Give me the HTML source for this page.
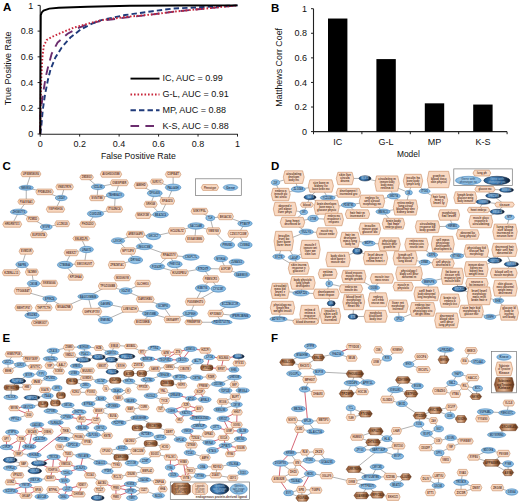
<!DOCTYPE html>
<html><head><meta charset="utf-8"><style>
*{margin:0;padding:0}
html,body{width:520px;height:503px;overflow:hidden;background:#fff}
svg{display:block;font-family:"Liberation Sans",sans-serif}
.lab{font-weight:bold;font-size:11.5px;fill:#000}
.tl{font-size:9px;fill:#111}
.tl2{font-size:8.9px;fill:#111}
.axis{fill:none;stroke:#222;stroke-width:1.1}
.tick{stroke:#222;stroke-width:1}
.ic{fill:none;stroke:#000;stroke-width:1.9}
.gl{fill:none;stroke:#c8263a;stroke-width:1.9;stroke-dasharray:1.6 1.9}
.mp{fill:none;stroke:#1f3a7a;stroke-width:1.9;stroke-dasharray:5.4 3.1}
.ks{fill:none;stroke:#6b2d6e;stroke-width:1.9;stroke-dasharray:8.6 6.3}
.o{fill:#f9d9c2;stroke:#c7895f;stroke-width:0.6}
.b{fill:url(#gb);stroke:#4a86ba;stroke-width:0.55}
.k{fill:url(#gk);stroke:#142b45;stroke-width:0.55}
.r{fill:url(#gr);stroke:#6a3a1c;stroke-width:0.5}
.box{fill:none;stroke:#777;stroke-width:0.7}
.e{stroke:#7d7d7d;stroke-width:0.6}
.er{stroke:#c8344a;stroke-width:0.75}
text.to,text.tb,text.tk,text.tr,text.td{font-size:3.1px;font-weight:bold;text-anchor:middle}
.to{fill:#64382a}
.tb{fill:#1a3c60}
.tk{fill:#9fc0de}
.tr{fill:#4a2812}
.td{fill:#5a3628;font-size:2.7px;font-weight:normal}
</style></head>
<body><svg width="520" height="503" viewBox="0 0 520 503">
<rect width="520" height="503" fill="#fff"/>

<defs>
<radialGradient id="gb" cx="50%" cy="45%" r="60%"><stop offset="0" stop-color="#acd1ec"/><stop offset="0.6" stop-color="#92c1e5"/><stop offset="1" stop-color="#6ca7d7"/></radialGradient>
<linearGradient id="gk" x1="0" y1="0" x2="1" y2="0"><stop offset="0" stop-color="#275a8d"/><stop offset="0.35" stop-color="#4683ba"/><stop offset="0.7" stop-color="#245283"/><stop offset="1" stop-color="#0a1729"/></linearGradient>
<linearGradient id="gr" x1="0" y1="0" x2="1" y2="0"><stop offset="0" stop-color="#7e4829"/><stop offset="0.25" stop-color="#c99670"/><stop offset="0.5" stop-color="#deb393"/><stop offset="0.8" stop-color="#a0653c"/><stop offset="1" stop-color="#4c2612"/></linearGradient>
</defs>

<text x="3" y="11.4" class="lab">A</text>
<path d="M40.2 5.4V134.3H237.8" class="axis"/>
<line x1="37.6" y1="134" x2="40.2" y2="134" class="tick"/>
<text x="33.2" y="137.1" class="tl" text-anchor="end">0</text>
<line x1="40.2" y1="134" x2="40.2" y2="136.6" class="tick"/>
<text x="40.2" y="147.2" class="tl" text-anchor="middle">0</text>
<line x1="37.6" y1="108.28" x2="40.2" y2="108.28" class="tick"/>
<text x="33.2" y="111.38" class="tl" text-anchor="end">0.2</text>
<line x1="79.66" y1="134" x2="79.66" y2="136.6" class="tick"/>
<text x="79.66" y="147.2" class="tl" text-anchor="middle">0.2</text>
<line x1="37.6" y1="82.56" x2="40.2" y2="82.56" class="tick"/>
<text x="33.2" y="85.66" class="tl" text-anchor="end">0.4</text>
<line x1="119.12" y1="134" x2="119.12" y2="136.6" class="tick"/>
<text x="119.12" y="147.2" class="tl" text-anchor="middle">0.4</text>
<line x1="37.6" y1="56.84" x2="40.2" y2="56.84" class="tick"/>
<text x="33.2" y="59.94" class="tl" text-anchor="end">0.6</text>
<line x1="158.58" y1="134" x2="158.58" y2="136.6" class="tick"/>
<text x="158.58" y="147.2" class="tl" text-anchor="middle">0.6</text>
<line x1="37.6" y1="31.12" x2="40.2" y2="31.12" class="tick"/>
<text x="33.2" y="34.22" class="tl" text-anchor="end">0.8</text>
<line x1="198.04" y1="134" x2="198.04" y2="136.6" class="tick"/>
<text x="198.04" y="147.2" class="tl" text-anchor="middle">0.8</text>
<line x1="37.6" y1="5.4" x2="40.2" y2="5.4" class="tick"/>
<text x="33.2" y="8.5" class="tl" text-anchor="end">1</text>
<line x1="237.5" y1="134" x2="237.5" y2="136.6" class="tick"/>
<text x="237.5" y="147.2" class="tl" text-anchor="middle">1</text>
<text x="138.3" y="158.9" class="tl" style="font-size:8.7px" text-anchor="middle">False Positive Rate</text>
<text transform="translate(11 68.4) rotate(-90)" class="tl" text-anchor="middle">True Positive Rate</text>
<polyline points="40.2,134 40.4,114.71 42.76,95.42 45.72,77.03 47.7,68.41 51.64,53.75 57.56,42.57 67.62,33.69 76.5,28.81 88.93,23.79 101.36,20.83 125.04,17.62 152.66,14.4 172.39,11.83 198.04,9.26 217.77,7.33 237.5,5.4" class="ks"/>
<polyline points="40.2,134 41.19,127.57 42.76,109.95 44.94,95.03 47.89,79.99 50.46,69.7 55.39,57.48 61.71,47.45 70.39,37.55 80.25,29.83 91.5,23.79 101.36,20.06 125.04,15.05 152.66,11.19 172.39,8.62 198.04,7.33 227.63,5.79 237.5,5.4" class="mp"/>
<polyline points="40.2,134 40.79,95.42 41.38,76.13 41.78,68.8 42.37,57.48 43.75,46.04 46.71,39.99 51.64,37.04 61.71,32.53 74.14,27.52 86.57,24.05 101.36,20.19 125.04,16.97 152.66,14.4 172.39,11.83 198.04,9.26 217.77,7.33 237.5,5.4" class="gl"/>
<polyline points="40.2,134 40.79,15.05 41.78,12.47 43.55,10.54 49.28,8.62 58.75,7.71 87.55,6.69 129.97,5.79 178.31,5.53 237.5,5.4" class="ic"/>
<line x1="130.5" y1="78.6" x2="159.5" y2="78.6" class="ic"/>
<text x="162.4" y="81.1" class="tl">IC, AUC = 0.99</text>
<line x1="130.5" y1="94.5" x2="159.5" y2="94.5" class="gl"/>
<text x="162.4" y="97" class="tl">G-L, AUC = 0.91</text>
<line x1="130.5" y1="110.3" x2="159.5" y2="110.3" class="mp"/>
<text x="162.4" y="112.8" class="tl">MP, AUC = 0.88</text>
<line x1="130.5" y1="126" x2="159.5" y2="126" class="ks"/>
<text x="162.4" y="128.5" class="tl">K-S, AUC = 0.88</text>
<text x="271" y="11.6" class="lab">B</text>
<path d="M313.5 8.7V131.6H507" class="axis"/>
<line x1="311" y1="131.6" x2="313.5" y2="131.6" class="tick"/>
<text x="307" y="134.7" class="tl" text-anchor="end">0</text>
<line x1="311" y1="107.02" x2="313.5" y2="107.02" class="tick"/>
<text x="307" y="110.12" class="tl" text-anchor="end">0.2</text>
<line x1="311" y1="82.44" x2="313.5" y2="82.44" class="tick"/>
<text x="307" y="85.54" class="tl" text-anchor="end">0.4</text>
<line x1="311" y1="57.86" x2="313.5" y2="57.86" class="tick"/>
<text x="307" y="60.96" class="tl" text-anchor="end">0.6</text>
<line x1="311" y1="33.28" x2="313.5" y2="33.28" class="tick"/>
<text x="307" y="36.38" class="tl" text-anchor="end">0.8</text>
<line x1="311" y1="8.7" x2="313.5" y2="8.7" class="tick"/>
<text x="307" y="11.8" class="tl" text-anchor="end">1</text>
<line x1="313.5" y1="131.6" x2="313.5" y2="134.2" class="tick"/>
<line x1="361.9" y1="131.6" x2="361.9" y2="134.2" class="tick"/>
<line x1="410.3" y1="131.6" x2="410.3" y2="134.2" class="tick"/>
<line x1="458.7" y1="131.6" x2="458.7" y2="134.2" class="tick"/>
<line x1="507.1" y1="131.6" x2="507.1" y2="134.2" class="tick"/>
<rect x="328" y="18.53" width="19.4" height="113.07" fill="#000"/>
<text x="337.7" y="145" class="tl" text-anchor="middle">IC</text>
<rect x="376.4" y="59.09" width="19.4" height="72.51" fill="#000"/>
<text x="386.1" y="145" class="tl" text-anchor="middle">G-L</text>
<rect x="424.8" y="103.33" width="19.4" height="28.27" fill="#000"/>
<text x="434.5" y="145" class="tl" text-anchor="middle">MP</text>
<rect x="473.2" y="104.56" width="19.4" height="27.04" fill="#000"/>
<text x="482.9" y="145" class="tl" text-anchor="middle">K-S</text>
<text x="408.4" y="157.4" class="tl" style="font-size:8.4px" text-anchor="middle">Model</text>
<text transform="translate(282 67.4) rotate(-90)" class="tl2" text-anchor="middle">Matthews Corr Coef</text>
<text x="2.6" y="170.2" class="lab">C</text>
<line x1="30.88" y1="174" x2="26.25" y2="187.75" class="e"/>
<line x1="26.25" y1="187.75" x2="44.62" y2="191.88" class="e"/>
<line x1="26.25" y1="187.75" x2="26.25" y2="201.62" class="e"/>
<line x1="44.62" y1="191.88" x2="61.25" y2="198" class="e"/>
<line x1="64.62" y1="186.88" x2="61.25" y2="198" class="e"/>
<line x1="61.25" y1="198" x2="55.5" y2="209.25" class="e"/>
<line x1="26.25" y1="201.62" x2="18.75" y2="211.88" class="e"/>
<line x1="18.75" y1="211.88" x2="32.75" y2="219" class="e"/>
<line x1="18.75" y1="211.88" x2="12.25" y2="224.25" class="e"/>
<line x1="32.75" y1="219" x2="46.25" y2="227" class="e"/>
<line x1="46.25" y1="227" x2="62.25" y2="223.75" class="e"/>
<line x1="46.25" y1="227" x2="38.75" y2="234.88" class="e"/>
<line x1="86.62" y1="177.25" x2="98" y2="186.88" class="e"/>
<line x1="119.38" y1="182.75" x2="98" y2="186.88" class="e"/>
<line x1="119.38" y1="182.75" x2="115.25" y2="195" class="e"/>
<line x1="98" y1="186.88" x2="97" y2="198" class="e"/>
<line x1="115.25" y1="195" x2="97" y2="198" class="e"/>
<line x1="115.25" y1="195" x2="114.5" y2="209.25" class="e"/>
<line x1="114.5" y1="209.25" x2="95.5" y2="213.75" class="e"/>
<line x1="95.5" y1="213.75" x2="87.75" y2="224.25" class="e"/>
<line x1="81.25" y1="238.5" x2="86.62" y2="249.5" class="e"/>
<line x1="118" y1="240.75" x2="135.5" y2="234.25" class="e"/>
<line x1="118" y1="240.75" x2="128" y2="251" class="e"/>
<line x1="173.12" y1="174.38" x2="173.12" y2="187.5" class="e"/>
<line x1="156.88" y1="181.62" x2="173.12" y2="187.5" class="e"/>
<line x1="140.88" y1="185.38" x2="154.75" y2="193.25" class="e"/>
<line x1="173.12" y1="187.5" x2="167.25" y2="201" class="e"/>
<line x1="154.75" y1="193.25" x2="167.25" y2="201" class="e"/>
<line x1="154.75" y1="193.25" x2="150.62" y2="204.25" class="e"/>
<line x1="167.25" y1="201" x2="160.62" y2="214.5" class="e"/>
<line x1="150.62" y1="204.25" x2="160.62" y2="214.5" class="e"/>
<line x1="143.12" y1="215.38" x2="160.62" y2="214.5" class="e"/>
<line x1="199.5" y1="211.25" x2="210.25" y2="218" class="e"/>
<line x1="210.25" y1="218" x2="225.62" y2="216.5" class="e"/>
<line x1="210.25" y1="218" x2="213.5" y2="231" class="e"/>
<line x1="225.62" y1="216.5" x2="245" y2="223.5" class="e"/>
<line x1="196" y1="226" x2="177" y2="231" class="e"/>
<line x1="196" y1="226" x2="213.5" y2="231" class="e"/>
<line x1="196" y1="226" x2="194.75" y2="239" class="e"/>
<line x1="177" y1="231" x2="153.5" y2="236.25" class="e"/>
<line x1="213.5" y1="231" x2="227.5" y2="245" class="e"/>
<line x1="245" y1="223.5" x2="238.12" y2="233.75" class="e"/>
<line x1="238.12" y1="233.75" x2="227.5" y2="245" class="e"/>
<line x1="238.12" y1="233.75" x2="245" y2="245" class="e"/>
<line x1="135.5" y1="234.25" x2="153.5" y2="236.25" class="e"/>
<line x1="135.5" y1="234.25" x2="144.5" y2="246.5" class="e"/>
<line x1="144.5" y1="246.5" x2="128" y2="251" class="e"/>
<line x1="144.5" y1="246.5" x2="169.25" y2="255.38" class="e"/>
<line x1="26.25" y1="251.25" x2="22.12" y2="264.5" class="e"/>
<line x1="22.12" y1="264.5" x2="11.25" y2="272.75" class="e"/>
<line x1="22.12" y1="264.5" x2="31.88" y2="272.12" class="e"/>
<line x1="31.88" y1="272.12" x2="33.5" y2="283.5" class="e"/>
<line x1="33.5" y1="283.5" x2="49.25" y2="283.38" class="e"/>
<line x1="33.5" y1="283.5" x2="22.88" y2="291" class="e"/>
<line x1="22.88" y1="291" x2="49.75" y2="298.75" class="e"/>
<line x1="49.75" y1="298.75" x2="43.75" y2="307.75" class="e"/>
<line x1="49.75" y1="298.75" x2="64" y2="307.12" class="e"/>
<line x1="23.5" y1="307.75" x2="32" y2="315.38" class="e"/>
<line x1="43.75" y1="307.75" x2="32" y2="315.38" class="e"/>
<line x1="64" y1="307.12" x2="88.12" y2="296.5" class="e"/>
<line x1="32" y1="315.38" x2="40" y2="323" class="e"/>
<line x1="86.62" y1="249.5" x2="71.25" y2="252.75" class="e"/>
<line x1="86.62" y1="249.5" x2="84.5" y2="263.5" class="e"/>
<line x1="71.25" y1="252.75" x2="65" y2="264.88" class="e"/>
<line x1="65" y1="264.88" x2="84.5" y2="263.5" class="e"/>
<line x1="65" y1="264.88" x2="75.62" y2="277.12" class="e"/>
<line x1="88.12" y1="296.5" x2="92" y2="311.5" class="e"/>
<line x1="88.12" y1="296.5" x2="107.75" y2="286" class="e"/>
<line x1="105.5" y1="303.75" x2="92" y2="311.5" class="e"/>
<line x1="105.5" y1="303.75" x2="130" y2="309" class="e"/>
<line x1="92" y1="311.5" x2="105.5" y2="320" class="e"/>
<line x1="105.5" y1="320" x2="130" y2="309" class="e"/>
<line x1="128" y1="251" x2="135.5" y2="260" class="e"/>
<line x1="117" y1="264.88" x2="135.5" y2="260" class="e"/>
<line x1="107.75" y1="286" x2="125.75" y2="291" class="e"/>
<line x1="125.75" y1="291" x2="142.75" y2="283.5" class="e"/>
<line x1="125.75" y1="291" x2="145.25" y2="299.25" class="e"/>
<line x1="130" y1="309" x2="150.38" y2="313.5" class="e"/>
<line x1="169.25" y1="255.38" x2="191" y2="257.12" class="e"/>
<line x1="169.25" y1="255.38" x2="157.25" y2="266.5" class="e"/>
<line x1="169.25" y1="255.38" x2="174.75" y2="264.25" class="e"/>
<line x1="157.25" y1="266.5" x2="179.38" y2="272.75" class="e"/>
<line x1="174.75" y1="264.25" x2="179.38" y2="272.75" class="e"/>
<line x1="179.38" y1="272.75" x2="203.25" y2="268.5" class="e"/>
<line x1="145.25" y1="299.25" x2="163" y2="306" class="e"/>
<line x1="163" y1="306" x2="172.38" y2="319.5" class="e"/>
<line x1="150.38" y1="313.5" x2="142.88" y2="322" class="e"/>
<line x1="150.38" y1="313.5" x2="172.38" y2="319.5" class="e"/>
<line x1="203.25" y1="268.5" x2="225.88" y2="269" class="e"/>
<line x1="203.25" y1="268.5" x2="211" y2="279" class="e"/>
<line x1="220.88" y1="258.5" x2="225.88" y2="269" class="e"/>
<line x1="236.62" y1="262.12" x2="225.88" y2="269" class="e"/>
<line x1="225.88" y1="269" x2="241.88" y2="274.5" class="e"/>
<line x1="211" y1="279" x2="202.5" y2="288.25" class="e"/>
<line x1="211" y1="279" x2="218.25" y2="288.75" class="e"/>
<line x1="202.5" y1="288.25" x2="195.25" y2="301.75" class="e"/>
<line x1="218.25" y1="288.75" x2="195.25" y2="301.75" class="e"/>
<line x1="195.25" y1="301.75" x2="190.25" y2="313.5" class="e"/>
<line x1="190.25" y1="313.5" x2="172.38" y2="319.5" class="e"/>
<line x1="190.25" y1="313.5" x2="193.5" y2="322.25" class="e"/>
<line x1="193.5" y1="322.25" x2="221.75" y2="322.25" class="e"/>
<line x1="230" y1="304.25" x2="215.62" y2="313.5" class="e"/>
<line x1="215.62" y1="313.5" x2="240.25" y2="316" class="e"/>
<line x1="215.62" y1="313.5" x2="221.75" y2="322.25" class="e"/>
<path d="M22.3 171.3H39.45L40.95 174L39.45 176.7H22.3L20.8 174Z" class="o"/>
<text x="30.88" y="175.05" class="to" lengthAdjust="spacingAndGlyphs" textLength="16.15">UFIEM580X6</text>
<ellipse cx="26.25" cy="187.75" rx="7.2" ry="2.45" class="b"/>
<text x="26.25" y="188.8" class="tb" lengthAdjust="spacingAndGlyphs" textLength="9.9">NNNWGG</text>
<path d="M37.3 189.05H51.95L53.45 191.88L51.95 194.7H37.3L35.8 191.88Z" class="o"/>
<text x="44.62" y="192.93" class="to" lengthAdjust="spacingAndGlyphs" textLength="13.65">PFDBUD9G</text>
<path d="M57.3 184.05H71.95L73.45 186.88L71.95 189.7H57.3L55.8 186.88Z" class="o"/>
<text x="64.62" y="187.93" class="to" lengthAdjust="spacingAndGlyphs" textLength="13.65">VNE57R7K</text>
<ellipse cx="61.25" cy="198" rx="5.95" ry="2.7" class="b"/>
<text x="61.25" y="199.05" class="tb" lengthAdjust="spacingAndGlyphs" textLength="7.4">CED4Y</text>
<path d="M19.3 199.05H33.2L34.7 201.62L33.2 204.2H19.3L17.8 201.62Z" class="o"/>
<text x="26.25" y="202.68" class="to" lengthAdjust="spacingAndGlyphs" textLength="12.9">FSASYA41</text>
<path d="M47.8 206.3H63.2L64.7 209.25L63.2 212.2H47.8L46.3 209.25Z" class="o"/>
<text x="55.5" y="210.3" class="to" lengthAdjust="spacingAndGlyphs" textLength="14.4">YISFHSH36</text>
<ellipse cx="18.75" cy="211.88" rx="8.45" ry="2.82" class="b"/>
<text x="18.75" y="212.93" class="tb" lengthAdjust="spacingAndGlyphs" textLength="12.4">ZHGM07Y5</text>
<path d="M27.8 216.3H37.7L39.2 219L37.7 221.7H27.8L26.3 219Z" class="o"/>
<text x="32.75" y="220.05" class="to" lengthAdjust="spacingAndGlyphs" textLength="8.9">PZM5D</text>
<path d="M4.3 221.3H20.2L21.7 224.25L20.2 227.2H4.3L2.8 224.25Z" class="o"/>
<text x="12.25" y="225.3" class="to" lengthAdjust="spacingAndGlyphs" textLength="14.9">HRGR97511</text>
<ellipse cx="46.25" cy="227" rx="5.95" ry="2.7" class="b"/>
<text x="46.25" y="228.05" class="tb" lengthAdjust="spacingAndGlyphs" textLength="7.4">NYGFW</text>
<path d="M56.3 220.8H68.2L69.7 223.75L68.2 226.7H56.3L54.8 223.75Z" class="o"/>
<text x="62.25" y="224.8" class="to" lengthAdjust="spacingAndGlyphs" textLength="10.9">LCZN120</text>
<path d="M31.8 232.05H45.7L47.2 234.88L45.7 237.7H31.8L30.3 234.88Z" class="o"/>
<text x="38.75" y="235.93" class="to" lengthAdjust="spacingAndGlyphs" textLength="12.9">EUP295TA</text>
<path d="M81.3 174.8H91.95L93.45 177.25L91.95 179.7H81.3L79.8 177.25Z" class="o"/>
<text x="86.62" y="178.3" class="to" lengthAdjust="spacingAndGlyphs" textLength="9.65">ZWDEG3</text>
<path d="M101.8 171.3H120.2L121.7 174.25L120.2 177.2H101.8L100.3 174.25Z" class="o"/>
<text x="111" y="175.3" class="to" lengthAdjust="spacingAndGlyphs" textLength="17.4">AIGH5O0598</text>
<path d="M111.8 179.8H126.95L128.45 182.75L126.95 185.7H111.8L110.3 182.75Z" class="o"/>
<text x="119.38" y="183.8" class="to" lengthAdjust="spacingAndGlyphs" textLength="14.15">OSESP9ER</text>
<ellipse cx="98" cy="186.88" rx="6.7" ry="2.82" class="b"/>
<text x="98" y="187.93" class="tb" lengthAdjust="spacingAndGlyphs" textLength="8.9">VZDL8D</text>
<ellipse cx="115.25" cy="195" rx="8.95" ry="3.7" class="b"/>
<text x="115.25" y="196.05" class="tb" lengthAdjust="spacingAndGlyphs" textLength="13.4">TBHB8A1V</text>
<path d="M90.8 195.3H103.2L104.7 198L103.2 200.7H90.8L89.3 198Z" class="o"/>
<text x="97" y="199.05" class="to" lengthAdjust="spacingAndGlyphs" textLength="11.4">SVSIT88</text>
<path d="M107.8 206.3H121.2L122.7 209.25L121.2 212.2H107.8L106.3 209.25Z" class="o"/>
<text x="114.5" y="210.3" class="to" lengthAdjust="spacingAndGlyphs" textLength="12.4">ITG2NC6</text>
<ellipse cx="95.5" cy="213.75" rx="8.2" ry="3.45" class="b"/>
<text x="95.5" y="214.8" class="tb" lengthAdjust="spacingAndGlyphs" textLength="11.9">CGXD25E</text>
<path d="M81.3 221.3H94.2L95.7 224.25L94.2 227.2H81.3L79.8 224.25Z" class="o"/>
<text x="87.75" y="225.3" class="to" lengthAdjust="spacingAndGlyphs" textLength="11.9">PHZ623O</text>
<path d="M74.3 236.3H88.2L89.7 238.5L88.2 240.7H74.3L72.8 238.5Z" class="o"/>
<text x="81.25" y="239.55" class="to" lengthAdjust="spacingAndGlyphs" textLength="12.9">SNLMZLP6</text>
<ellipse cx="118" cy="240.75" rx="6.7" ry="2.95" class="b"/>
<text x="118" y="241.8" class="tb" lengthAdjust="spacingAndGlyphs" textLength="8.9">LSVCH1</text>
<path d="M166.8 171.55H179.45L180.95 174.38L179.45 177.2H166.8L165.3 174.38Z" class="o"/>
<text x="173.12" y="175.43" class="to" lengthAdjust="spacingAndGlyphs" textLength="11.65">CIIFE4T</text>
<path d="M151.8 179.05H161.95L163.45 181.62L161.95 184.2H151.8L150.3 181.62Z" class="o"/>
<text x="156.88" y="182.68" class="to" lengthAdjust="spacingAndGlyphs" textLength="9.15">SUR1YC</text>
<path d="M135.55 182.3H146.2L147.7 185.38L146.2 188.45H135.55L134.05 185.38Z" class="o"/>
<text x="140.88" y="186.43" class="to" lengthAdjust="spacingAndGlyphs" textLength="9.65">IAWIHD</text>
<ellipse cx="173.12" cy="187.5" rx="7.82" ry="3.45" class="b"/>
<text x="173.12" y="188.55" class="tb" lengthAdjust="spacingAndGlyphs" textLength="11.15">PAL640H</text>
<ellipse cx="154.75" cy="193.25" rx="7.45" ry="3.45" class="b"/>
<text x="154.75" y="194.3" class="tb" lengthAdjust="spacingAndGlyphs" textLength="10.4">DFIG4GS</text>
<path d="M161.3 197.8H173.2L174.7 201L173.2 204.2H161.3L159.8 201Z" class="o"/>
<text x="167.25" y="202.05" class="to" lengthAdjust="spacingAndGlyphs" textLength="10.9">XFIA0ZG</text>
<path d="M145.55 201.3H155.7L157.2 204.25L155.7 207.2H145.55L144.05 204.25Z" class="o"/>
<text x="150.62" y="205.3" class="to" lengthAdjust="spacingAndGlyphs" textLength="9.15">SRH168</text>
<path d="M136.8 212.3H149.45L150.95 215.38L149.45 218.45H136.8L135.3 215.38Z" class="o"/>
<text x="143.12" y="216.43" class="to" lengthAdjust="spacingAndGlyphs" textLength="11.65">NSK3Y2M</text>
<ellipse cx="160.62" cy="214.5" rx="7.82" ry="3.2" class="b"/>
<text x="160.62" y="215.55" class="tb" lengthAdjust="spacingAndGlyphs" textLength="11.15">BEAZ6C6</text>
<path d="M192.55 208.3H206.45L207.95 211.25L206.45 214.2H192.55L191.05 211.25Z" class="o"/>
<text x="199.5" y="212.3" class="to" lengthAdjust="spacingAndGlyphs" textLength="12.9">SXKYPIIL</text>
<ellipse cx="210.25" cy="218" rx="4.45" ry="2.7" class="b"/>
<text x="210.25" y="219.05" class="tb" lengthAdjust="spacingAndGlyphs" textLength="4.4">TLH</text>
<path d="M219.3 213.3H231.95L233.45 216.5L231.95 219.7H219.3L217.8 216.5Z" class="o"/>
<text x="225.62" y="217.55" class="to" lengthAdjust="spacingAndGlyphs" textLength="11.65">BKGACS3</text>
<ellipse cx="196" cy="226" rx="8.2" ry="3.2" class="b"/>
<text x="196" y="227.05" class="tb" lengthAdjust="spacingAndGlyphs" textLength="11.9">SACCUAW</text>
<path d="M169.8 227.8H184.2L185.7 231L184.2 234.2H169.8L168.3 231Z" class="o"/>
<text x="177" y="232.05" class="to" lengthAdjust="spacingAndGlyphs" textLength="13.4">HCU29L7Z</text>
<path d="M207.8 227.8H219.2L220.7 231L219.2 234.2H207.8L206.3 231Z" class="o"/>
<text x="213.5" y="232.05" class="to" lengthAdjust="spacingAndGlyphs" textLength="10.4">VWEY68</text>
<path d="M186.8 235.8H202.7L204.2 239L202.7 242.2H186.8L185.3 239Z" class="o"/>
<text x="194.75" y="240.05" class="to" lengthAdjust="spacingAndGlyphs" textLength="14.9">ESSA93BM6</text>
<ellipse cx="245" cy="223.5" rx="7.2" ry="3.2" class="b"/>
<text x="245" y="224.55" class="tb" lengthAdjust="spacingAndGlyphs" textLength="9.9">PTB87P</text>
<path d="M229.3 230.3H246.95L248.45 233.75L246.95 237.2H229.3L227.8 233.75Z" class="o"/>
<text x="238.12" y="234.8" class="to" lengthAdjust="spacingAndGlyphs" textLength="16.65">CZS117C33W</text>
<ellipse cx="227.5" cy="245" rx="7.2" ry="3.7" class="b"/>
<text x="227.5" y="246.05" class="tb" lengthAdjust="spacingAndGlyphs" textLength="9.9">PRNXB3</text>
<ellipse cx="245" cy="245" rx="7.2" ry="3.7" class="b"/>
<text x="245" y="246.05" class="tb" lengthAdjust="spacingAndGlyphs" textLength="9.9">CVEW42</text>
<path d="M127.8 231.3H143.2L144.7 234.25L143.2 237.2H127.8L126.3 234.25Z" class="o"/>
<text x="135.5" y="235.3" class="to" lengthAdjust="spacingAndGlyphs" textLength="14.4">ARBXG44P8</text>
<ellipse cx="153.5" cy="236.25" rx="7.2" ry="3.45" class="b"/>
<text x="153.5" y="237.3" class="tb" lengthAdjust="spacingAndGlyphs" textLength="9.9">GKC0C7</text>
<ellipse cx="144.5" cy="246.5" rx="8.2" ry="3.2" class="b"/>
<text x="144.5" y="247.55" class="tb" lengthAdjust="spacingAndGlyphs" textLength="11.9">ING3CSM</text>
<path d="M20.55 248.3H31.95L33.45 251.25L31.95 254.2H20.55L19.05 251.25Z" class="o"/>
<text x="26.25" y="252.3" class="to" lengthAdjust="spacingAndGlyphs" textLength="10.4">EVWD3R</text>
<ellipse cx="22.12" cy="264.5" rx="6.32" ry="3.2" class="b"/>
<text x="22.12" y="265.55" class="tb" lengthAdjust="spacingAndGlyphs" textLength="8.15">NAFR6</text>
<path d="M3.8 269.8H18.7L20.2 272.75L18.7 275.7H3.8L2.3 272.75Z" class="o"/>
<text x="11.25" y="273.8" class="to" lengthAdjust="spacingAndGlyphs" textLength="13.9">KZENLL13</text>
<path d="M26.8 269.05H36.95L38.45 272.12L36.95 275.2H26.8L25.3 272.12Z" class="o"/>
<text x="31.88" y="273.18" class="to" lengthAdjust="spacingAndGlyphs" textLength="9.15">YAZMN9</text>
<ellipse cx="33.5" cy="283.5" rx="6.2" ry="3.2" class="b"/>
<text x="33.5" y="284.55" class="tb" lengthAdjust="spacingAndGlyphs" textLength="7.9">CMO0B</text>
<path d="M42.3 280.3H56.2L57.7 283.38L56.2 286.45H42.3L40.8 283.38Z" class="o"/>
<text x="49.25" y="284.43" class="to" lengthAdjust="spacingAndGlyphs" textLength="12.9">XKW36G66</text>
<path d="M15.55 287.8H30.2L31.7 291L30.2 294.2H15.55L14.05 291Z" class="o"/>
<text x="22.88" y="292.05" class="to" lengthAdjust="spacingAndGlyphs" textLength="13.65">TTG06E4T</text>
<ellipse cx="49.75" cy="298.75" rx="6.95" ry="2.95" class="b"/>
<text x="49.75" y="299.8" class="tb" lengthAdjust="spacingAndGlyphs" textLength="9.4">EFRKZ4</text>
<path d="M16.3 304.8H30.7L32.2 307.75L30.7 310.7H16.3L14.8 307.75Z" class="o"/>
<text x="23.5" y="308.8" class="to" lengthAdjust="spacingAndGlyphs" textLength="13.4">NWHT1FS7</text>
<path d="M36.8 304.8H50.7L52.2 307.75L50.7 310.7H36.8L35.3 307.75Z" class="o"/>
<text x="43.75" y="308.8" class="to" lengthAdjust="spacingAndGlyphs" textLength="12.9">THP7TCTH</text>
<path d="M56.8 304.05H71.2L72.7 307.12L71.2 310.2H56.8L55.3 307.12Z" class="o"/>
<text x="64" y="308.18" class="to" lengthAdjust="spacingAndGlyphs" textLength="13.4">MIUA6ZNB</text>
<ellipse cx="32" cy="315.38" rx="7.2" ry="3.07" class="b"/>
<text x="32" y="316.43" class="tb" lengthAdjust="spacingAndGlyphs" textLength="9.9">RIU283</text>
<path d="M32.8 320.3H47.2L48.7 323L47.2 325.7H32.8L31.3 323Z" class="o"/>
<text x="40" y="324.05" class="to" lengthAdjust="spacingAndGlyphs" textLength="13.4">CIHWK0O7</text>
<ellipse cx="86.62" cy="249.5" rx="6.83" ry="3.2" class="b"/>
<text x="86.62" y="250.55" class="tb" lengthAdjust="spacingAndGlyphs" textLength="9.15">URAS7D</text>
<path d="M65.55 249.8H76.95L78.45 252.75L76.95 255.7H65.55L64.05 252.75Z" class="o"/>
<text x="71.25" y="253.8" class="to" lengthAdjust="spacingAndGlyphs" textLength="10.4">HEEXZ7</text>
<ellipse cx="65" cy="264.88" rx="7.7" ry="3.57" class="b"/>
<text x="65" y="265.93" class="tb" lengthAdjust="spacingAndGlyphs" textLength="10.9">CTBEB44</text>
<path d="M76.3 260.3H92.7L94.2 263.5L92.7 266.7H76.3L74.8 263.5Z" class="o"/>
<text x="84.5" y="264.55" class="to" lengthAdjust="spacingAndGlyphs" textLength="15.4">SWO1KUIVT</text>
<path d="M69.3 274.05H81.95L83.45 277.12L81.95 280.2H69.3L67.8 277.12Z" class="o"/>
<text x="75.62" y="278.18" class="to" lengthAdjust="spacingAndGlyphs" textLength="11.65">KPI3HA4</text>
<ellipse cx="88.12" cy="296.5" rx="10.33" ry="3.2" class="b"/>
<text x="88.12" y="297.55" class="tb" lengthAdjust="spacingAndGlyphs" textLength="16.15">BAGX1XMB6N</text>
<ellipse cx="105.5" cy="303.75" rx="7.2" ry="3.45" class="b"/>
<text x="105.5" y="304.8" class="tb" lengthAdjust="spacingAndGlyphs" textLength="9.9">GAK8R4</text>
<path d="M83.8 308.3H100.2L101.7 311.5L100.2 314.7H83.8L82.3 311.5Z" class="o"/>
<text x="92" y="312.55" class="to" lengthAdjust="spacingAndGlyphs" textLength="15.4">GHPKVF7XV</text>
<ellipse cx="105.5" cy="320" rx="7.2" ry="3.7" class="b"/>
<text x="105.5" y="321.05" class="tb" lengthAdjust="spacingAndGlyphs" textLength="9.9">ENBVB2</text>
<path d="M121.8 247.8H134.2L135.7 251L134.2 254.2H121.8L120.3 251Z" class="o"/>
<text x="128" y="252.05" class="to" lengthAdjust="spacingAndGlyphs" textLength="11.4">NPY12F8</text>
<path d="M109.8 261.3H124.2L125.7 264.88L124.2 268.45H109.8L108.3 264.88Z" class="o"/>
<text x="117" y="265.93" class="to" lengthAdjust="spacingAndGlyphs" textLength="13.4">ZPBZM7AC</text>
<path d="M115.55 274.8H129.2L130.7 277.75L129.2 280.7H115.55L114.05 277.75Z" class="o"/>
<text x="122.38" y="278.8" class="to" lengthAdjust="spacingAndGlyphs" textLength="12.65">MODGK6YM</text>
<path d="M99.8 282.8H115.7L117.2 286L115.7 289.2H99.8L98.3 286Z" class="o"/>
<text x="107.75" y="287.05" class="to" lengthAdjust="spacingAndGlyphs" textLength="14.9">TPGZ036BB</text>
<ellipse cx="125.75" cy="291" rx="6.45" ry="3.2" class="b"/>
<text x="125.75" y="292.05" class="tb" lengthAdjust="spacingAndGlyphs" textLength="8.4">IGZVI</text>
<path d="M122.8 305.8H137.2L138.7 309L137.2 312.2H122.8L121.3 309Z" class="o"/>
<text x="130" y="310.05" class="to" lengthAdjust="spacingAndGlyphs" textLength="13.4">LVBY4Z1H</text>
<ellipse cx="135.5" cy="260" rx="7.2" ry="3.7" class="b"/>
<text x="135.5" y="261.05" class="tb" lengthAdjust="spacingAndGlyphs" textLength="9.9">DRY662</text>
<path d="M162.3 252.3H176.2L177.7 255.38L176.2 258.45H162.3L160.8 255.38Z" class="o"/>
<text x="169.25" y="256.43" class="to" lengthAdjust="spacingAndGlyphs" textLength="12.9">RFA4257V</text>
<ellipse cx="191" cy="257.12" rx="8.2" ry="3.07" class="b"/>
<text x="191" y="258.18" class="tb" lengthAdjust="spacingAndGlyphs" textLength="11.9">CSGFC7L</text>
<ellipse cx="157.25" cy="266.5" rx="7.45" ry="3.2" class="b"/>
<text x="157.25" y="267.55" class="tb" lengthAdjust="spacingAndGlyphs" textLength="10.4">FOD43R7</text>
<ellipse cx="174.75" cy="264.25" rx="7.45" ry="3.45" class="b"/>
<text x="174.75" y="265.3" class="tb" lengthAdjust="spacingAndGlyphs" textLength="10.4">FHEV314</text>
<path d="M171.8 269.8H186.95L188.45 272.75L186.95 275.7H171.8L170.3 272.75Z" class="o"/>
<text x="179.38" y="273.8" class="to" lengthAdjust="spacingAndGlyphs" textLength="14.15">KIUI3FEU</text>
<path d="M136.3 280.3H149.2L150.7 283.5L149.2 286.7H136.3L134.8 283.5Z" class="o"/>
<text x="142.75" y="284.55" class="to" lengthAdjust="spacingAndGlyphs" textLength="11.9">GLCHH10</text>
<path d="M137.8 296.3H152.7L154.2 299.25L152.7 302.2H137.8L136.3 299.25Z" class="o"/>
<text x="145.25" y="300.3" class="to" lengthAdjust="spacingAndGlyphs" textLength="13.9">DAR35KBU</text>
<ellipse cx="163" cy="306" rx="7.2" ry="3.2" class="b"/>
<text x="163" y="307.05" class="tb" lengthAdjust="spacingAndGlyphs" textLength="9.9">GCMFI0</text>
<ellipse cx="150.38" cy="313.5" rx="8.07" ry="3.2" class="b"/>
<text x="150.38" y="314.55" class="tb" lengthAdjust="spacingAndGlyphs" textLength="11.65">DWV5MBI</text>
<path d="M135.55 319.3H150.2L151.7 322L150.2 324.7H135.55L134.05 322Z" class="o"/>
<text x="142.88" y="323.05" class="to" lengthAdjust="spacingAndGlyphs" textLength="13.65">BVZ35MKB</text>
<ellipse cx="203.25" cy="268.5" rx="7.45" ry="3.2" class="b"/>
<text x="203.25" y="269.55" class="tb" lengthAdjust="spacingAndGlyphs" textLength="10.4">RTRD8TF</text>
<ellipse cx="220.88" cy="258.5" rx="6.82" ry="3.2" class="b"/>
<text x="220.88" y="259.55" class="tb" lengthAdjust="spacingAndGlyphs" textLength="9.15">NYIK64</text>
<ellipse cx="236.62" cy="262.12" rx="7.57" ry="3.07" class="b"/>
<text x="236.62" y="263.18" class="tb" lengthAdjust="spacingAndGlyphs" textLength="10.65">ZUMA563</text>
<path d="M220.55 265.8H231.2L232.7 269L231.2 272.2H220.55L219.05 269Z" class="o"/>
<text x="225.88" y="270.05" class="to" lengthAdjust="spacingAndGlyphs" textLength="9.65">AOFCMF</text>
<ellipse cx="241.88" cy="274.5" rx="7.82" ry="3.2" class="b"/>
<text x="241.88" y="275.55" class="tb" lengthAdjust="spacingAndGlyphs" textLength="11.15">EABW6V8</text>
<path d="M204.3 275.8H217.7L219.2 279L217.7 282.2H204.3L202.8 279Z" class="o"/>
<text x="211" y="280.05" class="to" lengthAdjust="spacingAndGlyphs" textLength="12.4">FEMSCR3</text>
<ellipse cx="202.5" cy="288.25" rx="7.2" ry="3.45" class="b"/>
<text x="202.5" y="289.3" class="tb" lengthAdjust="spacingAndGlyphs" textLength="9.9">KEB7V6</text>
<ellipse cx="218.25" cy="288.75" rx="7.45" ry="3.45" class="b"/>
<text x="218.25" y="289.8" class="tb" lengthAdjust="spacingAndGlyphs" textLength="10.4">CYV2397</text>
<path d="M186.8 298.3H203.7L205.2 301.75L203.7 305.2H186.8L185.3 301.75Z" class="o"/>
<text x="195.25" y="302.8" class="to" lengthAdjust="spacingAndGlyphs" textLength="15.9">FUGSMH3T0</text>
<ellipse cx="190.25" cy="313.5" rx="7.45" ry="3.2" class="b"/>
<text x="190.25" y="314.55" class="tb" lengthAdjust="spacingAndGlyphs" textLength="10.4">XLDPW6H</text>
<path d="M165.55 316.3H179.2L180.7 319.5L179.2 322.7H165.55L164.05 319.5Z" class="o"/>
<text x="172.38" y="320.55" class="to" lengthAdjust="spacingAndGlyphs" textLength="12.65">ONXSARP7</text>
<path d="M186.3 319.8H200.7L202.2 322.25L200.7 324.7H186.3L184.8 322.25Z" class="o"/>
<text x="193.5" y="323.3" class="to" lengthAdjust="spacingAndGlyphs" textLength="13.4">FRNEMPXW</text>
<ellipse cx="230" cy="304.25" rx="10.2" ry="3.45" class="b"/>
<text x="230" y="305.3" class="tb" lengthAdjust="spacingAndGlyphs" textLength="15.9">ECZZB62C1R</text>
<path d="M209.3 310.3H221.95L223.45 313.5L221.95 316.7H209.3L207.8 313.5Z" class="o"/>
<text x="215.62" y="314.55" class="to" lengthAdjust="spacingAndGlyphs" textLength="11.65">KFX3M4V</text>
<ellipse cx="240.25" cy="316" rx="10.45" ry="3.2" class="b"/>
<text x="240.25" y="317.05" class="tb" lengthAdjust="spacingAndGlyphs" textLength="16.4">IPERI3BNI6</text>
<ellipse cx="221.75" cy="322.25" rx="10.45" ry="2.45" class="b"/>
<text x="221.75" y="323.3" class="tb" lengthAdjust="spacingAndGlyphs" textLength="16.4">FID057U1T6</text>
<rect x="195.5" y="178.8" width="45.8" height="16.7" class="box"/>
<path d="M202.8 184.6H217.1L218.6 187.5L217.1 190.4H202.8L201.3 187.5Z" class="o"/>
<text x="209.95" y="188.55" class="to" lengthAdjust="spacingAndGlyphs" textLength="12">Phenotype</text>
<ellipse cx="230.5" cy="187.5" rx="7.3" ry="2.9" class="b"/>
<text x="230.5" y="188.55" class="tb" lengthAdjust="spacingAndGlyphs" textLength="9">Gene</text>
<text x="271" y="170.2" class="lab">D</text>
<line x1="293.75" y1="177.12" x2="275.5" y2="182.5" class="e"/>
<line x1="293.75" y1="177.12" x2="298.25" y2="189.25" class="e"/>
<line x1="275.5" y1="182.5" x2="280.75" y2="194.5" class="e"/>
<line x1="298.25" y1="189.25" x2="280.75" y2="194.5" class="e"/>
<line x1="298.25" y1="189.25" x2="320.88" y2="186" class="e"/>
<line x1="320.88" y1="186" x2="310" y2="197.25" class="e"/>
<line x1="320.88" y1="186" x2="327.75" y2="197.75" class="e"/>
<line x1="310" y1="197.25" x2="306.88" y2="204.75" class="e"/>
<line x1="310" y1="197.25" x2="326.62" y2="207.25" class="e"/>
<line x1="327.75" y1="197.75" x2="348.5" y2="192.75" class="e"/>
<line x1="327.75" y1="197.75" x2="326.62" y2="207.25" class="e"/>
<line x1="345" y1="178.5" x2="365" y2="178.38" class="e"/>
<line x1="365" y1="178.38" x2="387.1" y2="183.55" class="e"/>
<line x1="387.1" y1="183.55" x2="408.85" y2="192.7" class="e"/>
<line x1="387.1" y1="183.55" x2="393.8" y2="196.05" class="e"/>
<line x1="372" y1="201.25" x2="348.5" y2="205" class="e"/>
<line x1="372" y1="201.25" x2="393.8" y2="196.05" class="e"/>
<line x1="372" y1="201.25" x2="383" y2="211.7" class="e"/>
<line x1="285" y1="209" x2="303.75" y2="212.25" class="e"/>
<line x1="306.88" y1="204.75" x2="303.75" y2="212.25" class="e"/>
<line x1="326.62" y1="207.25" x2="348.5" y2="205" class="e"/>
<line x1="326.62" y1="207.25" x2="313.12" y2="218.5" class="e"/>
<line x1="348.5" y1="205" x2="357.5" y2="214.12" class="e"/>
<line x1="303.75" y1="212.25" x2="292.5" y2="222.25" class="e"/>
<line x1="313.12" y1="218.5" x2="292.5" y2="222.25" class="e"/>
<line x1="313.12" y1="218.5" x2="333.75" y2="219.5" class="e"/>
<line x1="292.5" y1="222.25" x2="306.25" y2="231.88" class="e"/>
<line x1="306.25" y1="231.88" x2="326.75" y2="232.75" class="e"/>
<line x1="306.25" y1="231.88" x2="283.75" y2="241" class="e"/>
<line x1="283.75" y1="241" x2="278.75" y2="256.62" class="e"/>
<line x1="283.75" y1="241" x2="294.25" y2="257.5" class="e"/>
<line x1="310.25" y1="249.38" x2="294.25" y2="257.5" class="e"/>
<line x1="350" y1="239.75" x2="368.75" y2="243.38" class="e"/>
<line x1="350" y1="239.75" x2="357.5" y2="251.25" class="e"/>
<line x1="368.75" y1="243.38" x2="389.3" y2="244.25" class="e"/>
<line x1="413" y1="180.85" x2="408.85" y2="192.7" class="e"/>
<line x1="413" y1="180.85" x2="424.6" y2="191.15" class="e"/>
<line x1="438.75" y1="179.5" x2="424.6" y2="191.15" class="e"/>
<line x1="408.85" y1="192.7" x2="405.5" y2="207.5" class="e"/>
<line x1="424.6" y1="191.15" x2="439" y2="200.38" class="e"/>
<line x1="393.8" y1="196.05" x2="405.5" y2="207.5" class="e"/>
<line x1="405.5" y1="207.5" x2="383" y2="211.7" class="e"/>
<line x1="383" y1="211.7" x2="393.5" y2="223.7" class="e"/>
<line x1="485" y1="189.25" x2="506.5" y2="190" class="e"/>
<line x1="485" y1="189.25" x2="493.45" y2="195.75" class="e"/>
<line x1="465.25" y1="197.65" x2="483.4" y2="201.9" class="e"/>
<line x1="493.45" y1="195.75" x2="504.6" y2="204.6" class="e"/>
<line x1="483.4" y1="201.9" x2="504.6" y2="204.6" class="e"/>
<line x1="483.4" y1="201.9" x2="478.5" y2="210" class="e"/>
<line x1="504.6" y1="204.6" x2="497.3" y2="211.8" class="e"/>
<line x1="478.5" y1="210" x2="497.3" y2="211.8" class="e"/>
<line x1="497.3" y1="211.8" x2="480.88" y2="221.5" class="e"/>
<line x1="509.6" y1="217.3" x2="505" y2="231.62" class="e"/>
<line x1="449" y1="215" x2="452.5" y2="226.25" class="e"/>
<line x1="427.5" y1="226.75" x2="452.5" y2="226.25" class="e"/>
<line x1="452.5" y1="226.25" x2="467.75" y2="234.5" class="e"/>
<line x1="416.55" y1="244.5" x2="432.25" y2="254.9" class="e"/>
<line x1="442.8" y1="244.15" x2="432.25" y2="254.9" class="e"/>
<line x1="442.8" y1="244.15" x2="457" y2="255.9" class="e"/>
<line x1="476.5" y1="251" x2="457" y2="255.9" class="e"/>
<line x1="476.5" y1="251" x2="494.8" y2="260.45" class="e"/>
<line x1="504.5" y1="249.85" x2="494.8" y2="260.45" class="e"/>
<line x1="504.5" y1="249.85" x2="511.4" y2="264.2" class="e"/>
<line x1="405.15" y1="258.15" x2="424.65" y2="262.4" class="e"/>
<line x1="432.25" y1="254.9" x2="443.2" y2="263.35" class="e"/>
<line x1="424.65" y1="262.4" x2="443.2" y2="263.35" class="e"/>
<line x1="424.65" y1="262.4" x2="409.05" y2="273.7" class="e"/>
<line x1="457" y1="255.9" x2="443.2" y2="263.35" class="e"/>
<line x1="494.8" y1="260.45" x2="476.2" y2="269.2" class="e"/>
<line x1="511.4" y1="264.2" x2="503.75" y2="273.05" class="e"/>
<line x1="409.05" y1="273.7" x2="429.2" y2="281.75" class="e"/>
<line x1="452.4" y1="276.3" x2="429.2" y2="281.75" class="e"/>
<line x1="452.4" y1="276.3" x2="459.4" y2="289" class="e"/>
<line x1="429.2" y1="281.75" x2="426.55" y2="293.85" class="e"/>
<line x1="476.95" y1="283.4" x2="459.4" y2="289" class="e"/>
<line x1="505.15" y1="288.2" x2="498.4" y2="300.7" class="e"/>
<line x1="459.4" y1="289" x2="479.15" y2="295.85" class="e"/>
<line x1="479.15" y1="295.85" x2="498.4" y2="300.7" class="e"/>
<line x1="498.4" y1="300.7" x2="509.05" y2="312.7" class="e"/>
<line x1="398" y1="306.2" x2="399.25" y2="318.9" class="e"/>
<line x1="422.65" y1="309.4" x2="399.25" y2="318.9" class="e"/>
<line x1="471.35" y1="311.4" x2="489.95" y2="316.85" class="e"/>
<line x1="489.95" y1="316.85" x2="509.05" y2="312.7" class="e"/>
<line x1="278.75" y1="256.62" x2="298.75" y2="268.25" class="e"/>
<line x1="294.25" y1="257.5" x2="298.75" y2="268.25" class="e"/>
<line x1="357.5" y1="251.25" x2="338" y2="259.5" class="e"/>
<line x1="357.5" y1="251.25" x2="375.5" y2="258.12" class="e"/>
<line x1="327.75" y1="273.75" x2="329.25" y2="283.75" class="e"/>
<line x1="353.75" y1="276.5" x2="374" y2="287.75" class="e"/>
<line x1="382" y1="278.5" x2="374" y2="287.75" class="e"/>
<line x1="302.75" y1="282.88" x2="301" y2="293.12" class="e"/>
<line x1="329.25" y1="283.75" x2="326.25" y2="293.75" class="e"/>
<line x1="329.25" y1="283.75" x2="351" y2="288.75" class="e"/>
<line x1="280" y1="290.88" x2="301" y2="293.12" class="e"/>
<line x1="301" y1="293.12" x2="326.25" y2="293.75" class="e"/>
<line x1="326.25" y1="293.75" x2="331.25" y2="303.38" class="e"/>
<line x1="374" y1="287.75" x2="378" y2="299.75" class="e"/>
<line x1="353.75" y1="302" x2="353" y2="316.62" class="e"/>
<line x1="331.25" y1="303.38" x2="330.5" y2="315.88" class="e"/>
<line x1="282.5" y1="307.75" x2="278.5" y2="319.12" class="e"/>
<line x1="353" y1="316.62" x2="375.62" y2="316.25" class="e"/>
<line x1="278.5" y1="319.12" x2="305.62" y2="321.62" class="e"/>
<path d="M284.9 170.8H302.6L304.2 177.12L302.6 183.45H284.9L283.3 177.12Z" class="o"/>
<text x="293.75" y="175.07" class="td" lengthAdjust="spacingAndGlyphs" textLength="15.19">circulating</text>
<text x="293.75" y="178.07" class="td" lengthAdjust="spacingAndGlyphs" textLength="10.91">developm</text>
<text x="293.75" y="181.07" class="td" lengthAdjust="spacingAndGlyphs" textLength="10.56">body ins</text>
<ellipse cx="275.5" cy="182.5" rx="4.2" ry="2.7" class="b"/>
<text x="275.5" y="183.55" class="tb" lengthAdjust="spacingAndGlyphs" textLength="3.9">ZGF</text>
<ellipse cx="298.25" cy="189.25" rx="6.95" ry="2.95" class="b"/>
<text x="298.25" y="190.3" class="tb" lengthAdjust="spacingAndGlyphs" textLength="9.4">ZLG568</text>
<path d="M272.9 188.3H288.6L290.2 194.5L288.6 200.7H272.9L271.3 194.5Z" class="o"/>
<text x="280.75" y="192.45" class="td" lengthAdjust="spacingAndGlyphs" textLength="11.34">embryo a</text>
<text x="280.75" y="195.45" class="td" lengthAdjust="spacingAndGlyphs" textLength="13.07">immune glu</text>
<text x="280.75" y="198.45" class="td" lengthAdjust="spacingAndGlyphs" textLength="11.79">fat circu</text>
<path d="M309.9 179.8H331.85L333.45 186L331.85 192.2H309.9L308.3 186Z" class="o"/>
<text x="320.88" y="183.95" class="td" lengthAdjust="spacingAndGlyphs" textLength="15.6">size bone m</text>
<text x="320.88" y="186.95" class="td" lengthAdjust="spacingAndGlyphs" textLength="13.32">kidney liv</text>
<text x="320.88" y="189.95" class="td" lengthAdjust="spacingAndGlyphs" textLength="17.06">bone brain mu</text>
<ellipse cx="310" cy="197.25" rx="5.95" ry="2.45" class="k"/>
<text x="310" y="198.3" class="tk" lengthAdjust="spacingAndGlyphs" textLength="7.4">YAAY0</text>
<ellipse cx="327.75" cy="197.75" rx="7.45" ry="2.45" class="b"/>
<text x="327.75" y="198.8" class="tb" lengthAdjust="spacingAndGlyphs" textLength="10.4">YCZU381</text>
<path d="M337.9 172.3H352.1L353.7 178.5L352.1 184.7H337.9L336.3 178.5Z" class="o"/>
<text x="345" y="176.45" class="td" lengthAdjust="spacingAndGlyphs" textLength="11.84">skin live</text>
<text x="345" y="179.45" class="td" lengthAdjust="spacingAndGlyphs" textLength="9.3">circula</text>
<text x="345" y="182.45" class="td" lengthAdjust="spacingAndGlyphs" textLength="8.76">decrea</text>
<ellipse cx="365" cy="178.38" rx="5.95" ry="2.57" class="k"/>
<text x="365" y="179.43" class="tk" lengthAdjust="spacingAndGlyphs" textLength="7.4">WCW7D</text>
<path d="M376.5 175.9H397.7L399.3 183.55L397.7 191.2H376.5L374.9 183.55Z" class="o"/>
<text x="387.1" y="180" class="td" lengthAdjust="spacingAndGlyphs" textLength="17.49">circulating m</text>
<text x="387.1" y="183" class="td" lengthAdjust="spacingAndGlyphs" textLength="14.6">immune body</text>
<text x="387.1" y="186" class="td" lengthAdjust="spacingAndGlyphs" textLength="12.78">body mass</text>
<text x="387.1" y="189" class="td" lengthAdjust="spacingAndGlyphs" textLength="12.94">retina ti</text>
<path d="M337.9 188.3H359.1L360.7 192.75L359.1 197.2H337.9L336.3 192.75Z" class="o"/>
<text x="348.5" y="192.2" class="td" lengthAdjust="spacingAndGlyphs" textLength="17.36">development l</text>
<text x="348.5" y="195.2" class="td" lengthAdjust="spacingAndGlyphs" textLength="17.86">increased gro</text>
<path d="M360.9 195.1H383.1L384.7 201.25L383.1 207.4H360.9L359.3 201.25Z" class="o"/>
<text x="372" y="199.2" class="td" lengthAdjust="spacingAndGlyphs" textLength="13.47">embryo liv</text>
<text x="372" y="202.2" class="td" lengthAdjust="spacingAndGlyphs" textLength="15.49">cell circul</text>
<text x="372" y="205.2" class="td" lengthAdjust="spacingAndGlyphs" textLength="17.85">morphology ma</text>
<path d="M274.9 202.3H295.1L296.7 209L295.1 215.7H274.9L273.3 209Z" class="o"/>
<text x="285" y="206.95" class="td" lengthAdjust="spacingAndGlyphs" textLength="13.02">abnormal e</text>
<text x="285" y="209.95" class="td" lengthAdjust="spacingAndGlyphs" textLength="13.2">cell abnor</text>
<text x="285" y="212.95" class="td" lengthAdjust="spacingAndGlyphs" textLength="14.05">liver phys</text>
<path d="M301.9 202.3H311.85L313.45 204.75L311.85 207.2H301.9L300.3 204.75Z" class="o"/>
<text x="306.88" y="205.7" class="td" lengthAdjust="spacingAndGlyphs" textLength="7.58">blood</text>
<path d="M315.65 200.3H337.6L339.2 207.25L337.6 214.2H315.65L314.05 207.25Z" class="o"/>
<text x="326.62" y="205.2" class="td" lengthAdjust="spacingAndGlyphs" textLength="19.25">brain developm</text>
<text x="326.62" y="208.2" class="td" lengthAdjust="spacingAndGlyphs" textLength="14.77">bone mass c</text>
<text x="326.62" y="211.2" class="td" lengthAdjust="spacingAndGlyphs" textLength="19.07">glucose physio</text>
<ellipse cx="348.5" cy="205" rx="7.2" ry="2.7" class="b"/>
<text x="348.5" y="206.05" class="tb" lengthAdjust="spacingAndGlyphs" textLength="9.9">FDW785</text>
<path d="M346.9 209.8H368.1L369.7 214.12L368.1 218.45H346.9L345.3 214.12Z" class="o"/>
<text x="357.5" y="213.57" class="td" lengthAdjust="spacingAndGlyphs" textLength="14.82">hair hair m</text>
<text x="357.5" y="216.57" class="td" lengthAdjust="spacingAndGlyphs" textLength="15.23">increased r</text>
<ellipse cx="303.75" cy="212.25" rx="3.95" ry="2.45" class="b"/>
<text x="303.75" y="213.3" class="tb" lengthAdjust="spacingAndGlyphs" textLength="3.4">GKI</text>
<ellipse cx="313.12" cy="218.5" rx="5.32" ry="3.2" class="b"/>
<text x="313.12" y="219.55" class="tb" lengthAdjust="spacingAndGlyphs" textLength="6.15">OTSW</text>
<path d="M281.9 217.3H303.1L304.7 222.25L303.1 227.2H281.9L280.3 222.25Z" class="o"/>
<text x="292.5" y="221.7" class="td" lengthAdjust="spacingAndGlyphs" textLength="14.08">lung heart</text>
<text x="292.5" y="224.7" class="td" lengthAdjust="spacingAndGlyphs" textLength="15.9">decreased br</text>
<path d="M325.65 213.3H341.85L343.45 219.5L341.85 225.7H325.65L324.05 219.5Z" class="o"/>
<text x="333.75" y="217.45" class="td" lengthAdjust="spacingAndGlyphs" textLength="12.23">embryo mu</text>
<text x="333.75" y="220.45" class="td" lengthAdjust="spacingAndGlyphs" textLength="13.56">response t</text>
<text x="333.75" y="223.45" class="td" lengthAdjust="spacingAndGlyphs" textLength="10.33">respons</text>
<ellipse cx="306.25" cy="231.88" rx="7.2" ry="2.82" class="b"/>
<text x="306.25" y="232.93" class="tb" lengthAdjust="spacingAndGlyphs" textLength="9.9">YIULYG</text>
<path d="M317.9 227.8H335.6L337.2 232.75L335.6 237.7H317.9L316.3 232.75Z" class="o"/>
<text x="326.75" y="232.2" class="td" lengthAdjust="spacingAndGlyphs" textLength="11.83">muscle mu</text>
<text x="326.75" y="235.2" class="td" lengthAdjust="spacingAndGlyphs" textLength="15.42">tissue embr</text>
<path d="M275.65 231.3H291.85L293.45 241L291.85 250.7H275.65L274.05 241Z" class="o"/>
<text x="283.75" y="237.45" class="td" lengthAdjust="spacingAndGlyphs" textLength="11.16">insulin</text>
<text x="283.75" y="240.45" class="td" lengthAdjust="spacingAndGlyphs" textLength="11.06">level bo</text>
<text x="283.75" y="243.45" class="td" lengthAdjust="spacingAndGlyphs" textLength="14.05">liver bone</text>
<text x="283.75" y="246.45" class="td" lengthAdjust="spacingAndGlyphs" textLength="13.99">liver leve</text>
<path d="M301.9 240.3H318.6L320.2 249.38L318.6 258.45H301.9L300.3 249.38Z" class="o"/>
<text x="310.25" y="245.82" class="td" lengthAdjust="spacingAndGlyphs" textLength="11.69">muscle f</text>
<text x="310.25" y="248.82" class="td" lengthAdjust="spacingAndGlyphs" textLength="13.36">immune wei</text>
<text x="310.25" y="251.82" class="td" lengthAdjust="spacingAndGlyphs" textLength="10.79">liver we</text>
<text x="310.25" y="254.82" class="td" lengthAdjust="spacingAndGlyphs" textLength="10.84">skin lun</text>
<path d="M341.9 232.3H358.1L359.7 239.75L358.1 247.2H341.9L340.3 239.75Z" class="o"/>
<text x="350" y="236.2" class="td" lengthAdjust="spacingAndGlyphs" textLength="9.7">hair im</text>
<text x="350" y="239.2" class="td" lengthAdjust="spacingAndGlyphs" textLength="12.75">developme</text>
<text x="350" y="242.2" class="td" lengthAdjust="spacingAndGlyphs" textLength="14.08">mass lung</text>
<text x="350" y="245.2" class="td" lengthAdjust="spacingAndGlyphs" textLength="9.65">body ha</text>
<path d="M360.65 223H379.1L380.7 228.85L379.1 234.7H360.65L359.05 228.85Z" class="o"/>
<text x="369.88" y="226.8" class="td" lengthAdjust="spacingAndGlyphs" textLength="10.97">insulin</text>
<text x="369.88" y="229.8" class="td" lengthAdjust="spacingAndGlyphs" textLength="15.75">immune growt</text>
<text x="369.88" y="232.8" class="td" lengthAdjust="spacingAndGlyphs" textLength="15.42">glucose blo</text>
<ellipse cx="368.75" cy="243.38" rx="6.45" ry="2.57" class="b"/>
<text x="368.75" y="244.43" class="tb" lengthAdjust="spacingAndGlyphs" textLength="8.4">WDPI1</text>
<path d="M404.9 174.3H421.1L422.7 180.85L421.1 187.4H404.9L403.3 180.85Z" class="o"/>
<text x="413" y="178.8" class="td" lengthAdjust="spacingAndGlyphs" textLength="13.68">insulin ha</text>
<text x="413" y="181.8" class="td" lengthAdjust="spacingAndGlyphs" textLength="12.84">bone body</text>
<text x="413" y="184.8" class="td" lengthAdjust="spacingAndGlyphs" textLength="13.47">lymph lung</text>
<path d="M428.9 171.3H448.6L450.2 179.5L448.6 187.7H428.9L427.3 179.5Z" class="o"/>
<text x="438.75" y="177.45" class="td" lengthAdjust="spacingAndGlyphs" textLength="11.83">growth em</text>
<text x="438.75" y="180.45" class="td" lengthAdjust="spacingAndGlyphs" textLength="15.55">blood tissu</text>
<text x="438.75" y="183.45" class="td" lengthAdjust="spacingAndGlyphs" textLength="16.13">skin physiol</text>
<ellipse cx="408.85" cy="192.7" rx="3.55" ry="2.4" class="b"/>
<text x="408.85" y="193.75" class="tb" lengthAdjust="spacingAndGlyphs" textLength="2.6">DB</text>
<ellipse cx="424.6" cy="191.15" rx="5.5" ry="2.35" class="b"/>
<text x="424.6" y="192.2" class="tb" lengthAdjust="spacingAndGlyphs" textLength="6.5">ITGG</text>
<ellipse cx="393.8" cy="196.05" rx="6.5" ry="2.85" class="b"/>
<text x="393.8" y="197.1" class="tb" lengthAdjust="spacingAndGlyphs" textLength="8.5">SMD7YA</text>
<path d="M394.9 199.9H416.1L417.7 207.5L416.1 215.1H394.9L393.3 207.5Z" class="o"/>
<text x="405.5" y="203.95" class="td" lengthAdjust="spacingAndGlyphs" textLength="16.56">retina embry</text>
<text x="405.5" y="206.95" class="td" lengthAdjust="spacingAndGlyphs" textLength="14.75">lung circul</text>
<text x="405.5" y="209.95" class="td" lengthAdjust="spacingAndGlyphs" textLength="18.71">blood hair dev</text>
<text x="405.5" y="212.95" class="td" lengthAdjust="spacingAndGlyphs" textLength="17.32">kidney brain</text>
<ellipse cx="383" cy="211.7" rx="7.1" ry="2.6" class="b"/>
<text x="383" y="212.75" class="tb" lengthAdjust="spacingAndGlyphs" textLength="9.7">WBINCO</text>
<path d="M383.9 218.3H403.1L404.7 223.7L403.1 229.1H383.9L382.3 223.7Z" class="o"/>
<text x="393.5" y="221.72" class="td" lengthAdjust="spacingAndGlyphs" textLength="14.88">brain body</text>
<text x="393.5" y="224.65" class="td" lengthAdjust="spacingAndGlyphs" textLength="12.01">fat hair</text>
<text x="393.5" y="227.58" class="td" lengthAdjust="spacingAndGlyphs" textLength="16.6">embryo gluco</text>
<path d="M431.9 194.05H446.1L447.7 200.38L446.1 206.7H431.9L430.3 200.38Z" class="o"/>
<text x="439" y="198.32" class="td" lengthAdjust="spacingAndGlyphs" textLength="12.3">hair lung</text>
<text x="439" y="201.32" class="td" lengthAdjust="spacingAndGlyphs" textLength="9.16">heart s</text>
<text x="439" y="204.32" class="td" lengthAdjust="spacingAndGlyphs" textLength="11.56">level ly</text>
<path d="M476.5 186.5H493.5L495.1 189.25L493.5 192H476.5L474.9 189.25Z" class="o"/>
<text x="485" y="190.2" class="td" lengthAdjust="spacingAndGlyphs" textLength="13.17">glucose mu</text>
<ellipse cx="506.5" cy="190" rx="7" ry="2.3" class="k"/>
<text x="506.5" y="191.05" class="tk" lengthAdjust="spacingAndGlyphs" textLength="9.5">MXW6K2</text>
<path d="M455.4 191.8H475.1L476.7 197.65L475.1 203.5H455.4L453.8 197.65Z" class="o"/>
<text x="465.25" y="195.6" class="td" lengthAdjust="spacingAndGlyphs" textLength="16.14">lymph brain</text>
<text x="465.25" y="198.6" class="td" lengthAdjust="spacingAndGlyphs" textLength="16.16">glucose weig</text>
<text x="465.25" y="201.6" class="td" lengthAdjust="spacingAndGlyphs" textLength="15.71">body immune</text>
<ellipse cx="493.45" cy="195.75" rx="7.75" ry="2.45" class="k"/>
<text x="493.45" y="196.8" class="tk" lengthAdjust="spacingAndGlyphs" textLength="11">XFRZ5KR</text>
<ellipse cx="483.4" cy="201.9" rx="7.1" ry="2.4" class="k"/>
<text x="483.4" y="202.95" class="tk" lengthAdjust="spacingAndGlyphs" textLength="9.7">OVWMK0</text>
<path d="M496.5 202.1H512.7L514.3 204.6L512.7 207.1H496.5L494.9 204.6Z" class="o"/>
<text x="504.6" y="205.55" class="td" lengthAdjust="spacingAndGlyphs" textLength="9.94">tissue</text>
<path d="M468.9 207.3H488.1L489.7 210L488.1 212.7H468.9L467.3 210Z" class="o"/>
<text x="478.5" y="210.95" class="td" lengthAdjust="spacingAndGlyphs" textLength="15.74">heart embryo</text>
<ellipse cx="497.3" cy="211.8" rx="7" ry="2.5" class="k"/>
<text x="497.3" y="212.85" class="tk" lengthAdjust="spacingAndGlyphs" textLength="9.5">MWUAC4</text>
<path d="M470.65 215.3H491.1L492.7 221.5L491.1 227.7H470.65L469.05 221.5Z" class="o"/>
<text x="480.88" y="219.45" class="td" lengthAdjust="spacingAndGlyphs" textLength="15.77">muscle gluco</text>
<text x="480.88" y="222.45" class="td" lengthAdjust="spacingAndGlyphs" textLength="13.28">response b</text>
<text x="480.88" y="225.45" class="td" lengthAdjust="spacingAndGlyphs" textLength="16.81">circulating</text>
<ellipse cx="509.6" cy="217.3" rx="4.7" ry="2.4" class="b"/>
<text x="509.6" y="218.35" class="tb" lengthAdjust="spacingAndGlyphs" textLength="4.9">NTF</text>
<path d="M439.9 209.8H458.1L459.7 215L458.1 220.2H439.9L438.3 215Z" class="o"/>
<text x="449" y="214.45" class="td" lengthAdjust="spacingAndGlyphs" textLength="13.97">morphology</text>
<text x="449" y="217.45" class="td" lengthAdjust="spacingAndGlyphs" textLength="14.28">fat level</text>
<path d="M416.9 220.8H438.1L439.7 226.75L438.1 232.7H416.9L415.3 226.75Z" class="o"/>
<text x="427.5" y="224.7" class="td" lengthAdjust="spacingAndGlyphs" textLength="15.67">circulating</text>
<text x="427.5" y="227.7" class="td" lengthAdjust="spacingAndGlyphs" textLength="15.9">response kid</text>
<text x="427.5" y="230.7" class="td" lengthAdjust="spacingAndGlyphs" textLength="16.04">body growth</text>
<ellipse cx="452.5" cy="226.25" rx="6.7" ry="2.95" class="b"/>
<text x="452.5" y="227.3" class="tb" lengthAdjust="spacingAndGlyphs" textLength="8.9">HERBE3</text>
<path d="M457.9 229.8H477.6L479.2 234.5L477.6 239.2H457.9L456.3 234.5Z" class="o"/>
<text x="467.75" y="233.95" class="td" lengthAdjust="spacingAndGlyphs" textLength="14.54">abnormal bo</text>
<text x="467.75" y="236.95" class="td" lengthAdjust="spacingAndGlyphs" textLength="16.49">lung physiol</text>
<path d="M494.4 224.05H515.6L517.2 231.62L515.6 239.2H494.4L492.8 231.62Z" class="o"/>
<text x="505" y="228.07" class="td" lengthAdjust="spacingAndGlyphs" textLength="16.72">lung retina</text>
<text x="505" y="231.07" class="td" lengthAdjust="spacingAndGlyphs" textLength="15.25">size blood</text>
<text x="505" y="234.07" class="td" lengthAdjust="spacingAndGlyphs" textLength="16.55">increased in</text>
<text x="505" y="237.07" class="td" lengthAdjust="spacingAndGlyphs" textLength="16.38">neuron liver</text>
<path d="M379.9 237.8H398.7L400.3 244.25L398.7 250.7H379.9L378.3 244.25Z" class="o"/>
<text x="389.3" y="242.2" class="td" lengthAdjust="spacingAndGlyphs" textLength="13.92">physiology</text>
<text x="389.3" y="245.2" class="td" lengthAdjust="spacingAndGlyphs" textLength="15.25">muscle decr</text>
<text x="389.3" y="248.2" class="td" lengthAdjust="spacingAndGlyphs" textLength="12.31">growth he</text>
<path d="M406.4 238.3H426.7L428.3 244.5L426.7 250.7H406.4L404.8 244.5Z" class="o"/>
<text x="416.55" y="242.45" class="td" lengthAdjust="spacingAndGlyphs" textLength="14.07">retina neu</text>
<text x="416.55" y="245.45" class="td" lengthAdjust="spacingAndGlyphs" textLength="14.87">embryo circ</text>
<text x="416.55" y="248.45" class="td" lengthAdjust="spacingAndGlyphs" textLength="13.75">neuron imm</text>
<path d="M432.9 236.3H452.7L454.3 244.15L452.7 252H432.9L431.3 244.15Z" class="o"/>
<text x="442.8" y="240.6" class="td" lengthAdjust="spacingAndGlyphs" textLength="13.21">cell mass</text>
<text x="442.8" y="243.6" class="td" lengthAdjust="spacingAndGlyphs" textLength="13.45">physiology</text>
<text x="442.8" y="246.6" class="td" lengthAdjust="spacingAndGlyphs" textLength="14.08">developmen</text>
<text x="442.8" y="249.6" class="td" lengthAdjust="spacingAndGlyphs" textLength="17.39">development b</text>
<path d="M465.9 244.8H487.1L488.7 251L487.1 257.2H465.9L464.3 251Z" class="o"/>
<text x="476.5" y="248.95" class="td" lengthAdjust="spacingAndGlyphs" textLength="18.61">physiology kid</text>
<text x="476.5" y="251.95" class="td" lengthAdjust="spacingAndGlyphs" textLength="14.67">tissue fat</text>
<text x="476.5" y="254.95" class="td" lengthAdjust="spacingAndGlyphs" textLength="13.43">morphology</text>
<path d="M493.4 243.3H515.6L517.2 249.85L515.6 256.4H493.4L491.8 249.85Z" class="o"/>
<text x="504.5" y="247.8" class="td" lengthAdjust="spacingAndGlyphs" textLength="18.3">decreased hair</text>
<text x="504.5" y="250.8" class="td" lengthAdjust="spacingAndGlyphs" textLength="17.91">hair cell hai</text>
<text x="504.5" y="253.8" class="td" lengthAdjust="spacingAndGlyphs" textLength="15.2">abnormal de</text>
<path d="M394.7 251.3H415.6L417.2 258.15L415.6 265H394.7L393.1 258.15Z" class="o"/>
<text x="405.15" y="256.1" class="td" lengthAdjust="spacingAndGlyphs" textLength="13.61">lymph cell</text>
<text x="405.15" y="259.1" class="td" lengthAdjust="spacingAndGlyphs" textLength="17.22">skin muscle m</text>
<text x="405.15" y="262.1" class="td" lengthAdjust="spacingAndGlyphs" textLength="13.74">lung blood</text>
<ellipse cx="432.25" cy="254.9" rx="5.45" ry="2.3" class="b"/>
<text x="432.25" y="255.95" class="tb" lengthAdjust="spacingAndGlyphs" textLength="6.4">DXF6</text>
<ellipse cx="424.65" cy="262.4" rx="5.55" ry="2.6" class="b"/>
<text x="424.65" y="263.45" class="tb" lengthAdjust="spacingAndGlyphs" textLength="6.6">DWAE</text>
<ellipse cx="457" cy="255.9" rx="6.7" ry="2.6" class="b"/>
<text x="457" y="256.95" class="tb" lengthAdjust="spacingAndGlyphs" textLength="8.9">KTYKBO</text>
<path d="M433.7 259.1H452.7L454.3 263.35L452.7 267.6H433.7L432.1 263.35Z" class="o"/>
<text x="443.2" y="262.8" class="td" lengthAdjust="spacingAndGlyphs" textLength="14.38">cell physio</text>
<text x="443.2" y="265.8" class="td" lengthAdjust="spacingAndGlyphs" textLength="14.38">decreased k</text>
<ellipse cx="494.8" cy="260.45" rx="6.9" ry="2.65" class="k"/>
<text x="494.8" y="261.5" class="tk" lengthAdjust="spacingAndGlyphs" textLength="9.3">OUY7XU</text>
<ellipse cx="511.4" cy="264.2" rx="7.1" ry="2.5" class="k"/>
<text x="511.4" y="265.25" class="tk" lengthAdjust="spacingAndGlyphs" textLength="9.7">XER8WE</text>
<path d="M465.9 261.7H486.5L488.1 269.2L486.5 276.7H465.9L464.3 269.2Z" class="o"/>
<text x="476.2" y="265.65" class="td" lengthAdjust="spacingAndGlyphs" textLength="16">immune abnor</text>
<text x="476.2" y="268.65" class="td" lengthAdjust="spacingAndGlyphs" textLength="12.33">kidney mo</text>
<text x="476.2" y="271.65" class="td" lengthAdjust="spacingAndGlyphs" textLength="13.57">kidney hea</text>
<text x="476.2" y="274.65" class="td" lengthAdjust="spacingAndGlyphs" textLength="15.08">weight insu</text>
<path d="M491.9 268.2H515.6L517.2 273.05L515.6 277.9H491.9L490.3 273.05Z" class="o"/>
<text x="503.75" y="272.5" class="td" lengthAdjust="spacingAndGlyphs" textLength="17.29">blood cell re</text>
<text x="503.75" y="275.5" class="td" lengthAdjust="spacingAndGlyphs" textLength="19.52">muscle morpholo</text>
<path d="M397.3 266.9H420.8L422.4 273.7L420.8 280.5H397.3L395.7 273.7Z" class="o"/>
<text x="409.05" y="271.65" class="td" lengthAdjust="spacingAndGlyphs" textLength="16.07">physiology l</text>
<text x="409.05" y="274.65" class="td" lengthAdjust="spacingAndGlyphs" textLength="18.63">body cell decr</text>
<text x="409.05" y="277.65" class="td" lengthAdjust="spacingAndGlyphs" textLength="14.15">abnormal m</text>
<path d="M442.7 268.2H462.1L463.7 276.3L462.1 284.4H442.7L441.1 276.3Z" class="o"/>
<text x="452.4" y="272.75" class="td" lengthAdjust="spacingAndGlyphs" textLength="13.7">fat bone p</text>
<text x="452.4" y="275.75" class="td" lengthAdjust="spacingAndGlyphs" textLength="14.93">tissue reti</text>
<text x="452.4" y="278.75" class="td" lengthAdjust="spacingAndGlyphs" textLength="16.83">response lym</text>
<text x="452.4" y="281.75" class="td" lengthAdjust="spacingAndGlyphs" textLength="15.31">muscle kidn</text>
<ellipse cx="429.2" cy="281.75" rx="7.5" ry="3.25" class="b"/>
<text x="429.2" y="282.8" class="tb" lengthAdjust="spacingAndGlyphs" textLength="10.5">MWF6P9I</text>
<path d="M467.4 278.5H486.5L488.1 283.4L486.5 288.3H467.4L465.8 283.4Z" class="o"/>
<text x="476.95" y="282.85" class="td" lengthAdjust="spacingAndGlyphs" textLength="11.68">neuron a</text>
<text x="476.95" y="285.85" class="td" lengthAdjust="spacingAndGlyphs" textLength="15.91">fat immune i</text>
<path d="M494.7 280.3H515.6L517.2 288.2L515.6 296.1H494.7L493.1 288.2Z" class="o"/>
<text x="505.15" y="284.65" class="td" lengthAdjust="spacingAndGlyphs" textLength="14.73">skin glucos</text>
<text x="505.15" y="287.65" class="td" lengthAdjust="spacingAndGlyphs" textLength="17.33">mass abnormal</text>
<text x="505.15" y="290.65" class="td" lengthAdjust="spacingAndGlyphs" textLength="14.4">weight immu</text>
<text x="505.15" y="293.65" class="td" lengthAdjust="spacingAndGlyphs" textLength="13.41">decreased</text>
<path d="M394.7 282.3H411.7L413.3 286.6L411.7 290.9H394.7L393.1 286.6Z" class="o"/>
<text x="403.2" y="286.05" class="td" lengthAdjust="spacingAndGlyphs" textLength="11.45">muscle m</text>
<text x="403.2" y="289.05" class="td" lengthAdjust="spacingAndGlyphs" textLength="11.37">physiolo</text>
<ellipse cx="459.4" cy="289" rx="7.1" ry="2.7" class="k"/>
<text x="459.4" y="290.05" class="tk" lengthAdjust="spacingAndGlyphs" textLength="9.7">MTCR33</text>
<path d="M415.5 287H437.6L439.2 293.85L437.6 300.7H415.5L413.9 293.85Z" class="o"/>
<text x="426.55" y="291.8" class="td" lengthAdjust="spacingAndGlyphs" textLength="15.18">cell hair l</text>
<text x="426.55" y="294.8" class="td" lengthAdjust="spacingAndGlyphs" textLength="17.73">body abnormal</text>
<text x="426.55" y="297.8" class="td" lengthAdjust="spacingAndGlyphs" textLength="18.26">lung morpholog</text>
<path d="M441.4 294H458.4L460 300.6L458.4 307.2H441.4L439.8 300.6Z" class="o"/>
<text x="449.9" y="298.55" class="td" lengthAdjust="spacingAndGlyphs" textLength="12.65">brain siz</text>
<text x="449.9" y="301.55" class="td" lengthAdjust="spacingAndGlyphs" textLength="11.18">embryo b</text>
<text x="449.9" y="304.55" class="td" lengthAdjust="spacingAndGlyphs" textLength="14.35">embryo tiss</text>
<path d="M468.7 287H489.6L491.2 295.85L489.6 304.7H468.7L467.1 295.85Z" class="o"/>
<text x="479.15" y="292.3" class="td" lengthAdjust="spacingAndGlyphs" textLength="15.34">level level</text>
<text x="479.15" y="295.3" class="td" lengthAdjust="spacingAndGlyphs" textLength="13.74">morphology</text>
<text x="479.15" y="298.3" class="td" lengthAdjust="spacingAndGlyphs" textLength="13.55">mass retin</text>
<text x="479.15" y="301.3" class="td" lengthAdjust="spacingAndGlyphs" textLength="15.95">brain hair e</text>
<ellipse cx="498.4" cy="300.7" rx="5.3" ry="2.6" class="b"/>
<text x="498.4" y="301.75" class="tb" lengthAdjust="spacingAndGlyphs" textLength="6.1">EHB7</text>
<path d="M389.5 300H406.5L408.1 306.2L406.5 312.4H389.5L387.9 306.2Z" class="o"/>
<text x="398" y="304.15" class="td" lengthAdjust="spacingAndGlyphs" textLength="11.86">liver ret</text>
<text x="398" y="307.15" class="td" lengthAdjust="spacingAndGlyphs" textLength="13.12">morphology</text>
<text x="398" y="310.15" class="td" lengthAdjust="spacingAndGlyphs" textLength="10.8">increase</text>
<path d="M411.6 302.6H433.7L435.3 309.4L433.7 316.2H411.6L410 309.4Z" class="o"/>
<text x="422.65" y="306" class="td" lengthAdjust="spacingAndGlyphs" textLength="15.41">embryo incr</text>
<text x="422.65" y="308.9" class="td" lengthAdjust="spacingAndGlyphs" textLength="13.81">circulatin</text>
<text x="422.65" y="311.8" class="td" lengthAdjust="spacingAndGlyphs" textLength="19.53">physiology circ</text>
<text x="422.65" y="314.7" class="td" lengthAdjust="spacingAndGlyphs" textLength="14.88">weight immu</text>
<ellipse cx="399.25" cy="318.9" rx="4.95" ry="2.6" class="b"/>
<text x="399.25" y="319.95" class="tb" lengthAdjust="spacingAndGlyphs" textLength="5.4">DPU2</text>
<path d="M436.3 313H457.1L458.7 320.45L457.1 327.9H436.3L434.7 320.45Z" class="o"/>
<text x="446.7" y="316.9" class="td" lengthAdjust="spacingAndGlyphs" textLength="13.92">decreased</text>
<text x="446.7" y="319.9" class="td" lengthAdjust="spacingAndGlyphs" textLength="14.43">blood skin</text>
<text x="446.7" y="322.9" class="td" lengthAdjust="spacingAndGlyphs" textLength="12.9">cell decr</text>
<text x="446.7" y="325.9" class="td" lengthAdjust="spacingAndGlyphs" textLength="15.74">lung physiol</text>
<path d="M460.9 305.2H481.8L483.4 311.4L481.8 317.6H460.9L459.3 311.4Z" class="o"/>
<text x="471.35" y="309.35" class="td" lengthAdjust="spacingAndGlyphs" textLength="18.17">size hair kid</text>
<text x="471.35" y="312.35" class="td" lengthAdjust="spacingAndGlyphs" textLength="16.72">morphology b</text>
<text x="471.35" y="315.35" class="td" lengthAdjust="spacingAndGlyphs" textLength="14.38">glucose mor</text>
<ellipse cx="489.95" cy="316.85" rx="5.95" ry="2.55" class="b"/>
<text x="489.95" y="317.9" class="tb" lengthAdjust="spacingAndGlyphs" textLength="7.4">XSNFH</text>
<path d="M501.2 305.2H516.9L518.5 312.7L516.9 320.2H501.2L499.6 312.7Z" class="o"/>
<text x="509.05" y="309.15" class="td" lengthAdjust="spacingAndGlyphs" textLength="13.67">glucose bl</text>
<text x="509.05" y="312.15" class="td" lengthAdjust="spacingAndGlyphs" textLength="9.41">body br</text>
<text x="509.05" y="315.15" class="td" lengthAdjust="spacingAndGlyphs" textLength="9.5">increas</text>
<text x="509.05" y="318.15" class="td" lengthAdjust="spacingAndGlyphs" textLength="12.98">cell body</text>
<ellipse cx="278.75" cy="256.62" rx="5.95" ry="2.57" class="b"/>
<text x="278.75" y="257.68" class="tb" lengthAdjust="spacingAndGlyphs" textLength="7.4">SYZ7E</text>
<ellipse cx="294.25" cy="257.5" rx="5.95" ry="2.7" class="b"/>
<text x="294.25" y="258.55" class="tb" lengthAdjust="spacingAndGlyphs" textLength="7.4">LAG4P</text>
<ellipse cx="357.5" cy="251.25" rx="4.7" ry="2.95" class="k"/>
<text x="357.5" y="252.3" class="tk" lengthAdjust="spacingAndGlyphs" textLength="4.9">WDR</text>
<path d="M327.4 252.3H348.6L350.2 259.5L348.6 266.7H327.4L325.8 259.5Z" class="o"/>
<text x="338" y="257.45" class="td" lengthAdjust="spacingAndGlyphs" textLength="14.63">body skin k</text>
<text x="338" y="260.45" class="td" lengthAdjust="spacingAndGlyphs" textLength="14.94">skin bone r</text>
<text x="338" y="263.45" class="td" lengthAdjust="spacingAndGlyphs" textLength="14.11">muscle abn</text>
<path d="M364.9 251.55H386.1L387.7 258.12L386.1 264.7H364.9L363.3 258.12Z" class="o"/>
<text x="375.5" y="256.07" class="td" lengthAdjust="spacingAndGlyphs" textLength="15.51">level decre</text>
<text x="375.5" y="259.07" class="td" lengthAdjust="spacingAndGlyphs" textLength="13.61">glucose si</text>
<text x="375.5" y="262.07" class="td" lengthAdjust="spacingAndGlyphs" textLength="18.36">retina heart r</text>
<path d="M289.9 262.3H307.6L309.2 268.25L307.6 274.2H289.9L288.3 268.25Z" class="o"/>
<text x="298.75" y="266.2" class="td" lengthAdjust="spacingAndGlyphs" textLength="15.33">skin increa</text>
<text x="298.75" y="269.2" class="td" lengthAdjust="spacingAndGlyphs" textLength="13.66">response n</text>
<text x="298.75" y="272.2" class="td" lengthAdjust="spacingAndGlyphs" textLength="12.11">glucose l</text>
<path d="M319.9 269.05H335.6L337.2 273.75L335.6 278.45H319.9L318.3 273.75Z" class="o"/>
<text x="327.75" y="273.2" class="td" lengthAdjust="spacingAndGlyphs" textLength="9.75">retina</text>
<text x="327.75" y="276.2" class="td" lengthAdjust="spacingAndGlyphs" textLength="9.88">glucose</text>
<path d="M343.15 270.3H364.35L365.95 276.5L364.35 282.7H343.15L341.55 276.5Z" class="o"/>
<text x="353.75" y="274.45" class="td" lengthAdjust="spacingAndGlyphs" textLength="17.15">blood respons</text>
<text x="353.75" y="277.45" class="td" lengthAdjust="spacingAndGlyphs" textLength="16.03">muscle respo</text>
<text x="353.75" y="280.45" class="td" lengthAdjust="spacingAndGlyphs" textLength="17.98">weight growth</text>
<path d="M371.9 273.8H392.1L393.7 278.5L392.1 283.2H371.9L370.3 278.5Z" class="o"/>
<text x="382" y="277.95" class="td" lengthAdjust="spacingAndGlyphs" textLength="14.42">muscle incr</text>
<text x="382" y="280.95" class="td" lengthAdjust="spacingAndGlyphs" textLength="13.61">mass neuro</text>
<path d="M291.9 276.55H313.6L315.2 282.88L313.6 289.2H291.9L290.3 282.88Z" class="o"/>
<text x="302.75" y="280.82" class="td" lengthAdjust="spacingAndGlyphs" textLength="18">body physiolo</text>
<text x="302.75" y="283.82" class="td" lengthAdjust="spacingAndGlyphs" textLength="13.64">lung lymph</text>
<text x="302.75" y="286.82" class="td" lengthAdjust="spacingAndGlyphs" textLength="13.67">developmen</text>
<ellipse cx="329.25" cy="283.75" rx="3.45" ry="2.95" class="b"/>
<text x="329.25" y="284.8" class="tb" lengthAdjust="spacingAndGlyphs" textLength="2.4">BW</text>
<path d="M272.4 283.3H287.6L289.2 290.88L287.6 298.45H272.4L270.8 290.88Z" class="o"/>
<text x="280" y="287.32" class="td" lengthAdjust="spacingAndGlyphs" textLength="12.79">circulati</text>
<text x="280" y="290.32" class="td" lengthAdjust="spacingAndGlyphs" textLength="11.35">mass kid</text>
<text x="280" y="293.32" class="td" lengthAdjust="spacingAndGlyphs" textLength="10.04">level r</text>
<text x="280" y="296.32" class="td" lengthAdjust="spacingAndGlyphs" textLength="10.79">body ins</text>
<ellipse cx="301" cy="293.12" rx="8.2" ry="2.82" class="b"/>
<text x="301" y="294.18" class="tb" lengthAdjust="spacingAndGlyphs" textLength="11.9">HDNFZ20</text>
<path d="M314.9 289.05H337.6L339.2 293.75L337.6 298.45H314.9L313.3 293.75Z" class="o"/>
<text x="326.25" y="293.2" class="td" lengthAdjust="spacingAndGlyphs" textLength="16.48">development</text>
<text x="326.25" y="296.2" class="td" lengthAdjust="spacingAndGlyphs" textLength="15.82">heart respon</text>
<path d="M340.9 284.8H361.1L362.7 288.75L361.1 292.7H340.9L339.3 288.75Z" class="o"/>
<text x="351" y="288.22" class="td" lengthAdjust="spacingAndGlyphs" textLength="12.04">embryo ma</text>
<text x="351" y="291.17" class="td" lengthAdjust="spacingAndGlyphs" textLength="13.11">immune dec</text>
<ellipse cx="374" cy="287.75" rx="5.7" ry="2.45" class="b"/>
<text x="374" y="288.8" class="tb" lengthAdjust="spacingAndGlyphs" textLength="6.9">OGIE8</text>
<path d="M344.4 294.3H363.1L364.7 302L363.1 309.7H344.4L342.8 302Z" class="o"/>
<text x="353.75" y="298.45" class="td" lengthAdjust="spacingAndGlyphs" textLength="15.24">blood level</text>
<text x="353.75" y="301.45" class="td" lengthAdjust="spacingAndGlyphs" textLength="14.32">morphology</text>
<text x="353.75" y="304.45" class="td" lengthAdjust="spacingAndGlyphs" textLength="15.87">physiology w</text>
<text x="353.75" y="307.45" class="td" lengthAdjust="spacingAndGlyphs" textLength="12.04">heart lev</text>
<ellipse cx="331.25" cy="303.38" rx="3.95" ry="2.57" class="k"/>
<text x="331.25" y="304.43" class="tk" lengthAdjust="spacingAndGlyphs" textLength="3.4">UKG</text>
<path d="M369.9 292.8H386.1L387.7 299.75L386.1 306.7H369.9L368.3 299.75Z" class="o"/>
<text x="378" y="297.7" class="td" lengthAdjust="spacingAndGlyphs" textLength="9.59">embryo</text>
<text x="378" y="300.7" class="td" lengthAdjust="spacingAndGlyphs" textLength="11.43">cell emb</text>
<text x="378" y="303.7" class="td" lengthAdjust="spacingAndGlyphs" textLength="13.29">neuron mas</text>
<path d="M271.9 301.3H293.1L294.7 307.75L293.1 314.2H271.9L270.3 307.75Z" class="o"/>
<text x="282.5" y="305.7" class="td" lengthAdjust="spacingAndGlyphs" textLength="17.8">physiology mo</text>
<text x="282.5" y="308.7" class="td" lengthAdjust="spacingAndGlyphs" textLength="12.74">lymph hea</text>
<text x="282.5" y="311.7" class="td" lengthAdjust="spacingAndGlyphs" textLength="17.98">weight insuli</text>
<path d="M301.4 305.3H318.1L319.7 314.38L318.1 323.45H301.4L299.8 314.38Z" class="o"/>
<text x="309.75" y="310.82" class="td" lengthAdjust="spacingAndGlyphs" textLength="10.75">retina d</text>
<text x="309.75" y="313.82" class="td" lengthAdjust="spacingAndGlyphs" textLength="10.64">retina a</text>
<text x="309.75" y="316.82" class="td" lengthAdjust="spacingAndGlyphs" textLength="11.56">response</text>
<text x="309.75" y="319.82" class="td" lengthAdjust="spacingAndGlyphs" textLength="14.48">size kidney</text>
<path d="M321.9 308.3H339.1L340.7 315.88L339.1 323.45H321.9L320.3 315.88Z" class="o"/>
<text x="330.5" y="312.32" class="td" lengthAdjust="spacingAndGlyphs" textLength="11.92">insulin t</text>
<text x="330.5" y="315.32" class="td" lengthAdjust="spacingAndGlyphs" textLength="14">skin cell</text>
<text x="330.5" y="318.32" class="td" lengthAdjust="spacingAndGlyphs" textLength="11.6">liver ph</text>
<text x="330.5" y="321.32" class="td" lengthAdjust="spacingAndGlyphs" textLength="12.36">increased</text>
<ellipse cx="353" cy="316.62" rx="4.7" ry="2.57" class="k"/>
<text x="353" y="317.68" class="tk" lengthAdjust="spacingAndGlyphs" textLength="4.9">STE</text>
<path d="M365.65 310.3H385.6L387.2 316.25L385.6 322.2H365.65L364.05 316.25Z" class="o"/>
<text x="375.62" y="314.2" class="td" lengthAdjust="spacingAndGlyphs" textLength="11.99">morpholog</text>
<text x="375.62" y="317.2" class="td" lengthAdjust="spacingAndGlyphs" textLength="13.16">blood bone</text>
<text x="375.62" y="320.2" class="td" lengthAdjust="spacingAndGlyphs" textLength="12.46">body incr</text>
<ellipse cx="278.5" cy="319.12" rx="8.7" ry="2.57" class="b"/>
<text x="278.5" y="320.18" class="tb" lengthAdjust="spacingAndGlyphs" textLength="12.9">ADY4V7YM</text>
<path d="M294.4 319.05H316.85L318.45 321.62L316.85 324.2H294.4L292.8 321.62Z" class="o"/>
<text x="305.62" y="322.57" class="td" lengthAdjust="spacingAndGlyphs" textLength="19.07">blood decrease</text>
<rect x="453.8" y="168.9" width="58.5" height="16.5" class="box"/>
<path d="M474.6 170.2H489.2L490.8 173.1L489.2 176H474.6L473 173.1Z" class="o"/>
<text x="481.9" y="174.05" class="td" lengthAdjust="spacingAndGlyphs" textLength="9.69">lung ph</text>
<ellipse cx="468.3" cy="180.5" rx="12.9" ry="4.2" class="b"/>
<ellipse cx="496.9" cy="180.5" rx="13.1" ry="4.2" class="k"/>
<text x="468.3" y="179.9" class="tb" style="font-weight:normal;font-size:2.7px" lengthAdjust="spacingAndGlyphs" textLength="14">Gene with</text>
<text x="468.3" y="182.7" class="tb" style="font-weight:normal;font-size:2.7px" lengthAdjust="spacingAndGlyphs" textLength="17">phenotype no</text>
<text x="496.9" y="179.9" class="tk" style="font-weight:normal;font-size:2.7px" lengthAdjust="spacingAndGlyphs" textLength="14">Gene with</text>
<text x="496.9" y="182.7" class="tk" style="font-weight:normal;font-size:2.7px" lengthAdjust="spacingAndGlyphs" textLength="17">phenotype yes</text>
<text x="2.6" y="342.2" class="lab">E</text>
<line x1="13.65" y1="354.25" x2="7.9" y2="362" class="e"/>
<line x1="13.65" y1="354.25" x2="31.3" y2="358.8" class="e"/>
<line x1="7.9" y1="362" x2="20.25" y2="364.85" class="e"/>
<line x1="7.9" y1="362" x2="8.2" y2="370.7" class="e"/>
<line x1="31.3" y1="358.8" x2="20.25" y2="364.85" class="e"/>
<line x1="20.25" y1="364.85" x2="8.2" y2="370.7" class="e"/>
<line x1="20.25" y1="364.85" x2="35.2" y2="366.8" class="e"/>
<line x1="35.2" y1="366.8" x2="41.65" y2="373.5" class="e"/>
<line x1="50.45" y1="358.8" x2="53.2" y2="350.8" class="e"/>
<line x1="50.45" y1="358.8" x2="49.55" y2="365.5" class="e"/>
<line x1="50.45" y1="358.8" x2="62" y2="364.45" class="e"/>
<line x1="53.2" y1="350.8" x2="68.85" y2="347.35" class="e"/>
<line x1="68.85" y1="347.35" x2="69.5" y2="354.8" class="e"/>
<line x1="68.85" y1="347.35" x2="84" y2="346.9" class="e"/>
<line x1="69.5" y1="354.8" x2="83.5" y2="359.9" class="e"/>
<line x1="84" y1="346.9" x2="84.85" y2="353.55" class="e"/>
<line x1="84" y1="346.9" x2="98.7" y2="347.95" class="e"/>
<line x1="84.85" y1="353.55" x2="83.5" y2="359.9" class="e"/>
<line x1="84.85" y1="353.55" x2="98.7" y2="357.1" class="e"/>
<line x1="83.5" y1="359.9" x2="76.5" y2="365.95" class="e"/>
<line x1="83.5" y1="359.9" x2="98.7" y2="357.1" class="e"/>
<line x1="49.55" y1="365.5" x2="62" y2="364.45" class="e"/>
<line x1="49.55" y1="365.5" x2="58.85" y2="371.4" class="e"/>
<line x1="62" y1="364.45" x2="58.85" y2="371.4" class="e"/>
<line x1="76.5" y1="365.95" x2="87.5" y2="370.6" class="e"/>
<line x1="28.7" y1="374.85" x2="41.65" y2="373.5" class="e"/>
<line x1="28.7" y1="374.85" x2="17.75" y2="381.05" class="e"/>
<line x1="41.65" y1="373.5" x2="50.35" y2="378.35" class="e"/>
<line x1="73.95" y1="372.9" x2="87.5" y2="370.6" class="e"/>
<line x1="73.95" y1="372.9" x2="86.65" y2="378.1" class="e"/>
<line x1="50.35" y1="378.35" x2="36.75" y2="381.8" class="e"/>
<line x1="17.75" y1="381.05" x2="11.6" y2="387.55" class="e"/>
<line x1="17.75" y1="381.05" x2="26.8" y2="387.15" class="e"/>
<line x1="36.75" y1="381.8" x2="26.8" y2="387.15" class="e"/>
<line x1="86.65" y1="378.1" x2="72" y2="381.3" class="e"/>
<line x1="86.65" y1="378.1" x2="101" y2="381.25" class="e"/>
<line x1="72" y1="381.3" x2="85.5" y2="385.4" class="e"/>
<line x1="85.5" y1="385.4" x2="75.65" y2="392.35" class="e"/>
<line x1="85.5" y1="385.4" x2="90.95" y2="392.35" class="e"/>
<line x1="11.6" y1="387.55" x2="26.8" y2="387.15" class="e"/>
<line x1="11.6" y1="387.55" x2="10.85" y2="397.25" class="e"/>
<line x1="44.95" y1="389.9" x2="57.1" y2="388" class="e"/>
<line x1="44.95" y1="389.9" x2="47.55" y2="395.8" class="e"/>
<line x1="57.1" y1="388" x2="60.95" y2="395.4" class="e"/>
<line x1="75.65" y1="392.35" x2="90.95" y2="392.35" class="e"/>
<line x1="32" y1="397.6" x2="47.55" y2="395.8" class="e"/>
<line x1="32" y1="397.6" x2="43.2" y2="404.25" class="e"/>
<line x1="47.55" y1="395.8" x2="55.4" y2="403" class="e"/>
<line x1="60.95" y1="395.4" x2="55.4" y2="403" class="e"/>
<line x1="90.95" y1="392.35" x2="101" y2="398.45" class="e"/>
<line x1="98.7" y1="347.95" x2="111.55" y2="352.8" class="e"/>
<line x1="114.45" y1="345.45" x2="130.9" y2="346.4" class="e"/>
<line x1="114.45" y1="345.45" x2="111.55" y2="352.8" class="e"/>
<line x1="130.9" y1="346.4" x2="142.1" y2="351.85" class="e"/>
<line x1="111.55" y1="352.8" x2="98.7" y2="357.1" class="e"/>
<line x1="111.55" y1="352.8" x2="126.95" y2="356.45" class="e"/>
<line x1="98.7" y1="357.1" x2="111.45" y2="359.75" class="e"/>
<line x1="126.95" y1="356.45" x2="111.45" y2="359.75" class="e"/>
<line x1="111.45" y1="359.75" x2="102.3" y2="365.65" class="e"/>
<line x1="111.45" y1="359.75" x2="121.1" y2="365.65" class="e"/>
<line x1="102.3" y1="365.65" x2="112.25" y2="371.8" class="e"/>
<line x1="121.1" y1="365.65" x2="112.25" y2="371.8" class="e"/>
<line x1="138.05" y1="365.25" x2="147.5" y2="359" class="e"/>
<line x1="138.05" y1="365.25" x2="128.85" y2="373.5" class="e"/>
<line x1="142.1" y1="351.85" x2="154.3" y2="348.1" class="e"/>
<line x1="154.3" y1="348.1" x2="166.1" y2="352.8" class="e"/>
<line x1="154.85" y1="368.75" x2="169.1" y2="367" class="e"/>
<line x1="154.85" y1="368.75" x2="141.8" y2="373.5" class="e"/>
<line x1="154.85" y1="368.75" x2="164.15" y2="374.85" class="e"/>
<line x1="169.1" y1="367" x2="182.25" y2="359.9" class="e"/>
<line x1="169.1" y1="367" x2="184.7" y2="368.55" class="e"/>
<line x1="128.85" y1="373.5" x2="141.8" y2="373.5" class="e"/>
<line x1="128.85" y1="373.5" x2="128.95" y2="381.25" class="e"/>
<line x1="141.8" y1="373.5" x2="147.85" y2="379.8" class="e"/>
<line x1="164.15" y1="374.85" x2="147.85" y2="379.8" class="e"/>
<line x1="164.15" y1="374.85" x2="179.95" y2="377.2" class="e"/>
<line x1="101" y1="381.25" x2="115.25" y2="380.4" class="e"/>
<line x1="101" y1="381.25" x2="105.75" y2="388.45" class="e"/>
<line x1="115.25" y1="380.4" x2="128.95" y2="381.25" class="e"/>
<line x1="128.95" y1="381.25" x2="143.25" y2="387.4" class="e"/>
<line x1="147.85" y1="379.8" x2="143.25" y2="387.4" class="e"/>
<line x1="167.2" y1="383.1" x2="179.95" y2="377.2" class="e"/>
<line x1="167.2" y1="383.1" x2="181.65" y2="385.4" class="e"/>
<line x1="105.75" y1="388.45" x2="117.2" y2="390.45" class="e"/>
<line x1="117.2" y1="390.45" x2="128.1" y2="390.6" class="e"/>
<line x1="117.2" y1="390.45" x2="118.05" y2="397.75" class="e"/>
<line x1="128.1" y1="390.6" x2="118.05" y2="397.75" class="e"/>
<line x1="163" y1="390.8" x2="150.75" y2="395.8" class="e"/>
<line x1="163" y1="390.8" x2="175.5" y2="395" class="e"/>
<line x1="101" y1="398.45" x2="88.35" y2="403.9" class="e"/>
<line x1="101" y1="398.45" x2="112.95" y2="405.65" class="e"/>
<line x1="118.05" y1="397.75" x2="130.5" y2="400.45" class="e"/>
<line x1="150.75" y1="395.8" x2="164.4" y2="400.65" class="e"/>
<line x1="175.5" y1="395" x2="164.4" y2="400.65" class="e"/>
<line x1="197.65" y1="361.2" x2="209.5" y2="357.1" class="e"/>
<line x1="197.65" y1="361.2" x2="184.7" y2="368.55" class="e"/>
<line x1="197.65" y1="361.2" x2="206.8" y2="367.7" class="e"/>
<line x1="238.5" y1="356.4" x2="239.35" y2="363.35" class="e"/>
<line x1="239.35" y1="363.35" x2="233.85" y2="369.65" class="e"/>
<line x1="179.95" y1="377.2" x2="196.55" y2="377.65" class="e"/>
<line x1="179.95" y1="377.2" x2="181.65" y2="385.4" class="e"/>
<line x1="196.55" y1="377.65" x2="211.1" y2="376.55" class="e"/>
<line x1="211.1" y1="376.55" x2="218.3" y2="383.95" class="e"/>
<line x1="234.4" y1="377.35" x2="218.3" y2="383.95" class="e"/>
<line x1="234.4" y1="377.35" x2="234.45" y2="384.55" class="e"/>
<line x1="203.3" y1="386.05" x2="218.3" y2="383.95" class="e"/>
<line x1="218.3" y1="383.95" x2="225.35" y2="390.6" class="e"/>
<line x1="234.45" y1="384.55" x2="225.35" y2="390.6" class="e"/>
<line x1="234.45" y1="384.55" x2="242.65" y2="390.45" class="e"/>
<line x1="225.35" y1="390.6" x2="235.35" y2="396.9" class="e"/>
<line x1="242.65" y1="390.45" x2="235.35" y2="396.9" class="e"/>
<line x1="191" y1="398.45" x2="204.75" y2="399.6" class="e"/>
<line x1="191" y1="398.45" x2="186" y2="405.15" class="e"/>
<line x1="235.35" y1="396.9" x2="222.75" y2="401.5" class="e"/>
<line x1="235.35" y1="396.9" x2="236.65" y2="404.55" class="e"/>
<line x1="43.2" y1="404.25" x2="28.15" y2="406.45" class="e"/>
<line x1="43.2" y1="404.25" x2="50.8" y2="411.1" class="e"/>
<line x1="55.4" y1="403" x2="67.9" y2="405.15" class="e"/>
<line x1="67.9" y1="405.15" x2="79.15" y2="412.05" class="e"/>
<line x1="88.35" y1="403.9" x2="98.6" y2="410.85" class="e"/>
<line x1="50.8" y1="411.1" x2="66.85" y2="416.8" class="e"/>
<line x1="28.95" y1="414.45" x2="15.15" y2="418.95" class="e"/>
<line x1="66.85" y1="416.8" x2="55.65" y2="422.45" class="e"/>
<line x1="82.2" y1="427.65" x2="93.25" y2="434.8" class="e"/>
<line x1="32" y1="431.55" x2="40.05" y2="439.1" class="e"/>
<line x1="47.4" y1="431.55" x2="40.05" y2="439.1" class="e"/>
<line x1="65.55" y1="430.45" x2="78.55" y2="436.5" class="e"/>
<line x1="78.55" y1="436.5" x2="62.5" y2="439.25" class="e"/>
<line x1="78.55" y1="436.5" x2="87.05" y2="442" class="e"/>
<line x1="78.55" y1="436.5" x2="93.25" y2="434.8" class="e"/>
<line x1="62.5" y1="439.25" x2="73.05" y2="444.75" class="e"/>
<line x1="59.5" y1="446.9" x2="73.05" y2="444.75" class="e"/>
<line x1="59.5" y1="446.9" x2="68.05" y2="454.05" class="e"/>
<line x1="73.05" y1="444.75" x2="87.05" y2="442" class="e"/>
<line x1="18.2" y1="453.45" x2="34.15" y2="455.15" class="e"/>
<line x1="18.2" y1="453.45" x2="10.2" y2="460.1" class="e"/>
<line x1="34.15" y1="455.15" x2="39.05" y2="463.35" class="e"/>
<line x1="68.05" y1="454.05" x2="83.15" y2="455.75" class="e"/>
<line x1="130.5" y1="400.45" x2="143.85" y2="407.35" class="e"/>
<line x1="164.4" y1="400.65" x2="160.5" y2="409.1" class="e"/>
<line x1="112.95" y1="405.65" x2="98.6" y2="410.85" class="e"/>
<line x1="98.6" y1="410.85" x2="113.1" y2="416.05" class="e"/>
<line x1="130.15" y1="409.25" x2="143.85" y2="407.35" class="e"/>
<line x1="130.15" y1="409.25" x2="139.65" y2="417.75" class="e"/>
<line x1="160.5" y1="409.1" x2="171.65" y2="410.6" class="e"/>
<line x1="113.1" y1="416.05" x2="118.75" y2="422.9" class="e"/>
<line x1="139.65" y1="417.75" x2="118.75" y2="422.9" class="e"/>
<line x1="139.65" y1="417.75" x2="153.95" y2="425.7" class="e"/>
<line x1="100.4" y1="427.9" x2="93.25" y2="434.8" class="e"/>
<line x1="100.4" y1="427.9" x2="107.2" y2="435.65" class="e"/>
<line x1="137.35" y1="427.9" x2="153.95" y2="425.7" class="e"/>
<line x1="137.35" y1="427.9" x2="146.25" y2="434.35" class="e"/>
<line x1="153.95" y1="425.7" x2="169.35" y2="431.9" class="e"/>
<line x1="169.35" y1="431.9" x2="160.1" y2="437.35" class="e"/>
<line x1="169.35" y1="431.9" x2="180.4" y2="439.55" class="e"/>
<line x1="93.25" y1="434.8" x2="107.2" y2="435.65" class="e"/>
<line x1="146.25" y1="434.35" x2="160.1" y2="437.35" class="e"/>
<line x1="146.25" y1="434.35" x2="129.8" y2="441.3" class="e"/>
<line x1="160.1" y1="437.35" x2="150.75" y2="443.45" class="e"/>
<line x1="129.8" y1="441.3" x2="121.85" y2="447.95" class="e"/>
<line x1="150.75" y1="443.45" x2="165" y2="446.9" class="e"/>
<line x1="150.75" y1="443.45" x2="137.95" y2="451.2" class="e"/>
<line x1="165" y1="446.9" x2="154.9" y2="454.05" class="e"/>
<line x1="121.85" y1="447.95" x2="106.2" y2="451.2" class="e"/>
<line x1="121.85" y1="447.95" x2="137.95" y2="451.2" class="e"/>
<line x1="106.2" y1="451.2" x2="121.05" y2="457.25" class="e"/>
<line x1="137.95" y1="451.2" x2="121.05" y2="457.25" class="e"/>
<line x1="154.9" y1="454.05" x2="170.75" y2="457.25" class="e"/>
<line x1="154.9" y1="454.05" x2="145.3" y2="460.7" class="e"/>
<line x1="222.75" y1="401.5" x2="236.65" y2="404.55" class="e"/>
<line x1="222.75" y1="401.5" x2="220.65" y2="409.7" class="e"/>
<line x1="236.65" y1="404.55" x2="220.65" y2="409.7" class="e"/>
<line x1="236.65" y1="404.55" x2="237.05" y2="412.3" class="e"/>
<line x1="200.3" y1="418.2" x2="199" y2="426.4" class="e"/>
<line x1="199" y1="426.4" x2="208.65" y2="434.35" class="e"/>
<line x1="215.85" y1="427.2" x2="208.65" y2="434.35" class="e"/>
<line x1="208.65" y1="434.35" x2="195.25" y2="437.95" class="e"/>
<line x1="180.4" y1="439.55" x2="191.45" y2="445.15" class="e"/>
<line x1="195.25" y1="437.95" x2="209.15" y2="442.55" class="e"/>
<line x1="195.25" y1="437.95" x2="191.45" y2="445.15" class="e"/>
<line x1="240.5" y1="439.1" x2="225.55" y2="445.6" class="e"/>
<line x1="191.45" y1="445.15" x2="189.9" y2="452.75" class="e"/>
<line x1="189.9" y1="452.75" x2="205.05" y2="457.55" class="e"/>
<line x1="212.55" y1="450.5" x2="205.05" y2="457.55" class="e"/>
<line x1="10.2" y1="460.1" x2="23.6" y2="464" class="e"/>
<line x1="23.6" y1="464" x2="10.2" y2="468.05" class="e"/>
<line x1="23.6" y1="464" x2="34.8" y2="470.95" class="e"/>
<line x1="39.05" y1="463.35" x2="34.8" y2="470.95" class="e"/>
<line x1="10.2" y1="468.05" x2="17.3" y2="475.25" class="e"/>
<line x1="83.15" y1="455.75" x2="100.4" y2="462.7" class="e"/>
<line x1="90.1" y1="475.25" x2="101.9" y2="482.85" class="e"/>
<line x1="35.05" y1="480" x2="50.15" y2="478.25" class="e"/>
<line x1="38.1" y1="489.5" x2="41.7" y2="496.7" class="e"/>
<line x1="53.05" y1="489.5" x2="41.7" y2="496.7" class="e"/>
<line x1="121.05" y1="457.25" x2="116.4" y2="465.05" class="e"/>
<line x1="121.05" y1="457.25" x2="131.7" y2="463.1" class="e"/>
<line x1="100.4" y1="462.7" x2="116.4" y2="465.05" class="e"/>
<line x1="116.4" y1="465.05" x2="107.45" y2="471.2" class="e"/>
<line x1="131.7" y1="463.1" x2="145.3" y2="460.7" class="e"/>
<line x1="131.7" y1="463.1" x2="147.1" y2="470.5" class="e"/>
<line x1="147.1" y1="470.5" x2="131.15" y2="474.2" class="e"/>
<line x1="107.45" y1="471.2" x2="117.35" y2="476.75" class="e"/>
<line x1="117.35" y1="476.75" x2="131.15" y2="474.2" class="e"/>
<line x1="131.15" y1="474.2" x2="144.45" y2="479.8" class="e"/>
<line x1="144.45" y1="479.8" x2="159.55" y2="481.9" class="e"/>
<line x1="144.45" y1="479.8" x2="130.45" y2="484.1" class="e"/>
<line x1="159.55" y1="481.9" x2="162.7" y2="489.05" class="e"/>
<line x1="101.9" y1="482.85" x2="99.55" y2="489.8" class="e"/>
<line x1="99.55" y1="489.8" x2="97.7" y2="497.9" class="e"/>
<line x1="130.45" y1="484.1" x2="143.8" y2="490.35" class="e"/>
<line x1="130.85" y1="490.95" x2="143.8" y2="490.35" class="e"/>
<line x1="143.8" y1="490.35" x2="132" y2="497.9" class="e"/>
<line x1="143.8" y1="490.35" x2="158.5" y2="495.55" class="e"/>
<line x1="162.7" y1="489.05" x2="158.5" y2="495.55" class="e"/>
<line x1="202.65" y1="466.6" x2="217.15" y2="467" class="e"/>
<line x1="202.65" y1="466.6" x2="190.15" y2="470.5" class="e"/>
<line x1="217.15" y1="467" x2="233.55" y2="463.85" class="e"/>
<line x1="217.15" y1="467" x2="215.65" y2="475.25" class="e"/>
<line x1="233.55" y1="463.85" x2="243.1" y2="472.45" class="e"/>
<line x1="190.15" y1="470.5" x2="200.1" y2="476.05" class="e"/>
<line x1="186" y1="477.85" x2="200.1" y2="476.05" class="e"/>
<line x1="200.1" y1="476.05" x2="215.65" y2="475.25" class="e"/>
<line x1="215.65" y1="475.25" x2="232.7" y2="477.85" class="e"/>
<line x1="232.7" y1="477.85" x2="243.1" y2="472.45" class="e"/>
<line x1="142.1" y1="351.85" x2="147.5" y2="359" class="er"/>
<line x1="166.1" y1="352.8" x2="165" y2="359.75" class="er"/>
<line x1="166.1" y1="352.8" x2="177.8" y2="351.7" class="er"/>
<line x1="147.5" y1="359" x2="165" y2="359.75" class="er"/>
<line x1="165" y1="359.75" x2="177.8" y2="351.7" class="er"/>
<line x1="165" y1="359.75" x2="182.25" y2="359.9" class="er"/>
<line x1="175.5" y1="395" x2="191" y2="398.45" class="er"/>
<line x1="177.8" y1="351.7" x2="190.55" y2="348.9" class="er"/>
<line x1="177.8" y1="351.7" x2="182.25" y2="359.9" class="er"/>
<line x1="190.55" y1="348.9" x2="205.25" y2="350.4" class="er"/>
<line x1="190.55" y1="348.9" x2="182.25" y2="359.9" class="er"/>
<line x1="205.25" y1="350.4" x2="209.5" y2="357.1" class="er"/>
<line x1="209.5" y1="357.1" x2="223.5" y2="358" class="er"/>
<line x1="209.5" y1="357.1" x2="206.8" y2="367.7" class="er"/>
<line x1="223.5" y1="358" x2="238.5" y2="356.4" class="er"/>
<line x1="223.5" y1="358" x2="221.2" y2="368.55" class="er"/>
<line x1="206.8" y1="367.7" x2="221.2" y2="368.55" class="er"/>
<line x1="221.2" y1="368.55" x2="233.85" y2="369.65" class="er"/>
<line x1="203.3" y1="386.05" x2="199.7" y2="391.65" class="er"/>
<line x1="199.7" y1="391.65" x2="191" y2="398.45" class="er"/>
<line x1="199.7" y1="391.65" x2="204.75" y2="399.6" class="er"/>
<line x1="14.1" y1="408.2" x2="28.15" y2="406.45" class="er"/>
<line x1="14.1" y1="408.2" x2="28.95" y2="414.45" class="er"/>
<line x1="28.15" y1="406.45" x2="28.95" y2="414.45" class="er"/>
<line x1="66.85" y1="416.8" x2="79.15" y2="412.05" class="er"/>
<line x1="66.85" y1="416.8" x2="81.3" y2="419.2" class="er"/>
<line x1="79.15" y1="412.05" x2="81.3" y2="419.2" class="er"/>
<line x1="79.15" y1="412.05" x2="82.2" y2="427.65" class="er"/>
<line x1="81.3" y1="419.2" x2="96" y2="420.3" class="er"/>
<line x1="36.95" y1="424.65" x2="32" y2="431.55" class="er"/>
<line x1="36.95" y1="424.65" x2="47.4" y2="431.55" class="er"/>
<line x1="55.65" y1="422.45" x2="65.55" y2="430.45" class="er"/>
<line x1="82.2" y1="427.65" x2="96" y2="420.3" class="er"/>
<line x1="32" y1="431.55" x2="47.4" y2="431.55" class="er"/>
<line x1="32" y1="431.55" x2="21.2" y2="438.7" class="er"/>
<line x1="32" y1="431.55" x2="29.2" y2="446.65" class="er"/>
<line x1="12.1" y1="432.2" x2="6.45" y2="438.7" class="er"/>
<line x1="12.1" y1="432.2" x2="21.2" y2="438.7" class="er"/>
<line x1="6.45" y1="438.7" x2="6.5" y2="447.15" class="er"/>
<line x1="21.2" y1="438.7" x2="6.5" y2="447.15" class="er"/>
<line x1="21.2" y1="438.7" x2="29.2" y2="446.65" class="er"/>
<line x1="21.2" y1="438.7" x2="18.2" y2="453.45" class="er"/>
<line x1="40.05" y1="439.1" x2="29.2" y2="446.65" class="er"/>
<line x1="6.5" y1="447.15" x2="18.2" y2="453.45" class="er"/>
<line x1="29.2" y1="446.65" x2="18.2" y2="453.45" class="er"/>
<line x1="68.05" y1="454.05" x2="65.75" y2="463.85" class="er"/>
<line x1="98.6" y1="410.85" x2="96" y2="420.3" class="er"/>
<line x1="171.65" y1="410.6" x2="186" y2="405.15" class="er"/>
<line x1="171.65" y1="410.6" x2="186" y2="413.15" class="er"/>
<line x1="171.65" y1="410.6" x2="179.5" y2="420.25" class="er"/>
<line x1="96" y1="420.3" x2="100.4" y2="427.9" class="er"/>
<line x1="186" y1="405.15" x2="198.95" y2="408.85" class="er"/>
<line x1="186" y1="405.15" x2="186" y2="413.15" class="er"/>
<line x1="198.95" y1="408.85" x2="186" y2="413.15" class="er"/>
<line x1="186" y1="413.15" x2="179.5" y2="420.25" class="er"/>
<line x1="186" y1="413.15" x2="200.3" y2="418.2" class="er"/>
<line x1="237.05" y1="412.3" x2="223.2" y2="418.8" class="er"/>
<line x1="237.05" y1="412.3" x2="236.65" y2="424.85" class="er"/>
<line x1="223.2" y1="418.8" x2="236.65" y2="424.85" class="er"/>
<line x1="223.2" y1="418.8" x2="229" y2="430.9" class="er"/>
<line x1="236.65" y1="424.85" x2="229" y2="430.9" class="er"/>
<line x1="236.65" y1="424.85" x2="242.65" y2="430.9" class="er"/>
<line x1="199" y1="426.4" x2="187.3" y2="431.05" class="er"/>
<line x1="215.85" y1="427.2" x2="229" y2="430.9" class="er"/>
<line x1="229" y1="430.9" x2="242.65" y2="430.9" class="er"/>
<line x1="229" y1="430.9" x2="223.65" y2="437.95" class="er"/>
<line x1="242.65" y1="430.9" x2="240.5" y2="439.1" class="er"/>
<line x1="187.3" y1="431.05" x2="195.25" y2="437.95" class="er"/>
<line x1="223.65" y1="437.95" x2="209.15" y2="442.55" class="er"/>
<line x1="223.65" y1="437.95" x2="225.55" y2="445.6" class="er"/>
<line x1="225.55" y1="445.6" x2="240.95" y2="448.2" class="er"/>
<line x1="225.55" y1="445.6" x2="212.55" y2="450.5" class="er"/>
<line x1="225.55" y1="445.6" x2="230.2" y2="454.05" class="er"/>
<line x1="240.95" y1="448.2" x2="230.2" y2="454.05" class="er"/>
<line x1="39.05" y1="463.35" x2="53.65" y2="456.9" class="er"/>
<line x1="39.05" y1="463.35" x2="52.5" y2="469.65" class="er"/>
<line x1="17.3" y1="475.25" x2="10.6" y2="482.15" class="er"/>
<line x1="53.65" y1="456.9" x2="65.75" y2="463.85" class="er"/>
<line x1="53.65" y1="456.9" x2="52.5" y2="469.65" class="er"/>
<line x1="83.15" y1="455.75" x2="80.45" y2="467.9" class="er"/>
<line x1="65.75" y1="463.85" x2="52.5" y2="469.65" class="er"/>
<line x1="65.75" y1="463.85" x2="80.45" y2="467.9" class="er"/>
<line x1="52.5" y1="469.65" x2="66.65" y2="472.65" class="er"/>
<line x1="52.5" y1="469.65" x2="50.15" y2="478.25" class="er"/>
<line x1="80.45" y1="467.9" x2="66.65" y2="472.65" class="er"/>
<line x1="80.45" y1="467.9" x2="90.1" y2="475.25" class="er"/>
<line x1="66.65" y1="472.65" x2="64.4" y2="480.65" class="er"/>
<line x1="10.6" y1="482.15" x2="25.5" y2="485.35" class="er"/>
<line x1="35.05" y1="480" x2="25.5" y2="485.35" class="er"/>
<line x1="50.15" y1="478.25" x2="64.4" y2="480.65" class="er"/>
<line x1="25.5" y1="485.35" x2="10.4" y2="490.95" class="er"/>
<line x1="25.5" y1="485.35" x2="38.1" y2="489.5" class="er"/>
<line x1="25.5" y1="485.35" x2="25.95" y2="495.55" class="er"/>
<line x1="64.4" y1="480.65" x2="67.5" y2="488.8" class="er"/>
<line x1="82.15" y1="485.2" x2="67.5" y2="488.8" class="er"/>
<line x1="82.15" y1="485.2" x2="78.45" y2="494.3" class="er"/>
<line x1="10.4" y1="490.95" x2="25.95" y2="495.55" class="er"/>
<line x1="38.1" y1="489.5" x2="25.95" y2="495.55" class="er"/>
<line x1="53.05" y1="489.5" x2="67.5" y2="488.8" class="er"/>
<line x1="53.05" y1="489.5" x2="63.6" y2="496.7" class="er"/>
<line x1="67.5" y1="488.8" x2="63.6" y2="496.7" class="er"/>
<line x1="67.5" y1="488.8" x2="78.45" y2="494.3" class="er"/>
<line x1="63.6" y1="496.7" x2="78.45" y2="494.3" class="er"/>
<line x1="170.75" y1="457.25" x2="170.1" y2="467.45" class="er"/>
<line x1="170.75" y1="457.25" x2="183.4" y2="462.1" class="er"/>
<line x1="170.1" y1="467.45" x2="173.35" y2="474.85" class="er"/>
<line x1="170.1" y1="467.45" x2="183.4" y2="462.1" class="er"/>
<line x1="173.35" y1="474.85" x2="186" y2="477.85" class="er"/>
<line x1="101.9" y1="482.85" x2="115.95" y2="487.55" class="er"/>
<line x1="115.95" y1="487.55" x2="130.45" y2="484.1" class="er"/>
<line x1="115.95" y1="487.55" x2="130.85" y2="490.95" class="er"/>
<line x1="115.95" y1="487.55" x2="115.95" y2="496.7" class="er"/>
<line x1="130.45" y1="484.1" x2="130.85" y2="490.95" class="er"/>
<line x1="130.45" y1="484.1" x2="132" y2="497.9" class="er"/>
<line x1="130.85" y1="490.95" x2="115.95" y2="496.7" class="er"/>
<line x1="130.85" y1="490.95" x2="132" y2="497.9" class="er"/>
<line x1="183.4" y1="462.1" x2="190.15" y2="470.5" class="er"/>
<line x1="183.4" y1="462.1" x2="186" y2="477.85" class="er"/>
<line x1="190.15" y1="470.5" x2="186" y2="477.85" class="er"/>
<line x1="65.6" y1="430.5" x2="34.2" y2="455.2" class="er"/>
<path d="M6.6 351.5H20.7L22.2 354.25L20.7 357H6.6L5.1 354.25Z" class="o"/>
<text x="13.65" y="355.3" class="to" lengthAdjust="spacingAndGlyphs" textLength="13.1">HIWS7PU8</text>
<ellipse cx="7.9" cy="362" rx="5.6" ry="2.3" class="b"/>
<text x="7.9" y="363.05" class="tb" lengthAdjust="spacingAndGlyphs" textLength="6.7">UUC1</text>
<path d="M24.3 356.3H38.3L39.8 358.8L38.3 361.3H24.3L22.8 358.8Z" class="o"/>
<text x="31.3" y="359.85" class="to" lengthAdjust="spacingAndGlyphs" textLength="13">PESY18XF</text>
<ellipse cx="20.25" cy="364.85" rx="5.75" ry="2.55" class="b"/>
<text x="20.25" y="365.9" class="tb" lengthAdjust="spacingAndGlyphs" textLength="7">GUR2V</text>
<path d="M4.4 368H12L13.5 370.7L12 373.4H4.4L2.9 370.7Z" class="o"/>
<text x="8.2" y="371.75" class="to" lengthAdjust="spacingAndGlyphs" textLength="6.6">BNHB</text>
<path d="M29.8 364.5H40.6L42.1 366.8L40.6 369.1H29.8L28.3 366.8Z" class="o"/>
<text x="35.2" y="367.85" class="to" lengthAdjust="spacingAndGlyphs" textLength="9.8">AYV7YC</text>
<ellipse cx="50.45" cy="358.8" rx="7.25" ry="2.5" class="b"/>
<text x="50.45" y="359.85" class="tb" lengthAdjust="spacingAndGlyphs" textLength="10">VGUZ2L</text>
<ellipse cx="53.2" cy="350.8" rx="6.2" ry="2.7" class="b"/>
<text x="53.2" y="351.85" class="tb" lengthAdjust="spacingAndGlyphs" textLength="7.9">ZXA1S</text>
<path d="M64.8 344.6H72.9L74.4 347.35L72.9 350.1H64.8L63.3 347.35Z" class="o"/>
<text x="68.85" y="348.4" class="to" lengthAdjust="spacingAndGlyphs" textLength="7.1">ZSM0</text>
<path d="M64.8 352.3H74.2L75.7 354.8L74.2 357.3H64.8L63.3 354.8Z" class="o"/>
<text x="69.5" y="355.85" class="to" lengthAdjust="spacingAndGlyphs" textLength="8.4">VMDL1</text>
<ellipse cx="84" cy="346.9" rx="6.7" ry="2.3" class="b"/>
<text x="84" y="347.95" class="tb" lengthAdjust="spacingAndGlyphs" textLength="8.9">BXHG09</text>
<ellipse cx="84.85" cy="353.55" rx="5.85" ry="2.55" class="b"/>
<text x="84.85" y="354.6" class="tb" lengthAdjust="spacingAndGlyphs" textLength="7.2">PDAC2</text>
<ellipse cx="83.5" cy="359.9" rx="7.2" ry="2.3" class="k"/>
<text x="83.5" y="360.95" class="tk" lengthAdjust="spacingAndGlyphs" textLength="9.9">ETK698</text>
<path d="M46.4 362.8H52.7L54.2 365.5L52.7 368.2H46.4L44.9 365.5Z" class="o"/>
<text x="49.55" y="366.55" class="to" lengthAdjust="spacingAndGlyphs" textLength="5.3">YIP</text>
<path d="M58 361.9H66L67.5 364.45L66 367H58L56.5 364.45Z" class="o"/>
<text x="62" y="365.5" class="to" lengthAdjust="spacingAndGlyphs" textLength="7">AAL7</text>
<ellipse cx="76.5" cy="365.95" rx="6.2" ry="2.25" class="b"/>
<text x="76.5" y="367" class="tb" lengthAdjust="spacingAndGlyphs" textLength="7.9">SRB0V</text>
<ellipse cx="28.7" cy="374.85" rx="5.6" ry="2.55" class="b"/>
<text x="28.7" y="375.9" class="tb" lengthAdjust="spacingAndGlyphs" textLength="6.7">WXVR</text>
<ellipse cx="41.65" cy="373.5" rx="5.05" ry="2.9" class="b"/>
<text x="41.65" y="374.55" class="tb" lengthAdjust="spacingAndGlyphs" textLength="5.6">FYPV</text>
<path d="M54.6 368.8H63.1L64.6 371.4L63.1 374H54.6L53.1 371.4Z" class="o"/>
<text x="58.85" y="372.45" class="to" lengthAdjust="spacingAndGlyphs" textLength="7.5">SCMGE</text>
<ellipse cx="73.95" cy="372.9" rx="5.35" ry="2.3" class="b"/>
<text x="73.95" y="373.95" class="tb" lengthAdjust="spacingAndGlyphs" textLength="6.2">UVBM</text>
<ellipse cx="50.35" cy="378.35" rx="6.75" ry="2.55" class="b"/>
<text x="50.35" y="379.4" class="tb" lengthAdjust="spacingAndGlyphs" textLength="9">ZPLN5U</text>
<ellipse cx="17.75" cy="381.05" rx="7.95" ry="2.75" class="k"/>
<text x="17.75" y="382.1" class="tk" lengthAdjust="spacingAndGlyphs" textLength="11.4">RLHP9E2</text>
<path d="M32.9 379.3H40.6L42.1 381.8L40.6 384.3H32.9L31.4 381.8Z" class="o"/>
<text x="36.75" y="382.85" class="to" lengthAdjust="spacingAndGlyphs" textLength="6.7">INII</text>
<path d="M81.8 368H93.2L94.7 370.6L93.2 373.2H81.8L80.3 370.6Z" class="o"/>
<text x="87.5" y="371.65" class="to" lengthAdjust="spacingAndGlyphs" textLength="10.4">MUUE01</text>
<path d="M81.8 375.8H91.5L93 378.1L91.5 380.4H81.8L80.3 378.1Z" class="o"/>
<text x="86.65" y="379.15" class="to" lengthAdjust="spacingAndGlyphs" textLength="8.7">GOWDK</text>
<rect x="66.4" y="378.3" width="11.2" height="6" rx="2.7" class="r"/>
<text x="72" y="382.35" class="tr" lengthAdjust="spacingAndGlyphs" textLength="7.2">HEXL</text>
<ellipse cx="85.5" cy="385.4" rx="5.2" ry="2.7" class="b"/>
<text x="85.5" y="386.45" class="tb" lengthAdjust="spacingAndGlyphs" textLength="5.9">ZMS3</text>
<rect x="4.1" y="384.9" width="15" height="5.3" rx="2.38" class="r"/>
<text x="11.6" y="388.6" class="tr" lengthAdjust="spacingAndGlyphs" textLength="11">MTYB57H</text>
<path d="M23.9 384.4H29.7L31.2 387.15L29.7 389.9H23.9L22.4 387.15Z" class="o"/>
<text x="26.8" y="388.2" class="to" lengthAdjust="spacingAndGlyphs" textLength="4.8">HME</text>
<path d="M40.7 387.3H49.2L50.7 389.9L49.2 392.5H40.7L39.2 389.9Z" class="o"/>
<text x="44.95" y="390.95" class="to" lengthAdjust="spacingAndGlyphs" textLength="7.5">EGA7N</text>
<ellipse cx="57.1" cy="388" rx="4.9" ry="2.7" class="b"/>
<text x="57.1" y="389.05" class="tb" lengthAdjust="spacingAndGlyphs" textLength="5.3">UKFE</text>
<path d="M71.8 389.6H79.5L81 392.35L79.5 395.1H71.8L70.3 392.35Z" class="o"/>
<text x="75.65" y="393.4" class="to" lengthAdjust="spacingAndGlyphs" textLength="6.7">KZKU</text>
<ellipse cx="10.85" cy="397.25" rx="7.05" ry="2.45" class="b"/>
<text x="10.85" y="398.3" class="tb" lengthAdjust="spacingAndGlyphs" textLength="9.6">TXLGCK</text>
<ellipse cx="32" cy="397.6" rx="7.8" ry="2.3" class="k"/>
<text x="32" y="398.65" class="tk" lengthAdjust="spacingAndGlyphs" textLength="11.1">UMPYC54</text>
<ellipse cx="47.55" cy="395.8" rx="5.75" ry="2.7" class="b"/>
<text x="47.55" y="396.85" class="tb" lengthAdjust="spacingAndGlyphs" textLength="7">ITA4A</text>
<rect x="56.5" y="392.3" width="8.9" height="6.2" rx="2.79" class="r"/>
<text x="60.95" y="396.45" class="tr" lengthAdjust="spacingAndGlyphs" textLength="4.9">GBN</text>
<path d="M86.6 389.6H95.3L96.8 392.35L95.3 395.1H86.6L85.1 392.35Z" class="o"/>
<text x="90.95" y="393.4" class="to" lengthAdjust="spacingAndGlyphs" textLength="7.7">PGVS3</text>
<path d="M95.5 345.5H101.9L103.4 347.95L101.9 350.4H95.5L94 347.95Z" class="o"/>
<text x="98.7" y="349" class="to" lengthAdjust="spacingAndGlyphs" textLength="5.4">HZB</text>
<path d="M110.2 342.9H118.7L120.2 345.45L118.7 348H110.2L108.7 345.45Z" class="o"/>
<text x="114.45" y="346.5" class="to" lengthAdjust="spacingAndGlyphs" textLength="7.5">EVBUE</text>
<path d="M125.8 344.1H136L137.5 346.4L136 348.7H125.8L124.3 346.4Z" class="o"/>
<text x="130.9" y="347.45" class="to" lengthAdjust="spacingAndGlyphs" textLength="9.2">AGIA0L</text>
<ellipse cx="111.55" cy="352.8" rx="6.85" ry="2.5" class="b"/>
<text x="111.55" y="353.85" class="tb" lengthAdjust="spacingAndGlyphs" textLength="9.2">ZAWV5O</text>
<ellipse cx="98.7" cy="357.1" rx="6.4" ry="2.6" class="k"/>
<text x="98.7" y="358.15" class="tk" lengthAdjust="spacingAndGlyphs" textLength="8.3">BCW76</text>
<ellipse cx="126.95" cy="356.45" rx="7.95" ry="2.65" class="k"/>
<text x="126.95" y="357.5" class="tk" lengthAdjust="spacingAndGlyphs" textLength="11.4">IPALLV5</text>
<ellipse cx="111.45" cy="359.75" rx="6.15" ry="2.45" class="k"/>
<text x="111.45" y="360.8" class="tk" lengthAdjust="spacingAndGlyphs" textLength="7.8">FCAEC</text>
<path d="M98 363.1H106.6L108.1 365.65L106.6 368.2H98L96.5 365.65Z" class="o"/>
<text x="102.3" y="366.7" class="to" lengthAdjust="spacingAndGlyphs" textLength="7.6">MMOXT</text>
<path d="M117.1 363.1H125.1L126.6 365.65L125.1 368.2H117.1L115.6 365.65Z" class="o"/>
<text x="121.1" y="366.7" class="to" lengthAdjust="spacingAndGlyphs" textLength="7">EXVH</text>
<path d="M133.2 362.8H142.9L144.4 365.25L142.9 367.7H133.2L131.7 365.25Z" class="o"/>
<text x="138.05" y="366.3" class="to" lengthAdjust="spacingAndGlyphs" textLength="8.7">ZVI74</text>
<path d="M139.6 349.8H144.6L146.1 351.85L144.6 353.9H139.6L138.1 351.85Z" class="o"/>
<text x="142.1" y="352.9" class="to" lengthAdjust="spacingAndGlyphs" textLength="4">WTY</text>
<ellipse cx="154.3" cy="348.1" rx="6.4" ry="2.3" class="b"/>
<text x="154.3" y="349.15" class="tb" lengthAdjust="spacingAndGlyphs" textLength="8.3">PTIS2</text>
<path d="M162.8 350.3H169.4L170.9 352.8L169.4 355.3H162.8L161.3 352.8Z" class="o"/>
<text x="166.1" y="353.85" class="to" lengthAdjust="spacingAndGlyphs" textLength="5.6">IATW</text>
<ellipse cx="147.5" cy="359" rx="7.2" ry="2.3" class="b"/>
<text x="147.5" y="360.05" class="tb" lengthAdjust="spacingAndGlyphs" textLength="9.9">MEWC9B</text>
<ellipse cx="165" cy="359.75" rx="7.9" ry="2.45" class="b"/>
<text x="165" y="360.8" class="tb" lengthAdjust="spacingAndGlyphs" textLength="11.3">TSGFVE2</text>
<path d="M150.5 366.3H159.2L160.7 368.75L159.2 371.2H150.5L149 368.75Z" class="o"/>
<text x="154.85" y="369.8" class="to" lengthAdjust="spacingAndGlyphs" textLength="7.7">SAM3R</text>
<path d="M165 364.5H173.2L174.7 367L173.2 369.5H165L163.5 367Z" class="o"/>
<text x="169.1" y="368.05" class="to" lengthAdjust="spacingAndGlyphs" textLength="7.2">GWM6</text>
<ellipse cx="112.25" cy="371.8" rx="6.15" ry="2.5" class="k"/>
<text x="112.25" y="372.85" class="tk" lengthAdjust="spacingAndGlyphs" textLength="7.8">PGL0Z</text>
<rect x="123.7" y="370.6" width="10.3" height="5.8" rx="2.61" class="r"/>
<text x="128.85" y="374.55" class="tr" lengthAdjust="spacingAndGlyphs" textLength="6.3">ACW5</text>
<rect x="136.9" y="370.6" width="9.8" height="5.8" rx="2.61" class="r"/>
<text x="141.8" y="374.55" class="tr" lengthAdjust="spacingAndGlyphs" textLength="5.8">BHUN</text>
<ellipse cx="164.15" cy="374.85" rx="7.05" ry="2.55" class="b"/>
<text x="164.15" y="375.9" class="tb" lengthAdjust="spacingAndGlyphs" textLength="9.6">XWHAOM</text>
<ellipse cx="101" cy="381.25" rx="6.2" ry="2.55" class="b"/>
<text x="101" y="382.3" class="tb" lengthAdjust="spacingAndGlyphs" textLength="7.9">GLO47</text>
<rect x="109.5" y="377.5" width="11.5" height="5.8" rx="2.61" class="r"/>
<text x="115.25" y="381.45" class="tr" lengthAdjust="spacingAndGlyphs" textLength="7.5">GUFI2</text>
<ellipse cx="128.95" cy="381.25" rx="5.95" ry="2.55" class="b"/>
<text x="128.95" y="382.3" class="tb" lengthAdjust="spacingAndGlyphs" textLength="7.4">KKCR3</text>
<ellipse cx="147.85" cy="379.8" rx="6.85" ry="2.3" class="b"/>
<text x="147.85" y="380.85" class="tb" lengthAdjust="spacingAndGlyphs" textLength="9.2">FLX7B3</text>
<rect x="160.6" y="380.1" width="13.2" height="6" rx="2.7" class="r"/>
<text x="167.2" y="384.15" class="tr" lengthAdjust="spacingAndGlyphs" textLength="9.2">ZMB7E4</text>
<path d="M104.1 385.6H107.4L108.9 388.45L107.4 391.3H104.1L102.6 388.45Z" class="o"/>
<text x="105.75" y="389.5" class="to" lengthAdjust="spacingAndGlyphs" textLength="2.3">XA</text>
<ellipse cx="117.2" cy="390.45" rx="5.9" ry="2.55" class="b"/>
<text x="117.2" y="391.5" class="tb" lengthAdjust="spacingAndGlyphs" textLength="7.3">DEAKZ</text>
<path d="M126.6 387.9H129.6L131.1 390.6L129.6 393.3H126.6L125.1 390.6Z" class="o"/>
<text x="128.1" y="391.65" class="to" lengthAdjust="spacingAndGlyphs" textLength="2">MD</text>
<path d="M138.4 384.9H148.1L149.6 387.4L148.1 389.9H138.4L136.9 387.4Z" class="o"/>
<text x="143.25" y="388.45" class="to" lengthAdjust="spacingAndGlyphs" textLength="8.7">FPXOX</text>
<path d="M159.8 388.3H166.2L167.7 390.8L166.2 393.3H159.8L158.3 390.8Z" class="o"/>
<text x="163" y="391.85" class="to" lengthAdjust="spacingAndGlyphs" textLength="5.4">YNL</text>
<ellipse cx="101" cy="398.45" rx="5.3" ry="2.25" class="b"/>
<text x="101" y="399.5" class="tb" lengthAdjust="spacingAndGlyphs" textLength="6.1">BUHW</text>
<path d="M114.5 395.3H121.6L123.1 397.75L121.6 400.2H114.5L113 397.75Z" class="o"/>
<text x="118.05" y="398.8" class="to" lengthAdjust="spacingAndGlyphs" textLength="6.1">YABV</text>
<ellipse cx="150.75" cy="395.8" rx="6.65" ry="2.7" class="b"/>
<text x="150.75" y="396.85" class="tb" lengthAdjust="spacingAndGlyphs" textLength="8.8">HUO0LD</text>
<ellipse cx="175.5" cy="395" rx="7.2" ry="2.7" class="b"/>
<text x="175.5" y="396.05" class="tb" lengthAdjust="spacingAndGlyphs" textLength="9.9">DREAXW</text>
<path d="M174.9 349H180.7L182.2 351.7L180.7 354.4H174.9L173.4 351.7Z" class="o"/>
<text x="177.8" y="352.75" class="to" lengthAdjust="spacingAndGlyphs" textLength="4.8">ZTS</text>
<ellipse cx="190.55" cy="348.9" rx="6.45" ry="2.6" class="b"/>
<text x="190.55" y="349.95" class="tb" lengthAdjust="spacingAndGlyphs" textLength="8.4">DSM1G</text>
<path d="M200.8 347.6H209.7L211.2 350.4L209.7 353.2H200.8L199.3 350.4Z" class="o"/>
<text x="205.25" y="351.45" class="to" lengthAdjust="spacingAndGlyphs" textLength="7.9">HZCFI</text>
<ellipse cx="182.25" cy="359.9" rx="6.45" ry="2.6" class="b"/>
<text x="182.25" y="360.95" class="tb" lengthAdjust="spacingAndGlyphs" textLength="8.4">CBGO5</text>
<ellipse cx="197.65" cy="361.2" rx="5.75" ry="2.7" class="b"/>
<text x="197.65" y="362.25" class="tb" lengthAdjust="spacingAndGlyphs" textLength="7">IAL7T</text>
<ellipse cx="209.5" cy="357.1" rx="5.5" ry="2.6" class="b"/>
<text x="209.5" y="358.15" class="tb" lengthAdjust="spacingAndGlyphs" textLength="6.5">LYO4</text>
<path d="M218.2 355.5H228.8L230.3 358L228.8 360.5H218.2L216.7 358Z" class="o"/>
<text x="223.5" y="359.05" class="to" lengthAdjust="spacingAndGlyphs" textLength="9.6">NOLN66</text>
<ellipse cx="238.5" cy="356.4" rx="5.6" ry="2.3" class="k"/>
<text x="238.5" y="357.45" class="tk" lengthAdjust="spacingAndGlyphs" textLength="6.7">EWAS</text>
<path d="M234.4 360.7H244.3L245.8 363.35L244.3 366H234.4L232.9 363.35Z" class="o"/>
<text x="239.35" y="364.4" class="to" lengthAdjust="spacingAndGlyphs" textLength="8.9">IYV31</text>
<path d="M179.6 365.9H189.8L191.3 368.55L189.8 371.2H179.6L178.1 368.55Z" class="o"/>
<text x="184.7" y="369.6" class="to" lengthAdjust="spacingAndGlyphs" textLength="9.2">CVB0TW</text>
<rect x="200.6" y="364.9" width="12.4" height="5.6" rx="2.52" class="r"/>
<text x="206.8" y="368.75" class="tr" lengthAdjust="spacingAndGlyphs" textLength="8.4">PTXUZ</text>
<path d="M217.1 365.9H225.3L226.8 368.55L225.3 371.2H217.1L215.6 368.55Z" class="o"/>
<text x="221.2" y="369.6" class="to" lengthAdjust="spacingAndGlyphs" textLength="7.2">WRST</text>
<ellipse cx="233.85" cy="369.65" rx="5.05" ry="2.55" class="b"/>
<text x="233.85" y="370.7" class="tb" lengthAdjust="spacingAndGlyphs" textLength="5.6">NHW6</text>
<ellipse cx="179.95" cy="377.2" rx="7.05" ry="2.6" class="b"/>
<text x="179.95" y="378.25" class="tb" lengthAdjust="spacingAndGlyphs" textLength="9.6">MYCSX5</text>
<ellipse cx="196.55" cy="377.65" rx="6.35" ry="2.75" class="b"/>
<text x="196.55" y="378.7" class="tb" lengthAdjust="spacingAndGlyphs" textLength="8.2">CWT94</text>
<path d="M207.3 374H214.9L216.4 376.55L214.9 379.1H207.3L205.8 376.55Z" class="o"/>
<text x="211.1" y="377.6" class="to" lengthAdjust="spacingAndGlyphs" textLength="6.6">RZMR</text>
<ellipse cx="234.4" cy="377.35" rx="7.1" ry="2.45" class="b"/>
<text x="234.4" y="378.4" class="tb" lengthAdjust="spacingAndGlyphs" textLength="9.7">UHESGM</text>
<path d="M177.8 382.7H185.5L187 385.4L185.5 388.1H177.8L176.3 385.4Z" class="o"/>
<text x="181.65" y="386.45" class="to" lengthAdjust="spacingAndGlyphs" textLength="6.7">HXFX</text>
<path d="M198.6 383.6H208L209.5 386.05L208 388.5H198.6L197.1 386.05Z" class="o"/>
<text x="203.3" y="387.1" class="to" lengthAdjust="spacingAndGlyphs" textLength="8.4">PFW0M</text>
<ellipse cx="218.3" cy="383.95" rx="6.8" ry="2.45" class="b"/>
<text x="218.3" y="385" class="tb" lengthAdjust="spacingAndGlyphs" textLength="9.1">ODOIMS</text>
<path d="M231.5 381.8H237.4L238.9 384.55L237.4 387.3H231.5L230 384.55Z" class="o"/>
<text x="234.45" y="385.6" class="to" lengthAdjust="spacingAndGlyphs" textLength="4.9">SKP</text>
<path d="M195.7 389.1H203.7L205.2 391.65L203.7 394.2H195.7L194.2 391.65Z" class="o"/>
<text x="199.7" y="392.7" class="to" lengthAdjust="spacingAndGlyphs" textLength="7">XCIP</text>
<ellipse cx="225.35" cy="390.6" rx="6.65" ry="2.7" class="b"/>
<text x="225.35" y="391.65" class="tb" lengthAdjust="spacingAndGlyphs" textLength="8.8">YDP22E</text>
<ellipse cx="242.65" cy="390.45" rx="6.65" ry="2.55" class="b"/>
<text x="242.65" y="391.5" class="tb" lengthAdjust="spacingAndGlyphs" textLength="8.8">MRS9L4</text>
<ellipse cx="191" cy="398.45" rx="5.5" ry="2.25" class="b"/>
<text x="191" y="399.5" class="tb" lengthAdjust="spacingAndGlyphs" textLength="6.5">ATGI</text>
<path d="M231.5 393.9H239.2L240.7 396.9L239.2 399.9H231.5L230 396.9Z" class="o"/>
<text x="235.35" y="397.95" class="to" lengthAdjust="spacingAndGlyphs" textLength="6.7">BUFT</text>
<rect x="38.3" y="401.3" width="9.8" height="5.9" rx="2.65" class="r"/>
<text x="43.2" y="405.3" class="tr" lengthAdjust="spacingAndGlyphs" textLength="5.8">ILIP</text>
<rect x="50.5" y="400.1" width="9.8" height="5.8" rx="2.61" class="r"/>
<text x="55.4" y="404.05" class="tr" lengthAdjust="spacingAndGlyphs" textLength="5.8">CSWC</text>
<ellipse cx="67.9" cy="405.15" rx="6.2" ry="2.55" class="b"/>
<text x="67.9" y="406.2" class="tb" lengthAdjust="spacingAndGlyphs" textLength="7.9">GEO45</text>
<ellipse cx="88.35" cy="403.9" rx="6.75" ry="2.6" class="b"/>
<text x="88.35" y="404.95" class="tb" lengthAdjust="spacingAndGlyphs" textLength="9">BYPB46</text>
<path d="M10.1 405.7H18.1L19.6 408.2L18.1 410.7H10.1L8.6 408.2Z" class="o"/>
<text x="14.1" y="409.25" class="to" lengthAdjust="spacingAndGlyphs" textLength="7">WVIN</text>
<ellipse cx="28.15" cy="406.45" rx="7.05" ry="2.45" class="b"/>
<text x="28.15" y="407.5" class="tb" lengthAdjust="spacingAndGlyphs" textLength="9.6">UEVYC5</text>
<ellipse cx="50.8" cy="411.1" rx="6.9" ry="2.3" class="b"/>
<text x="50.8" y="412.15" class="tb" lengthAdjust="spacingAndGlyphs" textLength="9.3">CCPSW0</text>
<path d="M26 411.7H31.9L33.4 414.45L31.9 417.2H26L24.5 414.45Z" class="o"/>
<text x="28.95" y="415.5" class="to" lengthAdjust="spacingAndGlyphs" textLength="4.9">DUU</text>
<ellipse cx="15.15" cy="418.95" rx="6.15" ry="2.55" class="b"/>
<text x="15.15" y="420" class="tb" lengthAdjust="spacingAndGlyphs" textLength="7.8">PPY62</text>
<ellipse cx="66.85" cy="416.8" rx="6.35" ry="2.5" class="b"/>
<text x="66.85" y="417.85" class="tb" lengthAdjust="spacingAndGlyphs" textLength="8.2">CPNS0</text>
<ellipse cx="79.15" cy="412.05" rx="7.05" ry="2.55" class="b"/>
<text x="79.15" y="413.1" class="tb" lengthAdjust="spacingAndGlyphs" textLength="9.6">XHZTXL</text>
<path d="M77.9 416.4H84.7L86.2 419.2L84.7 422H77.9L76.4 419.2Z" class="o"/>
<text x="81.3" y="420.25" class="to" lengthAdjust="spacingAndGlyphs" textLength="5.8">NPDC</text>
<ellipse cx="36.95" cy="424.65" rx="6.85" ry="2.55" class="b"/>
<text x="36.95" y="425.7" class="tb" lengthAdjust="spacingAndGlyphs" textLength="9.2">UADGB3</text>
<ellipse cx="55.65" cy="422.45" rx="7.75" ry="2.55" class="b"/>
<text x="55.65" y="423.5" class="tb" lengthAdjust="spacingAndGlyphs" textLength="11">YLR8620</text>
<ellipse cx="82.2" cy="427.65" rx="6.6" ry="2.55" class="b"/>
<text x="82.2" y="428.7" class="tb" lengthAdjust="spacingAndGlyphs" textLength="8.7">WELS24</text>
<path d="M26.9 429H37.1L38.6 431.55L37.1 434.1H26.9L25.4 431.55Z" class="o"/>
<text x="32" y="432.6" class="to" lengthAdjust="spacingAndGlyphs" textLength="9.2">SICI4S</text>
<path d="M43 429H51.8L53.3 431.55L51.8 434.1H43L41.5 431.55Z" class="o"/>
<text x="47.4" y="432.6" class="to" lengthAdjust="spacingAndGlyphs" textLength="7.8">OXBH6</text>
<path d="M62 427.8H69.1L70.6 430.45L69.1 433.1H62L60.5 430.45Z" class="o"/>
<text x="65.55" y="431.5" class="to" lengthAdjust="spacingAndGlyphs" textLength="6.1">TIKB</text>
<ellipse cx="12.1" cy="432.2" rx="6.6" ry="2.6" class="b"/>
<text x="12.1" y="433.25" class="tb" lengthAdjust="spacingAndGlyphs" textLength="8.7">GTWP9L</text>
<path d="M3.5 436H9.4L10.9 438.7L9.4 441.4H3.5L2 438.7Z" class="o"/>
<text x="6.45" y="439.75" class="to" lengthAdjust="spacingAndGlyphs" textLength="4.9">GPY</text>
<path d="M18.2 436H24.2L25.7 438.7L24.2 441.4H18.2L16.7 438.7Z" class="o"/>
<text x="21.2" y="439.75" class="to" lengthAdjust="spacingAndGlyphs" textLength="5">TXB</text>
<ellipse cx="40.05" cy="439.1" rx="7.25" ry="2.6" class="b"/>
<text x="40.05" y="440.15" class="tb" lengthAdjust="spacingAndGlyphs" textLength="10">ZLAO5H</text>
<path d="M74.1 433.7H83L84.5 436.5L83 439.3H74.1L72.6 436.5Z" class="o"/>
<text x="78.55" y="437.55" class="to" lengthAdjust="spacingAndGlyphs" textLength="7.9">PKG96</text>
<ellipse cx="62.5" cy="439.25" rx="7.2" ry="2.45" class="b"/>
<text x="62.5" y="440.3" class="tb" lengthAdjust="spacingAndGlyphs" textLength="9.9">ZPG0WE</text>
<ellipse cx="6.5" cy="447.15" rx="6.2" ry="2.55" class="b"/>
<text x="6.5" y="448.2" class="tb" lengthAdjust="spacingAndGlyphs" textLength="7.9">CVRZF</text>
<ellipse cx="29.2" cy="446.65" rx="6.8" ry="2.55" class="b"/>
<text x="29.2" y="447.7" class="tb" lengthAdjust="spacingAndGlyphs" textLength="9.1">RHX482</text>
<path d="M56.8 444.1H62.2L63.7 446.9L62.2 449.7H56.8L55.3 446.9Z" class="o"/>
<text x="59.5" y="447.95" class="to" lengthAdjust="spacingAndGlyphs" textLength="4.4">YGS</text>
<ellipse cx="73.05" cy="444.75" rx="7.05" ry="2.75" class="b"/>
<text x="73.05" y="445.8" class="tb" lengthAdjust="spacingAndGlyphs" textLength="9.6">DPDC6I</text>
<path d="M83.1 439.3H91L92.5 442L91 444.7H83.1L81.6 442Z" class="o"/>
<text x="87.05" y="443.05" class="to" lengthAdjust="spacingAndGlyphs" textLength="6.9">YPXB</text>
<path d="M14.8 450.9H21.6L23.1 453.45L21.6 456H14.8L13.3 453.45Z" class="o"/>
<text x="18.2" y="454.5" class="to" lengthAdjust="spacingAndGlyphs" textLength="5.8">YEBP</text>
<ellipse cx="34.15" cy="455.15" rx="7.05" ry="2.55" class="b"/>
<text x="34.15" y="456.2" class="tb" lengthAdjust="spacingAndGlyphs" textLength="9.6">KHU845</text>
<path d="M64.4 451.4H71.7L73.2 454.05L71.7 456.7H64.4L62.9 454.05Z" class="o"/>
<text x="68.05" y="455.1" class="to" lengthAdjust="spacingAndGlyphs" textLength="6.3">TGE3</text>
<ellipse cx="130.5" cy="400.45" rx="6.2" ry="2.55" class="b"/>
<text x="130.5" y="401.5" class="tb" lengthAdjust="spacingAndGlyphs" textLength="7.9">NBLWW</text>
<path d="M160.8 397.9H168L169.5 400.65L168 403.4H160.8L159.3 400.65Z" class="o"/>
<text x="164.4" y="401.7" class="to" lengthAdjust="spacingAndGlyphs" textLength="6.2">TYCE</text>
<ellipse cx="112.95" cy="405.65" rx="7.25" ry="2.55" class="b"/>
<text x="112.95" y="406.7" class="tb" lengthAdjust="spacingAndGlyphs" textLength="10">ZFONMG</text>
<path d="M94.6 408.3H102.6L104.1 410.85L102.6 413.4H94.6L93.1 410.85Z" class="o"/>
<text x="98.6" y="411.9" class="to" lengthAdjust="spacingAndGlyphs" textLength="7">WSSR</text>
<path d="M126.9 406.5H133.4L134.9 409.25L133.4 412H126.9L125.4 409.25Z" class="o"/>
<text x="130.15" y="410.3" class="to" lengthAdjust="spacingAndGlyphs" textLength="5.5">MAR</text>
<path d="M140.1 404.8H147.6L149.1 407.35L147.6 409.9H140.1L138.6 407.35Z" class="o"/>
<text x="143.85" y="408.4" class="to" lengthAdjust="spacingAndGlyphs" textLength="6.5">CGRK</text>
<path d="M157.8 406.5H163.2L164.7 409.1L163.2 411.7H157.8L156.3 409.1Z" class="o"/>
<text x="160.5" y="410.15" class="to" lengthAdjust="spacingAndGlyphs" textLength="4.4">VUT</text>
<ellipse cx="171.65" cy="410.6" rx="5.85" ry="2.8" class="b"/>
<text x="171.65" y="411.65" class="tb" lengthAdjust="spacingAndGlyphs" textLength="7.2">CGEHK</text>
<path d="M109.3 413.5H116.9L118.4 416.05L116.9 418.6H109.3L107.8 416.05Z" class="o"/>
<text x="113.1" y="417.1" class="to" lengthAdjust="spacingAndGlyphs" textLength="6.6">BUVA</text>
<ellipse cx="139.65" cy="417.75" rx="9.05" ry="2.55" class="b"/>
<text x="139.65" y="418.8" class="tb" lengthAdjust="spacingAndGlyphs" textLength="13.6">MGE0MHMK</text>
<path d="M92.8 417.4H99.2L100.7 420.3L99.2 423.2H92.8L91.3 420.3Z" class="o"/>
<text x="96" y="421.35" class="to" lengthAdjust="spacingAndGlyphs" textLength="5.4">CZT</text>
<ellipse cx="118.75" cy="422.9" rx="7.45" ry="2.6" class="b"/>
<text x="118.75" y="423.95" class="tb" lengthAdjust="spacingAndGlyphs" textLength="10.4">PDZFPBD</text>
<ellipse cx="100.4" cy="427.9" rx="6.4" ry="2.8" class="b"/>
<text x="100.4" y="428.95" class="tb" lengthAdjust="spacingAndGlyphs" textLength="8.3">OWYU1</text>
<rect x="132" y="425.1" width="10.7" height="5.6" rx="2.52" class="r"/>
<text x="137.35" y="428.95" class="tr" lengthAdjust="spacingAndGlyphs" textLength="6.7">MZX5</text>
<rect x="146.2" y="423" width="15.5" height="5.4" rx="2.43" class="r"/>
<text x="153.95" y="426.75" class="tr" lengthAdjust="spacingAndGlyphs" textLength="11.5">FXCW7IH</text>
<path d="M165.5 429H173.2L174.7 431.9L173.2 434.8H165.5L164 431.9Z" class="o"/>
<text x="169.35" y="432.95" class="to" lengthAdjust="spacingAndGlyphs" textLength="6.7">DERT</text>
<ellipse cx="93.25" cy="434.8" rx="7.05" ry="2.8" class="b"/>
<text x="93.25" y="435.85" class="tb" lengthAdjust="spacingAndGlyphs" textLength="9.6">DLPUSG</text>
<path d="M103.2 433H111.2L112.7 435.65L111.2 438.3H103.2L101.7 435.65Z" class="o"/>
<text x="107.2" y="436.7" class="to" lengthAdjust="spacingAndGlyphs" textLength="7">KNTE</text>
<ellipse cx="146.25" cy="434.35" rx="7.35" ry="2.75" class="b"/>
<text x="146.25" y="435.4" class="tb" lengthAdjust="spacingAndGlyphs" textLength="10.2">HZTDBY</text>
<ellipse cx="160.1" cy="437.35" rx="5.9" ry="2.65" class="b"/>
<text x="160.1" y="438.4" class="tb" lengthAdjust="spacingAndGlyphs" textLength="7.3">UGY12</text>
<path d="M124.8 438.6H134.8L136.3 441.3L134.8 444H124.8L123.3 441.3Z" class="o"/>
<text x="129.8" y="442.35" class="to" lengthAdjust="spacingAndGlyphs" textLength="9">IAOSU</text>
<rect x="144.1" y="440.6" width="13.3" height="5.7" rx="2.56" class="r"/>
<text x="150.75" y="444.5" class="tr" lengthAdjust="spacingAndGlyphs" textLength="9.3">DCXHS0</text>
<path d="M161.2 444.1H168.8L170.3 446.9L168.8 449.7H161.2L159.7 446.9Z" class="o"/>
<text x="165" y="447.95" class="to" lengthAdjust="spacingAndGlyphs" textLength="6.6">HCVD</text>
<ellipse cx="121.85" cy="447.95" rx="5.75" ry="2.45" class="b"/>
<text x="121.85" y="449" class="tb" lengthAdjust="spacingAndGlyphs" textLength="7">BGV25</text>
<path d="M101.5 448.1H110.9L112.4 451.2L110.9 454.3H101.5L100 451.2Z" class="o"/>
<text x="106.2" y="452.25" class="to" lengthAdjust="spacingAndGlyphs" textLength="8.4">CPU0O</text>
<path d="M132.1 448.1H143.8L145.3 451.2L143.8 454.3H132.1L130.6 451.2Z" class="o"/>
<text x="137.95" y="452.25" class="to" lengthAdjust="spacingAndGlyphs" textLength="10.7">OBC22M</text>
<path d="M150.5 451.4H159.3L160.8 454.05L159.3 456.7H150.5L149 454.05Z" class="o"/>
<text x="154.9" y="455.1" class="to" lengthAdjust="spacingAndGlyphs" textLength="7.8">EGG51</text>
<ellipse cx="204.75" cy="399.6" rx="6.45" ry="2.9" class="b"/>
<text x="204.75" y="400.65" class="tb" lengthAdjust="spacingAndGlyphs" textLength="8.4">ARBL9</text>
<path d="M218.5 398.8H227L228.5 401.5L227 404.2H218.5L217 401.5Z" class="o"/>
<text x="222.75" y="402.55" class="to" lengthAdjust="spacingAndGlyphs" textLength="7.5">WCG06</text>
<ellipse cx="236.65" cy="404.55" rx="5.75" ry="2.65" class="b"/>
<text x="236.65" y="405.6" class="tb" lengthAdjust="spacingAndGlyphs" textLength="7">CWY9R</text>
<path d="M183 402.6H189L190.5 405.15L189 407.7H183L181.5 405.15Z" class="o"/>
<text x="186" y="406.2" class="to" lengthAdjust="spacingAndGlyphs" textLength="5">XZR</text>
<path d="M196 406H201.9L203.4 408.85L201.9 411.7H196L194.5 408.85Z" class="o"/>
<text x="198.95" y="409.9" class="to" lengthAdjust="spacingAndGlyphs" textLength="4.9">EIY</text>
<ellipse cx="186" cy="413.15" rx="6.2" ry="2.65" class="b"/>
<text x="186" y="414.2" class="tb" lengthAdjust="spacingAndGlyphs" textLength="7.9">KBZXO</text>
<ellipse cx="220.65" cy="409.7" rx="7.05" ry="2.6" class="b"/>
<text x="220.65" y="410.75" class="tb" lengthAdjust="spacingAndGlyphs" textLength="9.6">NWSUWI</text>
<path d="M233.2 409.5H240.9L242.4 412.3L240.9 415.1H233.2L231.7 412.3Z" class="o"/>
<text x="237.05" y="413.35" class="to" lengthAdjust="spacingAndGlyphs" textLength="6.7">HHGT</text>
<path d="M177 417.8H182L183.5 420.25L182 422.7H177L175.5 420.25Z" class="o"/>
<text x="179.5" y="421.3" class="to" lengthAdjust="spacingAndGlyphs" textLength="4">HRU</text>
<ellipse cx="200.3" cy="418.2" rx="10.6" ry="2.5" class="b"/>
<text x="200.3" y="419.25" class="tb" lengthAdjust="spacingAndGlyphs" textLength="16.7">XYBN563560</text>
<ellipse cx="223.2" cy="418.8" rx="6.2" ry="2.7" class="b"/>
<text x="223.2" y="419.85" class="tb" lengthAdjust="spacingAndGlyphs" textLength="7.9">KRVD7</text>
<path d="M232.4 422.1H240.9L242.4 424.85L240.9 427.6H232.4L230.9 424.85Z" class="o"/>
<text x="236.65" y="425.9" class="to" lengthAdjust="spacingAndGlyphs" textLength="7.5">OOVEG</text>
<ellipse cx="199" cy="426.4" rx="7.9" ry="2.6" class="b"/>
<text x="199" y="427.45" class="tb" lengthAdjust="spacingAndGlyphs" textLength="11.3">CMN9LIP</text>
<ellipse cx="215.85" cy="427.2" rx="5.45" ry="2.5" class="b"/>
<text x="215.85" y="428.25" class="tb" lengthAdjust="spacingAndGlyphs" textLength="6.4">OXT1</text>
<path d="M225.4 428.2H232.6L234.1 430.9L232.6 433.6H225.4L223.9 430.9Z" class="o"/>
<text x="229" y="431.95" class="to" lengthAdjust="spacingAndGlyphs" textLength="6.2">GXWF</text>
<ellipse cx="242.65" cy="430.9" rx="5.75" ry="2.7" class="b"/>
<text x="242.65" y="431.95" class="tb" lengthAdjust="spacingAndGlyphs" textLength="7">NIL5M</text>
<ellipse cx="187.3" cy="431.05" rx="5.8" ry="2.55" class="b"/>
<text x="187.3" y="432.1" class="tb" lengthAdjust="spacingAndGlyphs" textLength="7.1">VNKS9</text>
<path d="M203.8 431.6H213.5L215 434.35L213.5 437.1H203.8L202.3 434.35Z" class="o"/>
<text x="208.65" y="435.4" class="to" lengthAdjust="spacingAndGlyphs" textLength="8.7">GFNA1</text>
<ellipse cx="180.4" cy="439.55" rx="6.3" ry="2.75" class="b"/>
<text x="180.4" y="440.6" class="tb" lengthAdjust="spacingAndGlyphs" textLength="8.1">HPU41</text>
<path d="M190.8 435.4H199.7L201.2 437.95L199.7 440.5H190.8L189.3 437.95Z" class="o"/>
<text x="195.25" y="439" class="to" lengthAdjust="spacingAndGlyphs" textLength="7.9">TZS24</text>
<path d="M219.4 435.4H227.9L229.4 437.95L227.9 440.5H219.4L217.9 437.95Z" class="o"/>
<text x="223.65" y="439" class="to" lengthAdjust="spacingAndGlyphs" textLength="7.5">XOCLK</text>
<ellipse cx="240.5" cy="439.1" rx="6.2" ry="2.6" class="b"/>
<text x="240.5" y="440.15" class="tb" lengthAdjust="spacingAndGlyphs" textLength="7.9">MKX60</text>
<ellipse cx="209.15" cy="442.55" rx="6.35" ry="2.65" class="b"/>
<text x="209.15" y="443.6" class="tb" lengthAdjust="spacingAndGlyphs" textLength="8.2">WRRAX</text>
<path d="M187 442.3H195.9L197.4 445.15L195.9 448H187L185.5 445.15Z" class="o"/>
<text x="191.45" y="446.2" class="to" lengthAdjust="spacingAndGlyphs" textLength="7.9">DTNS9</text>
<ellipse cx="225.55" cy="445.6" rx="6.45" ry="2.7" class="b"/>
<text x="225.55" y="446.65" class="tb" lengthAdjust="spacingAndGlyphs" textLength="8.4">ZPB7I</text>
<path d="M236.7 445.5H245.2L246.7 448.2L245.2 450.9H236.7L235.2 448.2Z" class="o"/>
<text x="240.95" y="449.25" class="to" lengthAdjust="spacingAndGlyphs" textLength="7.5">EGU8N</text>
<ellipse cx="189.9" cy="452.75" rx="5.8" ry="2.75" class="b"/>
<text x="189.9" y="453.8" class="tb" lengthAdjust="spacingAndGlyphs" textLength="7.1">FZU43</text>
<ellipse cx="212.55" cy="450.5" rx="5.95" ry="3" class="b"/>
<text x="212.55" y="451.55" class="tb" lengthAdjust="spacingAndGlyphs" textLength="7.4">KTAO6</text>
<path d="M226.8 451.4H233.6L235.1 454.05L233.6 456.7H226.8L225.3 454.05Z" class="o"/>
<text x="230.2" y="455.1" class="to" lengthAdjust="spacingAndGlyphs" textLength="5.8">RYM4</text>
<ellipse cx="10.2" cy="460.1" rx="6.8" ry="2.8" class="k"/>
<text x="10.2" y="461.15" class="tk" lengthAdjust="spacingAndGlyphs" textLength="9.1">LFUB53</text>
<path d="M20.5 461.3H26.7L28.2 464L26.7 466.7H20.5L19 464Z" class="o"/>
<text x="23.6" y="465.05" class="to" lengthAdjust="spacingAndGlyphs" textLength="5.2">SBF</text>
<ellipse cx="39.05" cy="463.35" rx="7.65" ry="2.55" class="k"/>
<text x="39.05" y="464.4" class="tk" lengthAdjust="spacingAndGlyphs" textLength="10.8">KZSK9N5</text>
<ellipse cx="10.2" cy="468.05" rx="6.8" ry="2.45" class="b"/>
<text x="10.2" y="469.1" class="tb" lengthAdjust="spacingAndGlyphs" textLength="9.1">YFIRL6</text>
<ellipse cx="34.8" cy="470.95" rx="6.8" ry="2.75" class="k"/>
<text x="34.8" y="472" class="tk" lengthAdjust="spacingAndGlyphs" textLength="9.1">DXILRG</text>
<path d="M12.2 472.5H22.4L23.9 475.25L22.4 478H12.2L10.7 475.25Z" class="o"/>
<text x="17.3" y="476.3" class="to" lengthAdjust="spacingAndGlyphs" textLength="9.2">VPS25I</text>
<ellipse cx="53.65" cy="456.9" rx="6.65" ry="2.6" class="b"/>
<text x="53.65" y="457.95" class="tb" lengthAdjust="spacingAndGlyphs" textLength="8.8">TRXXCM</text>
<ellipse cx="83.15" cy="455.75" rx="7.55" ry="2.65" class="b"/>
<text x="83.15" y="456.8" class="tb" lengthAdjust="spacingAndGlyphs" textLength="10.6">YNS1AYM</text>
<path d="M60.6 461.3H70.9L72.4 463.85L70.9 466.4H60.6L59.1 463.85Z" class="o"/>
<text x="65.75" y="464.9" class="to" lengthAdjust="spacingAndGlyphs" textLength="9.3">VMI116</text>
<path d="M47.1 467H57.9L59.4 469.65L57.9 472.3H47.1L45.6 469.65Z" class="o"/>
<text x="52.5" y="470.7" class="to" lengthAdjust="spacingAndGlyphs" textLength="9.8">YDKF16</text>
<ellipse cx="80.45" cy="467.9" rx="6.65" ry="2.6" class="b"/>
<text x="80.45" y="468.95" class="tb" lengthAdjust="spacingAndGlyphs" textLength="8.8">ZLNLF2</text>
<ellipse cx="66.65" cy="472.65" rx="5.75" ry="2.75" class="b"/>
<text x="66.65" y="473.7" class="tb" lengthAdjust="spacingAndGlyphs" textLength="7">TZSKL</text>
<path d="M85.8 472.5H94.4L95.9 475.25L94.4 478H85.8L84.3 475.25Z" class="o"/>
<text x="90.1" y="476.3" class="to" lengthAdjust="spacingAndGlyphs" textLength="7.6">XCOA3</text>
<path d="M6.6 479.4H14.6L16.1 482.15L14.6 484.9H6.6L5.1 482.15Z" class="o"/>
<text x="10.6" y="483.2" class="to" lengthAdjust="spacingAndGlyphs" textLength="7">UONZ</text>
<ellipse cx="35.05" cy="480" rx="7.05" ry="2.7" class="b"/>
<text x="35.05" y="481.05" class="tb" lengthAdjust="spacingAndGlyphs" textLength="9.6">IXEX3K</text>
<path d="M45.9 475.6H54.4L55.9 478.25L54.4 480.9H45.9L44.4 478.25Z" class="o"/>
<text x="50.15" y="479.3" class="to" lengthAdjust="spacingAndGlyphs" textLength="7.5">BZWKY</text>
<ellipse cx="25.5" cy="485.35" rx="6.2" ry="2.45" class="b"/>
<text x="25.5" y="486.4" class="tb" lengthAdjust="spacingAndGlyphs" textLength="7.9">YNV19</text>
<ellipse cx="64.4" cy="480.65" rx="5.3" ry="2.55" class="b"/>
<text x="64.4" y="481.7" class="tb" lengthAdjust="spacingAndGlyphs" textLength="6.1">SIVH</text>
<path d="M77.9 482.6H86.4L87.9 485.2L86.4 487.8H77.9L76.4 485.2Z" class="o"/>
<text x="82.15" y="486.25" class="to" lengthAdjust="spacingAndGlyphs" textLength="7.5">KDM1Y</text>
<ellipse cx="10.4" cy="490.95" rx="7.5" ry="2.55" class="b"/>
<text x="10.4" y="492" class="tb" lengthAdjust="spacingAndGlyphs" textLength="10.5">SCD5P2S</text>
<path d="M34.7 486.7H41.5L43 489.5L41.5 492.3H34.7L33.2 489.5Z" class="o"/>
<text x="38.1" y="490.55" class="to" lengthAdjust="spacingAndGlyphs" textLength="5.8">BPUB</text>
<path d="M48.2 486.7H57.9L59.4 489.5L57.9 492.3H48.2L46.7 489.5Z" class="o"/>
<text x="53.05" y="490.55" class="to" lengthAdjust="spacingAndGlyphs" textLength="8.7">BTPHL</text>
<ellipse cx="67.5" cy="488.8" rx="4.9" ry="2.5" class="b"/>
<text x="67.5" y="489.85" class="tb" lengthAdjust="spacingAndGlyphs" textLength="5.3">LSUT</text>
<path d="M21.2 492.9H30.7L32.2 495.55L30.7 498.2H21.2L19.7 495.55Z" class="o"/>
<text x="25.95" y="496.6" class="to" lengthAdjust="spacingAndGlyphs" textLength="8.5">GKUAF</text>
<ellipse cx="41.7" cy="496.7" rx="6.8" ry="2.6" class="b"/>
<text x="41.7" y="497.75" class="tb" lengthAdjust="spacingAndGlyphs" textLength="9.1">ASIC49</text>
<ellipse cx="63.6" cy="496.7" rx="5.3" ry="2.6" class="b"/>
<text x="63.6" y="497.75" class="tb" lengthAdjust="spacingAndGlyphs" textLength="6.1">DNNU</text>
<path d="M73.1 491.6H83.8L85.3 494.3L83.8 497H73.1L71.6 494.3Z" class="o"/>
<text x="78.45" y="495.35" class="to" lengthAdjust="spacingAndGlyphs" textLength="9.7">OHX08I</text>
<rect x="113.8" y="454.3" width="14.5" height="5.9" rx="2.65" class="r"/>
<text x="121.05" y="458.3" class="tr" lengthAdjust="spacingAndGlyphs" textLength="10.5">CWROX9</text>
<path d="M165.5 454.3H176L177.5 457.25L176 460.2H165.5L164 457.25Z" class="o"/>
<text x="170.75" y="458.3" class="to" lengthAdjust="spacingAndGlyphs" textLength="9.5">PGL1K1</text>
<ellipse cx="100.4" cy="462.7" rx="6.8" ry="2.6" class="b"/>
<text x="100.4" y="463.75" class="tb" lengthAdjust="spacingAndGlyphs" textLength="9.1">ZSAG33</text>
<path d="M112.4 462.5H120.4L121.9 465.05L120.4 467.6H112.4L110.9 465.05Z" class="o"/>
<text x="116.4" y="466.1" class="to" lengthAdjust="spacingAndGlyphs" textLength="7">TYK0</text>
<ellipse cx="131.7" cy="463.1" rx="6.6" ry="2.8" class="b"/>
<text x="131.7" y="464.15" class="tb" lengthAdjust="spacingAndGlyphs" textLength="8.7">ZZV1OW</text>
<ellipse cx="145.3" cy="460.7" rx="5.5" ry="2.9" class="b"/>
<text x="145.3" y="461.75" class="tb" lengthAdjust="spacingAndGlyphs" textLength="6.5">ZZWT</text>
<path d="M141.8 467.7H152.4L153.9 470.5L152.4 473.3H141.8L140.3 470.5Z" class="o"/>
<text x="147.1" y="471.55" class="to" lengthAdjust="spacingAndGlyphs" textLength="9.6">MWFL4Z</text>
<ellipse cx="170.1" cy="467.45" rx="4.8" ry="2.75" class="b"/>
<text x="170.1" y="468.5" class="tb" lengthAdjust="spacingAndGlyphs" textLength="5.1">FYMA</text>
<ellipse cx="107.45" cy="471.2" rx="5.75" ry="2.5" class="b"/>
<text x="107.45" y="472.25" class="tb" lengthAdjust="spacingAndGlyphs" textLength="7">YPDER</text>
<path d="M113.1 474.3H121.6L123.1 476.75L121.6 479.2H113.1L111.6 476.75Z" class="o"/>
<text x="117.35" y="477.8" class="to" lengthAdjust="spacingAndGlyphs" textLength="7.5">RCL72</text>
<path d="M126.9 471.7H135.4L136.9 474.2L135.4 476.7H126.9L125.4 474.2Z" class="o"/>
<text x="131.15" y="475.25" class="to" lengthAdjust="spacingAndGlyphs" textLength="7.5">DSUNI</text>
<ellipse cx="144.45" cy="479.8" rx="6.35" ry="2.5" class="b"/>
<text x="144.45" y="480.85" class="tb" lengthAdjust="spacingAndGlyphs" textLength="8.2">XAG8Z</text>
<path d="M154.6 479.4H164.5L166 481.9L164.5 484.4H154.6L153.1 481.9Z" class="o"/>
<text x="159.55" y="482.95" class="to" lengthAdjust="spacingAndGlyphs" textLength="8.9">ZNF6A</text>
<ellipse cx="173.35" cy="474.85" rx="5.05" ry="2.35" class="b"/>
<text x="173.35" y="475.9" class="tb" lengthAdjust="spacingAndGlyphs" textLength="5.6">DGZN</text>
<path d="M97.2 480.3H106.6L108.1 482.85L106.6 485.4H97.2L95.7 482.85Z" class="o"/>
<text x="101.9" y="483.9" class="to" lengthAdjust="spacingAndGlyphs" textLength="8.4">AACBU</text>
<path d="M95.5 487.3H103.6L105.1 489.8L103.6 492.3H95.5L94 489.8Z" class="o"/>
<text x="99.55" y="490.85" class="to" lengthAdjust="spacingAndGlyphs" textLength="7.1">TCLT</text>
<path d="M112.4 485H119.5L121 487.55L119.5 490.1H112.4L110.9 487.55Z" class="o"/>
<text x="115.95" y="488.6" class="to" lengthAdjust="spacingAndGlyphs" textLength="6.1">PRW0</text>
<ellipse cx="130.45" cy="484.1" rx="6.15" ry="2.6" class="b"/>
<text x="130.45" y="485.15" class="tb" lengthAdjust="spacingAndGlyphs" textLength="7.8">HGMDE</text>
<ellipse cx="130.85" cy="490.95" rx="5.75" ry="2.55" class="b"/>
<text x="130.85" y="492" class="tb" lengthAdjust="spacingAndGlyphs" textLength="7">GPPW7</text>
<path d="M140.4 487.7H147.2L148.7 490.35L147.2 493H140.4L138.9 490.35Z" class="o"/>
<text x="143.8" y="491.4" class="to" lengthAdjust="spacingAndGlyphs" textLength="5.8">CUZ7</text>
<path d="M112.4 494.1H119.5L121 496.7L119.5 499.3H112.4L110.9 496.7Z" class="o"/>
<text x="115.95" y="497.75" class="to" lengthAdjust="spacingAndGlyphs" textLength="6.1">FNW3</text>
<ellipse cx="132" cy="497.9" rx="5.5" ry="2.6" class="b"/>
<text x="132" y="498.95" class="tb" lengthAdjust="spacingAndGlyphs" textLength="6.5">YWR7</text>
<ellipse cx="97.7" cy="497.9" rx="6.4" ry="2.6" class="k"/>
<text x="97.7" y="498.95" class="tk" lengthAdjust="spacingAndGlyphs" textLength="8.3">VED9Y</text>
<path d="M159.5 486.3H165.9L167.4 489.05L165.9 491.8H159.5L158 489.05Z" class="o"/>
<text x="162.7" y="490.1" class="to" lengthAdjust="spacingAndGlyphs" textLength="5.4">HHA</text>
<ellipse cx="158.5" cy="495.55" rx="6.1" ry="2.65" class="b"/>
<text x="158.5" y="496.6" class="tb" lengthAdjust="spacingAndGlyphs" textLength="7.7">NUZ0G</text>
<path d="M201.2 454.9H208.9L210.4 457.55L208.9 460.2H201.2L199.7 457.55Z" class="o"/>
<text x="205.05" y="458.6" class="to" lengthAdjust="spacingAndGlyphs" textLength="6.7">ABPH</text>
<path d="M179.6 459.5H187.2L188.7 462.1L187.2 464.7H179.6L178.1 462.1Z" class="o"/>
<text x="183.4" y="463.15" class="to" lengthAdjust="spacingAndGlyphs" textLength="6.6">HXB9</text>
<ellipse cx="202.65" cy="466.6" rx="5.05" ry="2.7" class="b"/>
<text x="202.65" y="467.65" class="tb" lengthAdjust="spacingAndGlyphs" textLength="5.6">OIBA</text>
<path d="M212.5 464.2H221.8L223.3 467L221.8 469.8H212.5L211 467Z" class="o"/>
<text x="217.15" y="468.05" class="to" lengthAdjust="spacingAndGlyphs" textLength="8.3">RDYE2</text>
<ellipse cx="233.55" cy="463.85" rx="7.05" ry="2.55" class="b"/>
<text x="233.55" y="464.9" class="tb" lengthAdjust="spacingAndGlyphs" textLength="9.6">VSLN0A</text>
<path d="M186.5 467.7H193.8L195.3 470.5L193.8 473.3H186.5L185 470.5Z" class="o"/>
<text x="190.15" y="471.55" class="to" lengthAdjust="spacingAndGlyphs" textLength="6.3">TWCV</text>
<path d="M182.2 475.1H189.8L191.3 477.85L189.8 480.6H182.2L180.7 477.85Z" class="o"/>
<text x="186" y="478.9" class="to" lengthAdjust="spacingAndGlyphs" textLength="6.6">VVTB</text>
<ellipse cx="200.1" cy="476.05" rx="5.9" ry="2.75" class="b"/>
<text x="200.1" y="477.1" class="tb" lengthAdjust="spacingAndGlyphs" textLength="7.3">XTVN8</text>
<path d="M211.2 472.5H220.1L221.6 475.25L220.1 478H211.2L209.7 475.25Z" class="o"/>
<text x="215.65" y="476.3" class="to" lengthAdjust="spacingAndGlyphs" textLength="7.9">ZGAS7</text>
<path d="M228.9 475.1H236.5L238 477.85L236.5 480.6H228.9L227.4 477.85Z" class="o"/>
<text x="232.7" y="478.9" class="to" lengthAdjust="spacingAndGlyphs" textLength="6.6">GDY3</text>
<ellipse cx="243.1" cy="472.45" rx="5.3" ry="2.55" class="b"/>
<text x="243.1" y="473.5" class="tb" lengthAdjust="spacingAndGlyphs" textLength="6.1">XOD1</text>
<rect x="170.3" y="482" width="79.3" height="17.6" class="box"/>
<path d="M174 483H188L190.4 485.4V492.2L188 494.6H174L171.6 492.2V485.4Z" class="r"/>
<text x="181" y="486.6" class="tr" style="font-weight:normal;font-size:2.7px" lengthAdjust="spacingAndGlyphs" textLength="12.8">Ligands</text>
<text x="181" y="489.6" class="tr" style="font-weight:normal;font-size:2.7px" lengthAdjust="spacingAndGlyphs" textLength="12.8">with known</text>
<text x="181" y="492.6" class="tr" style="font-weight:normal;font-size:2.7px" lengthAdjust="spacingAndGlyphs" textLength="12.8">(LWCS)</text>
<path d="M194.7 483H205.2L207.6 485.4V492.2L205.2 494.6H194.7L192.3 492.2V485.4Z" class="o"/>
<text x="199.95" y="486.6" class="td" style="font-weight:normal;font-size:2.7px" lengthAdjust="spacingAndGlyphs" textLength="9.3">Ligands</text>
<text x="199.95" y="489.6" class="td" style="font-weight:normal;font-size:2.7px" lengthAdjust="spacingAndGlyphs" textLength="9.3">with known</text>
<text x="199.95" y="492.6" class="td" style="font-weight:normal;font-size:2.7px" lengthAdjust="spacingAndGlyphs" textLength="9.3">(LWCS)</text>
<ellipse cx="219.6" cy="489" rx="9.4" ry="5.3" class="k"/>
<ellipse cx="238.7" cy="489" rx="8.6" ry="5.3" class="b"/>
<text x="219.6" y="487" class="tk" style="font-weight:normal;font-size:2.8px" lengthAdjust="spacingAndGlyphs" textLength="10">Genes</text>
<text x="238.7" y="487" class="tb" style="font-weight:normal;font-size:2.8px" lengthAdjust="spacingAndGlyphs" textLength="9">Genes</text>
<text x="219.6" y="489.6" class="tk" style="font-weight:normal;font-size:2.8px" lengthAdjust="spacingAndGlyphs" textLength="13">with known</text>
<text x="238.7" y="489.6" class="tb" style="font-weight:normal;font-size:2.8px" lengthAdjust="spacingAndGlyphs" textLength="12">with known</text>
<text x="219.6" y="492.2" class="tk" style="font-weight:normal;font-size:2.8px" lengthAdjust="spacingAndGlyphs" textLength="10">ligand</text>
<text x="238.7" y="492.2" class="tb" style="font-weight:normal;font-size:2.8px" lengthAdjust="spacingAndGlyphs" textLength="9">ligand</text>
<text x="221.3" y="498.2" class="td" lengthAdjust="spacingAndGlyphs" textLength="51">endogenous protein-derived ligand</text>
<text x="271" y="342" class="lab">F</text>
<line x1="310.4" y1="346.2" x2="301.95" y2="355.25" class="e"/>
<line x1="301.95" y1="355.25" x2="318.25" y2="357.5" class="e"/>
<line x1="301.95" y1="355.25" x2="287.45" y2="362.2" class="e"/>
<line x1="318.25" y1="357.5" x2="304.65" y2="365.9" class="e"/>
<line x1="336.6" y1="353.5" x2="353.65" y2="346.7" class="e"/>
<line x1="336.6" y1="353.5" x2="351.7" y2="358.25" class="e"/>
<line x1="287.45" y1="362.2" x2="304.65" y2="365.9" class="e"/>
<line x1="304.65" y1="365.9" x2="293.9" y2="373.6" class="e"/>
<line x1="304.65" y1="365.9" x2="319.25" y2="372.05" class="e"/>
<line x1="293.9" y1="373.6" x2="309.75" y2="379.5" class="e"/>
<line x1="319.25" y1="372.05" x2="309.75" y2="379.5" class="e"/>
<line x1="309.75" y1="379.5" x2="304.6" y2="389.25" class="e"/>
<line x1="354.95" y1="373.85" x2="351.88" y2="383.1" class="e"/>
<line x1="354.95" y1="373.85" x2="367.75" y2="382.6" class="e"/>
<line x1="351.88" y1="383.1" x2="367.75" y2="382.6" class="e"/>
<line x1="351.88" y1="383.1" x2="362.25" y2="391.75" class="e"/>
<line x1="351.88" y1="383.1" x2="346.65" y2="393.65" class="e"/>
<line x1="378.1" y1="349.9" x2="387.1" y2="358.25" class="e"/>
<line x1="397.05" y1="349.9" x2="387.1" y2="358.25" class="e"/>
<line x1="387.1" y1="358.25" x2="376.15" y2="362" class="e"/>
<line x1="421.3" y1="356.6" x2="408.6" y2="364.4" class="e"/>
<line x1="408.6" y1="364.4" x2="423.3" y2="369.6" class="e"/>
<line x1="362.25" y1="391.75" x2="346.65" y2="393.65" class="e"/>
<line x1="402.95" y1="380" x2="417.5" y2="386.05" class="e"/>
<line x1="402.95" y1="380" x2="395.2" y2="389.65" class="e"/>
<line x1="417.5" y1="386.05" x2="411" y2="393.75" class="e"/>
<line x1="395.2" y1="389.65" x2="411" y2="393.75" class="e"/>
<line x1="395.2" y1="389.65" x2="387.35" y2="399.5" class="e"/>
<line x1="445.75" y1="349.45" x2="443.6" y2="359.65" class="e"/>
<line x1="471.1" y1="350.6" x2="464.65" y2="361" class="e"/>
<line x1="464.65" y1="361" x2="478.2" y2="361.55" class="e"/>
<line x1="457.65" y1="373.9" x2="472.4" y2="377.55" class="e"/>
<line x1="457.65" y1="373.9" x2="452.05" y2="383" class="e"/>
<line x1="472.4" y1="377.55" x2="464.65" y2="386.25" class="e"/>
<line x1="452.05" y1="383" x2="464.65" y2="386.25" class="e"/>
<line x1="452.05" y1="383" x2="439.75" y2="391" class="e"/>
<line x1="464.65" y1="386.25" x2="477.6" y2="388.4" class="e"/>
<line x1="464.65" y1="386.25" x2="455.25" y2="394.15" class="e"/>
<line x1="464.65" y1="386.25" x2="475.85" y2="396.6" class="e"/>
<line x1="477.6" y1="388.4" x2="475.85" y2="396.6" class="e"/>
<line x1="439.75" y1="391" x2="455.25" y2="394.15" class="e"/>
<line x1="451.4" y1="407.15" x2="435" y2="410.25" class="e"/>
<line x1="451.4" y1="407.15" x2="449.75" y2="415.7" class="e"/>
<line x1="435" y1="410.25" x2="449.75" y2="415.7" class="e"/>
<line x1="435" y1="410.25" x2="419.95" y2="415.65" class="e"/>
<line x1="449.75" y1="415.7" x2="461.1" y2="419.05" class="e"/>
<line x1="433.5" y1="420.55" x2="438.7" y2="428.85" class="e"/>
<line x1="433.5" y1="420.55" x2="419.95" y2="415.65" class="e"/>
<line x1="438.7" y1="428.85" x2="426.5" y2="433.45" class="e"/>
<line x1="485.35" y1="411.85" x2="482.5" y2="418.75" class="e"/>
<line x1="485.35" y1="411.85" x2="506.95" y2="412.8" class="e"/>
<line x1="508.75" y1="403.05" x2="506.95" y2="412.8" class="e"/>
<line x1="508.7" y1="427.3" x2="496.6" y2="434.8" class="e"/>
<line x1="411" y1="393.75" x2="401.9" y2="403.65" class="e"/>
<line x1="387.35" y1="399.5" x2="401.9" y2="403.65" class="e"/>
<line x1="350.75" y1="407.9" x2="365.45" y2="413.85" class="e"/>
<line x1="350.75" y1="407.9" x2="351" y2="417.45" class="e"/>
<line x1="365.45" y1="413.85" x2="351" y2="417.45" class="e"/>
<line x1="419.95" y1="415.65" x2="418.9" y2="424.2" class="e"/>
<line x1="375.65" y1="431.25" x2="357.05" y2="437.2" class="e"/>
<line x1="375.65" y1="431.25" x2="387" y2="438.65" class="e"/>
<line x1="396.4" y1="430.85" x2="387" y2="438.65" class="e"/>
<line x1="426.5" y1="433.45" x2="418.9" y2="424.2" class="e"/>
<line x1="426.5" y1="433.45" x2="438.15" y2="440.9" class="e"/>
<line x1="357.05" y1="437.2" x2="373.1" y2="442.3" class="e"/>
<line x1="387" y1="438.65" x2="373.1" y2="442.3" class="e"/>
<line x1="387" y1="438.65" x2="398.45" y2="445.9" class="e"/>
<line x1="304.6" y1="389.25" x2="317.95" y2="393.65" class="e"/>
<line x1="292" y1="420" x2="307.55" y2="421.3" class="e"/>
<line x1="292" y1="420" x2="299.45" y2="429.3" class="e"/>
<line x1="307.55" y1="421.3" x2="323.4" y2="420.4" class="e"/>
<line x1="307.55" y1="421.3" x2="299.45" y2="429.3" class="e"/>
<line x1="307.55" y1="421.3" x2="315.4" y2="431.45" class="e"/>
<line x1="299.45" y1="429.3" x2="315.4" y2="431.45" class="e"/>
<line x1="290.05" y1="453.15" x2="304.95" y2="452.3" class="e"/>
<line x1="290.05" y1="453.15" x2="297.2" y2="462.7" class="e"/>
<line x1="304.95" y1="452.3" x2="318.6" y2="451.7" class="e"/>
<line x1="304.95" y1="452.3" x2="309.15" y2="460.3" class="e"/>
<line x1="318.6" y1="451.7" x2="309.15" y2="460.3" class="e"/>
<line x1="318.6" y1="451.7" x2="327.05" y2="461.6" class="e"/>
<line x1="280.5" y1="463.25" x2="297.2" y2="462.7" class="e"/>
<line x1="280.5" y1="463.25" x2="293.3" y2="472.2" class="e"/>
<line x1="297.2" y1="462.7" x2="309.15" y2="460.3" class="e"/>
<line x1="297.2" y1="462.7" x2="293.3" y2="472.2" class="e"/>
<line x1="309.15" y1="460.3" x2="327.05" y2="461.6" class="e"/>
<line x1="293.3" y1="472.2" x2="279" y2="479.15" class="e"/>
<line x1="310.15" y1="473.7" x2="326.6" y2="475.65" class="e"/>
<line x1="310.15" y1="473.7" x2="295.7" y2="480.85" class="e"/>
<line x1="279" y1="479.15" x2="295.7" y2="480.85" class="e"/>
<line x1="301.35" y1="489.5" x2="315.8" y2="490.2" class="e"/>
<line x1="301.35" y1="489.5" x2="288.55" y2="492.9" class="e"/>
<line x1="301.35" y1="489.5" x2="302.4" y2="498.05" class="e"/>
<line x1="315.8" y1="490.2" x2="302.4" y2="498.05" class="e"/>
<line x1="288.55" y1="492.9" x2="302.4" y2="498.05" class="e"/>
<line x1="373.1" y1="442.3" x2="360.05" y2="449.7" class="e"/>
<line x1="373.1" y1="442.3" x2="378.65" y2="450.05" class="e"/>
<line x1="360.05" y1="449.7" x2="378.65" y2="450.05" class="e"/>
<line x1="378.65" y1="450.05" x2="398.45" y2="445.9" class="e"/>
<line x1="378.65" y1="450.05" x2="397.7" y2="456.25" class="e"/>
<line x1="398.45" y1="445.9" x2="397.7" y2="456.25" class="e"/>
<line x1="425.5" y1="447.65" x2="438.15" y2="440.9" class="e"/>
<line x1="425.5" y1="447.65" x2="439.1" y2="452.9" class="e"/>
<line x1="353.85" y1="469.25" x2="371.35" y2="477.35" class="e"/>
<line x1="377.1" y1="466.9" x2="371.35" y2="477.35" class="e"/>
<line x1="377.1" y1="466.9" x2="390.3" y2="476.5" class="e"/>
<line x1="371.35" y1="477.35" x2="351.7" y2="481.55" class="e"/>
<line x1="371.35" y1="477.35" x2="390.3" y2="476.5" class="e"/>
<line x1="351.7" y1="481.55" x2="367.65" y2="486.3" class="e"/>
<line x1="390.3" y1="476.5" x2="405.8" y2="476.85" class="e"/>
<line x1="390.3" y1="476.5" x2="396.7" y2="484.6" class="e"/>
<line x1="405.8" y1="476.85" x2="396.7" y2="484.6" class="e"/>
<line x1="367.65" y1="486.3" x2="361.45" y2="495.5" class="e"/>
<line x1="367.65" y1="486.3" x2="377.4" y2="494.75" class="e"/>
<line x1="425.9" y1="478.55" x2="439" y2="475.45" class="e"/>
<line x1="425.9" y1="478.55" x2="438.2" y2="485.5" class="e"/>
<line x1="361.45" y1="495.5" x2="377.4" y2="494.75" class="e"/>
<line x1="377.4" y1="494.75" x2="393.05" y2="496.95" class="e"/>
<line x1="430.5" y1="492.5" x2="438.2" y2="485.5" class="e"/>
<line x1="450.75" y1="437.7" x2="438.15" y2="440.9" class="e"/>
<line x1="450.75" y1="437.7" x2="465.45" y2="441.2" class="e"/>
<line x1="465.45" y1="441.2" x2="450.8" y2="447" class="e"/>
<line x1="450.8" y1="447" x2="439.1" y2="452.9" class="e"/>
<line x1="439.1" y1="452.9" x2="445.65" y2="459.85" class="e"/>
<line x1="488.35" y1="450.3" x2="473.7" y2="457.25" class="e"/>
<line x1="488.35" y1="450.3" x2="503.5" y2="453.5" class="e"/>
<line x1="473.7" y1="457.25" x2="491.7" y2="462.9" class="e"/>
<line x1="503.5" y1="453.5" x2="491.7" y2="462.9" class="e"/>
<line x1="491.7" y1="462.9" x2="508.1" y2="463.95" class="e"/>
<line x1="491.7" y1="462.9" x2="508.1" y2="472.55" class="e"/>
<line x1="508.1" y1="463.95" x2="508.1" y2="472.55" class="e"/>
<line x1="462.6" y1="472.55" x2="461.15" y2="482.3" class="e"/>
<line x1="439" y1="475.45" x2="438.2" y2="485.5" class="e"/>
<line x1="461.15" y1="482.3" x2="476.15" y2="487.65" class="e"/>
<line x1="461.15" y1="482.3" x2="460.95" y2="492.5" class="e"/>
<line x1="476.15" y1="487.65" x2="460.95" y2="492.5" class="e"/>
<line x1="497.3" y1="487.65" x2="511.75" y2="492" class="e"/>
<line x1="319.2" y1="372" x2="355" y2="373.8" class="e"/>
<line x1="304.6" y1="389.2" x2="307.6" y2="421.3" class="er"/>
<line x1="299.4" y1="429.3" x2="290" y2="453.2" class="er"/>
<line x1="378.5" y1="450" x2="354" y2="469.7" class="e"/>
<line x1="326.6" y1="475.7" x2="351.7" y2="481.5" class="e"/>
<line x1="401.8" y1="403.6" x2="419.8" y2="415.5" class="e"/>
<line x1="396" y1="430.7" x2="419" y2="424.2" class="e"/>
<line x1="280.5" y1="463.2" x2="279" y2="479.1" class="er"/>
<line x1="279" y1="479.1" x2="288.5" y2="492.9" class="er"/>
<line x1="290" y1="453.2" x2="280.5" y2="463.2" class="er"/>
<line x1="297.2" y1="462.7" x2="310.2" y2="473.7" class="er"/>
<line x1="310.2" y1="473.7" x2="301.4" y2="489.5" class="er"/>
<line x1="336.6" y1="353.5" x2="353.6" y2="346.7" class="er"/>
<line x1="318.2" y1="357.5" x2="336.6" y2="353.5" class="e"/>
<ellipse cx="310.4" cy="346.2" rx="6" ry="2.7" class="b"/>
<text x="310.4" y="347.25" class="tb" lengthAdjust="spacingAndGlyphs" textLength="7.5">DYRFW</text>
<ellipse cx="301.95" cy="355.25" rx="7.95" ry="3.15" class="b"/>
<text x="301.95" y="356.3" class="tb" lengthAdjust="spacingAndGlyphs" textLength="11.4">WSA0H9M</text>
<path d="M314.1 354.3H322.4L324.6 357.5L322.4 360.7H314.1L311.9 357.5Z" class="r"/>
<text x="318.25" y="358.55" class="tr" lengthAdjust="spacingAndGlyphs" textLength="8.7">ENL52</text>
<ellipse cx="336.6" cy="353.5" rx="7.1" ry="3.2" class="b"/>
<text x="336.6" y="354.55" class="tb" lengthAdjust="spacingAndGlyphs" textLength="9.7">YHAZG4</text>
<path d="M281.9 359H293L295.2 362.2L293 365.4H281.9L279.7 362.2Z" class="r"/>
<text x="287.45" y="363.25" class="tr" lengthAdjust="spacingAndGlyphs" textLength="11.5">PEGLCXM</text>
<path d="M299.5 363H309.8L311.3 365.9L309.8 368.8H299.5L298 365.9Z" class="o"/>
<text x="304.65" y="366.95" class="to" lengthAdjust="spacingAndGlyphs" textLength="9.3">RHCS73</text>
<ellipse cx="293.9" cy="373.6" rx="7.3" ry="3" class="b"/>
<text x="293.9" y="374.65" class="tb" lengthAdjust="spacingAndGlyphs" textLength="10.1">VGG3PL</text>
<ellipse cx="319.25" cy="372.05" rx="6.15" ry="3.15" class="b"/>
<text x="319.25" y="373.1" class="tb" lengthAdjust="spacingAndGlyphs" textLength="7.8">BOFX9</text>
<path d="M304.2 376.3H315.3L316.8 379.5L315.3 382.7H304.2L302.7 379.5Z" class="o"/>
<text x="309.75" y="380.55" class="to" lengthAdjust="spacingAndGlyphs" textLength="10.1">MFH0I7</text>
<path d="M347.7 343.8H359.6L361.1 346.7L359.6 349.6H347.7L346.2 346.7Z" class="o"/>
<text x="353.65" y="347.75" class="to" lengthAdjust="spacingAndGlyphs" textLength="10.9">TTYIDOE</text>
<path d="M347.7 355.3H355.7L357.2 358.25L355.7 361.2H347.7L346.2 358.25Z" class="o"/>
<text x="351.7" y="359.3" class="to" lengthAdjust="spacingAndGlyphs" textLength="7">SEUB</text>
<path d="M348.4 370.4H361.5L363.7 373.85L361.5 377.3H348.4L346.2 373.85Z" class="r"/>
<text x="354.95" y="374.9" class="tr" lengthAdjust="spacingAndGlyphs" textLength="13.5">FHOU6U24</text>
<ellipse cx="351.88" cy="383.1" rx="7.82" ry="2.8" class="b"/>
<text x="351.88" y="384.15" class="tb" lengthAdjust="spacingAndGlyphs" textLength="11.15">YODD4F6</text>
<path d="M375.3 346.7H380.9L382.4 349.9L380.9 353.1H375.3L373.8 349.9Z" class="o"/>
<text x="378.1" y="350.95" class="to" lengthAdjust="spacingAndGlyphs" textLength="4.6">CSN</text>
<path d="M392.1 346.7H402L403.5 349.9L402 353.1H392.1L390.6 349.9Z" class="o"/>
<text x="397.05" y="350.95" class="to" lengthAdjust="spacingAndGlyphs" textLength="8.9">KXW9H</text>
<ellipse cx="387.1" cy="358.25" rx="4.6" ry="2.95" class="b"/>
<text x="387.1" y="359.3" class="tb" lengthAdjust="spacingAndGlyphs" textLength="4.7">RXS</text>
<path d="M372.8 358.8H379.5L381 362L379.5 365.2H372.8L371.3 362Z" class="o"/>
<text x="376.15" y="363.05" class="to" lengthAdjust="spacingAndGlyphs" textLength="5.7">UXM8</text>
<path d="M416 353.7H426.6L428.1 356.6L426.6 359.5H416L414.5 356.6Z" class="o"/>
<text x="421.3" y="357.65" class="to" lengthAdjust="spacingAndGlyphs" textLength="9.6">GOCIF4</text>
<ellipse cx="408.6" cy="364.4" rx="5.3" ry="3" class="b"/>
<text x="408.6" y="365.45" class="tb" lengthAdjust="spacingAndGlyphs" textLength="6.1">WHOS</text>
<path d="M417.8 366.6H428.8L430.3 369.6L428.8 372.6H417.8L416.3 369.6Z" class="o"/>
<text x="423.3" y="370.65" class="to" lengthAdjust="spacingAndGlyphs" textLength="10">IXC07L</text>
<ellipse cx="367.75" cy="382.6" rx="7.25" ry="2.8" class="b"/>
<text x="367.75" y="383.65" class="tb" lengthAdjust="spacingAndGlyphs" textLength="10">APRY2L</text>
<path d="M357.3 388.8H367.2L368.7 391.75L367.2 394.7H357.3L355.8 391.75Z" class="o"/>
<text x="362.25" y="392.8" class="to" lengthAdjust="spacingAndGlyphs" textLength="8.9">HOC3N</text>
<path d="M397.7 376.7H408.2L410.4 380L408.2 383.3H397.7L395.5 380Z" class="r"/>
<text x="402.95" y="381.05" class="tr" lengthAdjust="spacingAndGlyphs" textLength="10.9">EZHYXMH</text>
<ellipse cx="417.5" cy="386.05" rx="5.9" ry="2.95" class="b"/>
<text x="417.5" y="387.1" class="tb" lengthAdjust="spacingAndGlyphs" textLength="7.3">WGISN</text>
<ellipse cx="395.2" cy="389.65" rx="7.7" ry="3.05" class="b"/>
<text x="395.2" y="390.7" class="tb" lengthAdjust="spacingAndGlyphs" textLength="10.9">VOWULMO</text>
<ellipse cx="445.75" cy="349.45" rx="8.15" ry="2.75" class="b"/>
<text x="445.75" y="350.5" class="tb" lengthAdjust="spacingAndGlyphs" textLength="11.8">LFR2D43</text>
<path d="M440.3 355.9H446.9L449.1 359.65L446.9 363.4H440.3L438.1 359.65Z" class="r"/>
<text x="443.6" y="360.7" class="tr" lengthAdjust="spacingAndGlyphs" textLength="7">WHYG</text>
<path d="M466.4 347.6H475.8L477.3 350.6L475.8 353.6H466.4L464.9 350.6Z" class="o"/>
<text x="471.1" y="351.65" class="to" lengthAdjust="spacingAndGlyphs" textLength="8.4">MKWC9</text>
<path d="M462.1 358H467.2L468.7 361L467.2 364H462.1L460.6 361Z" class="o"/>
<text x="464.65" y="362.05" class="to" lengthAdjust="spacingAndGlyphs" textLength="4.1">BGA</text>
<ellipse cx="478.2" cy="361.55" rx="7.2" ry="2.75" class="b"/>
<text x="478.2" y="362.6" class="tb" lengthAdjust="spacingAndGlyphs" textLength="9.9">VTO4A1</text>
<ellipse cx="457.65" cy="373.9" rx="5.75" ry="2.9" class="b"/>
<text x="457.65" y="374.95" class="tb" lengthAdjust="spacingAndGlyphs" textLength="7">YHAFY</text>
<path d="M467.3 374.4H477.5L479 377.55L477.5 380.7H467.3L465.8 377.55Z" class="o"/>
<text x="472.4" y="378.6" class="to" lengthAdjust="spacingAndGlyphs" textLength="9.2">HAAC2C</text>
<ellipse cx="452.05" cy="383" rx="5.35" ry="2.9" class="b"/>
<text x="452.05" y="384.05" class="tb" lengthAdjust="spacingAndGlyphs" textLength="6.2">SMLZ</text>
<path d="M462.1 383.1H467.2L468.7 386.25L467.2 389.4H462.1L460.6 386.25Z" class="o"/>
<text x="464.65" y="387.3" class="to" lengthAdjust="spacingAndGlyphs" textLength="4.1">RIL</text>
<ellipse cx="477.6" cy="388.4" rx="4.9" ry="2.9" class="b"/>
<text x="477.6" y="389.45" class="tb" lengthAdjust="spacingAndGlyphs" textLength="5.3">BCIC</text>
<path d="M433.8 387.8H445.7L447.2 391L445.7 394.2H433.8L432.3 391Z" class="o"/>
<text x="439.75" y="392.05" class="to" lengthAdjust="spacingAndGlyphs" textLength="10.9">CVB4ZSG</text>
<path d="M451.3 390.8H459.2L460.7 394.15L459.2 397.5H451.3L449.8 394.15Z" class="o"/>
<text x="455.25" y="395.2" class="to" lengthAdjust="spacingAndGlyphs" textLength="6.9">VTB6</text>
<path d="M472.3 393.7H479.4L481.6 396.6L479.4 399.5H472.3L470.1 396.6Z" class="r"/>
<text x="475.85" y="397.65" class="tr" lengthAdjust="spacingAndGlyphs" textLength="7.5">NKYK7</text>
<path d="M447.2 404H455.6L457.1 407.15L455.6 410.3H447.2L445.7 407.15Z" class="o"/>
<text x="451.4" y="408.2" class="to" lengthAdjust="spacingAndGlyphs" textLength="7.4">DCUYP</text>
<path d="M430 407H440L442.2 410.25L440 413.5H430L427.8 410.25Z" class="r"/>
<text x="435" y="411.3" class="tr" lengthAdjust="spacingAndGlyphs" textLength="10.4">HVC7EU</text>
<ellipse cx="449.75" cy="415.7" rx="4.95" ry="3.2" class="b"/>
<text x="449.75" y="416.75" class="tb" lengthAdjust="spacingAndGlyphs" textLength="5.4">GDWI</text>
<path d="M457.5 415.6H464.7L466.9 419.05L464.7 422.5H457.5L455.3 419.05Z" class="r"/>
<text x="461.1" y="420.1" class="tr" lengthAdjust="spacingAndGlyphs" textLength="7.6">SOSZH</text>
<path d="M430.8 417.6H436.2L437.7 420.55L436.2 423.5H430.8L429.3 420.55Z" class="o"/>
<text x="433.5" y="421.6" class="to" lengthAdjust="spacingAndGlyphs" textLength="4.4">ZAH</text>
<ellipse cx="438.7" cy="428.85" rx="4.8" ry="3.05" class="b"/>
<text x="438.7" y="429.9" class="tb" lengthAdjust="spacingAndGlyphs" textLength="5.1">SKG7</text>
<ellipse cx="485.35" cy="411.85" rx="8.05" ry="3.15" class="b"/>
<text x="485.35" y="412.9" class="tb" lengthAdjust="spacingAndGlyphs" textLength="11.6">VGFK4BL</text>
<path d="M477.1 415.6H487.9L489.4 418.75L487.9 421.9H477.1L475.6 418.75Z" class="o"/>
<text x="482.5" y="419.8" class="to" lengthAdjust="spacingAndGlyphs" textLength="9.8">YYX4S0</text>
<path d="M504.5 400.1H513L514.5 403.05L513 406H504.5L503 403.05Z" class="o"/>
<text x="508.75" y="404.1" class="to" lengthAdjust="spacingAndGlyphs" textLength="7.5">VLCLE</text>
<ellipse cx="506.95" cy="412.8" rx="8.35" ry="2.7" class="b"/>
<text x="506.95" y="413.85" class="tb" lengthAdjust="spacingAndGlyphs" textLength="12.2">FWHGS57C</text>
<path d="M501.7 423.9H515.7L517.9 427.3L515.7 430.7H501.7L499.5 427.3Z" class="r"/>
<text x="508.7" y="428.35" class="tr" lengthAdjust="spacingAndGlyphs" textLength="14.4">DXC6I8L65</text>
<path d="M341.5 390.3H351.8L354 393.65L351.8 397H341.5L339.3 393.65Z" class="r"/>
<text x="346.65" y="394.7" class="tr" lengthAdjust="spacingAndGlyphs" textLength="10.7">TPZ9PI</text>
<path d="M406.3 390.5H415.7L417.9 393.75L415.7 397H406.3L404.1 393.75Z" class="r"/>
<text x="411" y="394.8" class="tr" lengthAdjust="spacingAndGlyphs" textLength="9.8">EBTP0C</text>
<path d="M382.1 396.1H392.6L394.1 399.5L392.6 402.9H382.1L380.6 399.5Z" class="o"/>
<text x="387.35" y="400.55" class="to" lengthAdjust="spacingAndGlyphs" textLength="9.5">XLOED0</text>
<ellipse cx="401.9" cy="403.65" rx="5.6" ry="2.95" class="b"/>
<text x="401.9" y="404.7" class="tb" lengthAdjust="spacingAndGlyphs" textLength="6.7">BKXD</text>
<ellipse cx="350.75" cy="407.9" rx="4.55" ry="2.9" class="b"/>
<text x="350.75" y="408.95" class="tb" lengthAdjust="spacingAndGlyphs" textLength="4.6">YCL</text>
<path d="M360.8 410.7H370.1L372.3 413.85L370.1 417H360.8L358.6 413.85Z" class="r"/>
<text x="365.45" y="414.9" class="tr" lengthAdjust="spacingAndGlyphs" textLength="9.7">FTV2N6</text>
<path d="M347.7 414.4H354.3L355.8 417.45L354.3 420.5H347.7L346.2 417.45Z" class="o"/>
<text x="351" y="418.5" class="to" lengthAdjust="spacingAndGlyphs" textLength="5.6">YLMH</text>
<path d="M415.4 412.3H424.5L426.7 415.65L424.5 419H415.4L413.2 415.65Z" class="r"/>
<text x="419.95" y="416.7" class="tr" lengthAdjust="spacingAndGlyphs" textLength="9.5">PTDZ6F</text>
<path d="M370.3 427.8H381L383.2 431.25L381 434.7H370.3L368.1 431.25Z" class="r"/>
<text x="375.65" y="432.3" class="tr" lengthAdjust="spacingAndGlyphs" textLength="11.1">VKPG27S</text>
<path d="M392.8 427.5H400L401.5 430.85L400 434.2H392.8L391.3 430.85Z" class="o"/>
<text x="396.4" y="431.9" class="to" lengthAdjust="spacingAndGlyphs" textLength="6.2">LHAR</text>
<ellipse cx="426.5" cy="433.45" rx="6" ry="3.05" class="b"/>
<text x="426.5" y="434.5" class="tb" lengthAdjust="spacingAndGlyphs" textLength="7.5">YEVF5</text>
<ellipse cx="418.9" cy="424.2" rx="5.1" ry="3" class="b"/>
<text x="418.9" y="425.25" class="tb" lengthAdjust="spacingAndGlyphs" textLength="5.7">XGXA</text>
<path d="M351.9 434.1H362.2L363.7 437.2L362.2 440.3H351.9L350.4 437.2Z" class="o"/>
<text x="357.05" y="438.25" class="to" lengthAdjust="spacingAndGlyphs" textLength="9.3">HUMI05</text>
<ellipse cx="387" cy="438.65" rx="5.1" ry="2.95" class="b"/>
<text x="387" y="439.7" class="tb" lengthAdjust="spacingAndGlyphs" textLength="5.7">HLI4</text>
<ellipse cx="304.6" cy="389.25" rx="5.3" ry="2.95" class="b"/>
<text x="304.6" y="390.3" class="tb" lengthAdjust="spacingAndGlyphs" textLength="6.1">MVMK</text>
<path d="M312.8 390.3H323.1L324.6 393.65L323.1 397H312.8L311.3 393.65Z" class="o"/>
<text x="317.95" y="394.7" class="to" lengthAdjust="spacingAndGlyphs" textLength="9.3">DHA693</text>
<ellipse cx="298.45" cy="408.8" rx="7.05" ry="2.9" class="b"/>
<text x="298.45" y="409.85" class="tb" lengthAdjust="spacingAndGlyphs" textLength="9.6">WBZE4L</text>
<path d="M287.8 417H296.2L297.7 420L296.2 423H287.8L286.3 420Z" class="o"/>
<text x="292" y="421.05" class="to" lengthAdjust="spacingAndGlyphs" textLength="7.4">NOKT0</text>
<ellipse cx="307.55" cy="421.3" rx="5.75" ry="3" class="b"/>
<text x="307.55" y="422.35" class="tb" lengthAdjust="spacingAndGlyphs" textLength="7">MFL28</text>
<path d="M318 417.5H328.8L330.3 420.4L328.8 423.3H318L316.5 420.4Z" class="o"/>
<text x="323.4" y="421.45" class="to" lengthAdjust="spacingAndGlyphs" textLength="9.8">WBT5P3</text>
<path d="M296.1 426.1H302.8L304.3 429.3L302.8 432.5H296.1L294.6 429.3Z" class="o"/>
<text x="299.45" y="430.35" class="to" lengthAdjust="spacingAndGlyphs" textLength="5.7">ZLMD</text>
<ellipse cx="315.4" cy="431.45" rx="8.7" ry="2.75" class="b"/>
<text x="315.4" y="432.5" class="tb" lengthAdjust="spacingAndGlyphs" textLength="12.9">DLA0C736</text>
<ellipse cx="290.05" cy="453.15" rx="6.35" ry="2.65" class="b"/>
<text x="290.05" y="454.2" class="tb" lengthAdjust="spacingAndGlyphs" textLength="8.2">KRNW9</text>
<path d="M301.9 449.5H308L309.5 452.3L308 455.1H301.9L300.4 452.3Z" class="o"/>
<text x="304.95" y="453.35" class="to" lengthAdjust="spacingAndGlyphs" textLength="5.1">RLM</text>
<path d="M314.6 448.8H322.6L324.1 451.7L322.6 454.6H314.6L313.1 451.7Z" class="o"/>
<text x="318.6" y="452.75" class="to" lengthAdjust="spacingAndGlyphs" textLength="7">ZKZ9</text>
<ellipse cx="280.5" cy="463.25" rx="7.7" ry="2.95" class="b"/>
<text x="280.5" y="464.3" class="tb" lengthAdjust="spacingAndGlyphs" textLength="10.9">DVU8PXG</text>
<path d="M294.7 459.9H299.7L301.2 462.7L299.7 465.5H294.7L293.2 462.7Z" class="o"/>
<text x="297.2" y="463.75" class="to" lengthAdjust="spacingAndGlyphs" textLength="4">MTM</text>
<ellipse cx="309.15" cy="460.3" rx="5.95" ry="2.9" class="b"/>
<text x="309.15" y="461.35" class="tb" lengthAdjust="spacingAndGlyphs" textLength="7.4">XYD9U</text>
<ellipse cx="327.05" cy="461.6" rx="7.95" ry="2.9" class="b"/>
<text x="327.05" y="462.65" class="tb" lengthAdjust="spacingAndGlyphs" textLength="11.4">UOA62S5</text>
<path d="M289.5 469H297.1L298.6 472.2L297.1 475.4H289.5L288 472.2Z" class="o"/>
<text x="293.3" y="473.25" class="to" lengthAdjust="spacingAndGlyphs" textLength="6.6">DHZ0</text>
<ellipse cx="310.15" cy="473.7" rx="5.75" ry="2.9" class="b"/>
<text x="310.15" y="474.75" class="tb" lengthAdjust="spacingAndGlyphs" textLength="7">HMZN1</text>
<path d="M321.5 472.5H331.7L333.2 475.65L331.7 478.8H321.5L320 475.65Z" class="o"/>
<text x="326.6" y="476.7" class="to" lengthAdjust="spacingAndGlyphs" textLength="9.2">OGLLFS</text>
<path d="M273 476H285L286.5 479.15L285 482.3H273L271.5 479.15Z" class="o"/>
<text x="279" y="480.2" class="to" lengthAdjust="spacingAndGlyphs" textLength="11">AXE682W</text>
<ellipse cx="295.7" cy="480.85" rx="6.9" ry="2.65" class="b"/>
<text x="295.7" y="481.9" class="tb" lengthAdjust="spacingAndGlyphs" textLength="9.3">TDUBA3</text>
<path d="M298.1 486.3H304.6L306.1 489.5L304.6 492.7H298.1L296.6 489.5Z" class="o"/>
<text x="301.35" y="490.55" class="to" lengthAdjust="spacingAndGlyphs" textLength="5.5">SPE</text>
<path d="M311.1 487.2H320.5L322 490.2L320.5 493.2H311.1L309.6 490.2Z" class="o"/>
<text x="315.8" y="491.25" class="to" lengthAdjust="spacingAndGlyphs" textLength="8.4">TGEP6</text>
<ellipse cx="288.55" cy="492.9" rx="4.85" ry="2.8" class="b"/>
<text x="288.55" y="493.95" class="tb" lengthAdjust="spacingAndGlyphs" textLength="5.2">EVYI</text>
<path d="M298 494.9H306.8L309 498.05L306.8 501.2H298L295.8 498.05Z" class="r"/>
<text x="302.4" y="499.1" class="tr" lengthAdjust="spacingAndGlyphs" textLength="9.2">HOGPA2</text>
<path d="M367.9 439.1H378.3L380.5 442.3L378.3 445.5H367.9L365.7 442.3Z" class="r"/>
<text x="373.1" y="443.35" class="tr" lengthAdjust="spacingAndGlyphs" textLength="10.8">ZHTS331</text>
<ellipse cx="360.05" cy="449.7" rx="5.75" ry="3" class="b"/>
<text x="360.05" y="450.75" class="tb" lengthAdjust="spacingAndGlyphs" textLength="7">ZPYGO</text>
<ellipse cx="378.65" cy="450.05" rx="8.95" ry="3.05" class="b"/>
<text x="378.65" y="451.1" class="tb" lengthAdjust="spacingAndGlyphs" textLength="13.4">SBR7182F</text>
<path d="M393.3 442.8H403.6L405.1 445.9L403.6 449H393.3L391.8 445.9Z" class="o"/>
<text x="398.45" y="446.95" class="to" lengthAdjust="spacingAndGlyphs" textLength="9.3">WGTZGO</text>
<ellipse cx="397.7" cy="456.25" rx="5.9" ry="3.05" class="b"/>
<text x="397.7" y="457.3" class="tb" lengthAdjust="spacingAndGlyphs" textLength="7.3">MVOF7</text>
<path d="M420.4 444.5H430.6L432.1 447.65L430.6 450.8H420.4L418.9 447.65Z" class="o"/>
<text x="425.5" y="448.7" class="to" lengthAdjust="spacingAndGlyphs" textLength="9.2">CEGDFP</text>
<path d="M348.4 466.1H359.3L361.5 469.25L359.3 472.4H348.4L346.2 469.25Z" class="r"/>
<text x="353.85" y="470.3" class="tr" lengthAdjust="spacingAndGlyphs" textLength="11.3">URR7REH</text>
<ellipse cx="377.1" cy="466.9" rx="7" ry="2.8" class="b"/>
<text x="377.1" y="467.95" class="tb" lengthAdjust="spacingAndGlyphs" textLength="9.5">CMYCM5</text>
<ellipse cx="371.35" cy="477.35" rx="9.65" ry="3.15" class="b"/>
<text x="371.35" y="478.4" class="tb" lengthAdjust="spacingAndGlyphs" textLength="14.8">MYY2UB7W6</text>
<path d="M347.7 478.6H355.7L357.2 481.55L355.7 484.5H347.7L346.2 481.55Z" class="o"/>
<text x="351.7" y="482.6" class="to" lengthAdjust="spacingAndGlyphs" textLength="7">OVKW</text>
<path d="M385.2 473.3H395.4L396.9 476.5L395.4 479.7H385.2L383.7 476.5Z" class="o"/>
<text x="390.3" y="477.55" class="to" lengthAdjust="spacingAndGlyphs" textLength="9.2">XZZXM6</text>
<path d="M402.5 473.7H409.1L411.3 476.85L409.1 480H402.5L400.3 476.85Z" class="r"/>
<text x="405.8" y="477.9" class="tr" lengthAdjust="spacingAndGlyphs" textLength="7">LUU5</text>
<ellipse cx="367.65" cy="486.3" rx="8.55" ry="2.9" class="b"/>
<text x="367.65" y="487.35" class="tb" lengthAdjust="spacingAndGlyphs" textLength="12.6">FTTFE07I</text>
<ellipse cx="396.7" cy="484.6" rx="6.8" ry="2.9" class="b"/>
<text x="396.7" y="485.65" class="tb" lengthAdjust="spacingAndGlyphs" textLength="9.1">MSAT57</text>
<path d="M422.1 475.4H429.7L431.2 478.55L429.7 481.7H422.1L420.6 478.55Z" class="o"/>
<text x="425.9" y="479.6" class="to" lengthAdjust="spacingAndGlyphs" textLength="6.6">DLIV</text>
<path d="M356.2 492.3H366.7L368.9 495.5L366.7 498.7H356.2L354 495.5Z" class="r"/>
<text x="361.45" y="496.55" class="tr" lengthAdjust="spacingAndGlyphs" textLength="10.9">UIANWI4</text>
<path d="M372.5 491.4H382.3L384.5 494.75L382.3 498.1H372.5L370.3 494.75Z" class="r"/>
<text x="377.4" y="495.8" class="tr" lengthAdjust="spacingAndGlyphs" textLength="10.2">RFYCB2</text>
<path d="M387.5 493.5H398.6L400.1 496.95L398.6 500.4H387.5L386 496.95Z" class="o"/>
<text x="393.05" y="498" class="to" lengthAdjust="spacingAndGlyphs" textLength="10.1">EKHOZ1</text>
<path d="M426.8 489.3H434.2L435.7 492.5L434.2 495.7H426.8L425.3 492.5Z" class="o"/>
<text x="430.5" y="493.55" class="to" lengthAdjust="spacingAndGlyphs" textLength="6.4">ETT1</text>
<ellipse cx="450.75" cy="437.7" rx="5.75" ry="2.9" class="b"/>
<text x="450.75" y="438.75" class="tb" lengthAdjust="spacingAndGlyphs" textLength="7">EOGR6</text>
<path d="M435.6 437.9H440.7L442.2 440.9L440.7 443.9H435.6L434.1 440.9Z" class="o"/>
<text x="438.15" y="441.95" class="to" lengthAdjust="spacingAndGlyphs" textLength="4.1">OCW</text>
<path d="M459.1 438.3H471.8L473.3 441.2L471.8 444.1H459.1L457.6 441.2Z" class="o"/>
<text x="465.45" y="442.25" class="to" lengthAdjust="spacingAndGlyphs" textLength="11.7">YFVKBBY</text>
<path d="M448 444H453.6L455.1 447L453.6 450H448L446.5 447Z" class="o"/>
<text x="450.8" y="448.05" class="to" lengthAdjust="spacingAndGlyphs" textLength="4.6">YWF</text>
<ellipse cx="439.1" cy="452.9" rx="5" ry="2.9" class="b"/>
<text x="439.1" y="453.95" class="tb" lengthAdjust="spacingAndGlyphs" textLength="5.5">DPFG</text>
<path d="M441.8 456.8H449.5L451 459.85L449.5 462.9H441.8L440.3 459.85Z" class="o"/>
<text x="445.65" y="460.9" class="to" lengthAdjust="spacingAndGlyphs" textLength="6.7">VMX3</text>
<ellipse cx="488.35" cy="450.3" rx="7.05" ry="2.9" class="b"/>
<text x="488.35" y="451.35" class="tb" lengthAdjust="spacingAndGlyphs" textLength="9.6">MDOOHA</text>
<path d="M469 454.3H478.4L479.9 457.25L478.4 460.2H469L467.5 457.25Z" class="o"/>
<text x="473.7" y="458.3" class="to" lengthAdjust="spacingAndGlyphs" textLength="8.4">XYFE0</text>
<path d="M498.4 450.3H508.6L510.1 453.5L508.6 456.7H498.4L496.9 453.5Z" class="o"/>
<text x="503.5" y="454.55" class="to" lengthAdjust="spacingAndGlyphs" textLength="9.2">PSV089</text>
<path d="M485.3 459.6H498.1L500.3 462.9L498.1 466.2H485.3L483.1 462.9Z" class="r"/>
<text x="491.7" y="463.95" class="tr" lengthAdjust="spacingAndGlyphs" textLength="13.2">APP96E8R</text>
<ellipse cx="508.1" cy="463.95" rx="5.5" ry="3.15" class="b"/>
<text x="508.1" y="465" class="tb" lengthAdjust="spacingAndGlyphs" textLength="6.5">FYNW</text>
<path d="M504.8 469.4H511.4L513.6 472.55L511.4 475.7H504.8L502.6 472.55Z" class="r"/>
<text x="508.1" y="473.6" class="tr" lengthAdjust="spacingAndGlyphs" textLength="7">ASYA</text>
<ellipse cx="496.6" cy="434.8" rx="9.2" ry="2.9" class="b"/>
<text x="496.6" y="435.85" class="tb" lengthAdjust="spacingAndGlyphs" textLength="13.9">MOY9XR9NG</text>
<path d="M458.6 469.4H466.6L468.1 472.55L466.6 475.7H458.6L457.1 472.55Z" class="o"/>
<text x="462.6" y="473.6" class="to" lengthAdjust="spacingAndGlyphs" textLength="7">XVA5</text>
<path d="M434.1 472.6H443.9L445.4 475.45L443.9 478.3H434.1L432.6 475.45Z" class="o"/>
<text x="439" y="476.5" class="to" lengthAdjust="spacingAndGlyphs" textLength="8.8">LWTVU</text>
<ellipse cx="461.15" cy="482.3" rx="7.45" ry="3" class="b"/>
<text x="461.15" y="483.35" class="tb" lengthAdjust="spacingAndGlyphs" textLength="10.4">TRI1BCK</text>
<ellipse cx="438.2" cy="485.5" rx="6.2" ry="2.7" class="b"/>
<text x="438.2" y="486.55" class="tb" lengthAdjust="spacingAndGlyphs" textLength="7.9">USO0E</text>
<path d="M471.9 484.5H480.4L481.9 487.65L480.4 490.8H471.9L470.4 487.65Z" class="o"/>
<text x="476.15" y="488.7" class="to" lengthAdjust="spacingAndGlyphs" textLength="7.5">DNI97</text>
<path d="M456 489.3H465.9L467.4 492.5L465.9 495.7H456L454.5 492.5Z" class="o"/>
<text x="460.95" y="493.55" class="to" lengthAdjust="spacingAndGlyphs" textLength="8.9">ZIC5R</text>
<path d="M492.4 484.5H502.2L503.7 487.65L502.2 490.8H492.4L490.9 487.65Z" class="o"/>
<text x="497.3" y="488.7" class="to" lengthAdjust="spacingAndGlyphs" textLength="8.8">ZKGIM</text>
<ellipse cx="511.75" cy="492" rx="6.15" ry="3.2" class="b"/>
<text x="511.75" y="493.05" class="tb" lengthAdjust="spacingAndGlyphs" textLength="7.8">GSS64</text>
<rect x="491.4" y="351.6" width="25.1" height="41.2" class="box"/>
<ellipse cx="503.95" cy="357.1" rx="7.2" ry="3.1" class="b"/>
<text x="503.95" y="358.15" class="tb" lengthAdjust="spacingAndGlyphs" textLength="9">Kinase</text>
<path d="M497.2 362H510.9L512.7 368.9L510.9 375.8H497.2L495.4 368.9Z" class="o"/>
<text x="504.05" y="366.6" class="td" style="font-size:3px" lengthAdjust="spacingAndGlyphs" textLength="10.3">Substrate</text>
<text x="504.05" y="370.1" class="td" style="font-size:3px" lengthAdjust="spacingAndGlyphs" textLength="12.3">of Tyrosine</text>
<text x="504.05" y="373.6" class="td" style="font-size:3px" lengthAdjust="spacingAndGlyphs" textLength="10.3">Kinase</text>
<path d="M496.2 377.6H512.2L514 384.6L512.2 391.6H496.2L494.4 384.6Z" class="r"/>
<text x="504.2" y="382.2" class="tr" style="font-size:3px" lengthAdjust="spacingAndGlyphs" textLength="12.6">Substrate</text>
<text x="504.2" y="385.7" class="tr" style="font-size:3px" lengthAdjust="spacingAndGlyphs" textLength="14.6">and Tyrosine</text>
<text x="504.2" y="389.2" class="tr" style="font-size:3px" lengthAdjust="spacingAndGlyphs" textLength="12.6">Kinase</text>
</svg></body></html>
